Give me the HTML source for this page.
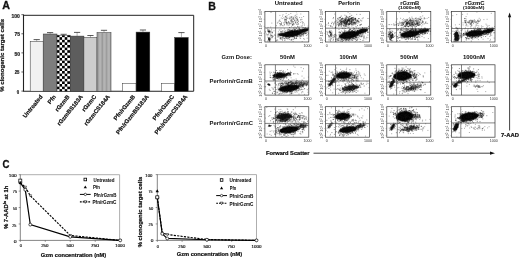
<!DOCTYPE html><html><head><meta charset="utf-8"><style>html,body{margin:0;padding:0;background:#fff;}svg{display:block;filter:grayscale(1) blur(0.35px);}text{font-family:"Liberation Sans", sans-serif;}</style></head><body>
<svg width="520" height="259" viewBox="0 0 520 259">
<defs>
<pattern id="chk" x="56.9" y="34.6" width="5.2" height="5.2" patternUnits="userSpaceOnUse"><rect width="5.2" height="5.2" fill="#fff"/><rect x="0" y="0" width="2.6" height="2.6" fill="#000"/><rect x="2.6" y="2.6" width="2.6" height="2.6" fill="#000"/></pattern>
<pattern id="str" x="96.9" y="0" width="4.3" height="10" patternUnits="userSpaceOnUse"><rect width="4.3" height="10" fill="#b4b4b4"/><rect x="0.3" width="1.6" height="10" fill="#9a9a9a"/></pattern>
<filter id="bl" x="-50%" y="-50%" width="200%" height="200%"><feGaussianBlur stdDeviation="0.6"/></filter>
<filter id="bl2" x="-50%" y="-50%" width="200%" height="200%"><feGaussianBlur stdDeviation="0.35"/></filter>
</defs>
<text id="tA" x="2.21" y="9.00" font-size="10.8" font-weight="bold" fill="#111" stroke="#111" stroke-width="0.3" textLength="7.73" lengthAdjust="spacingAndGlyphs">A</text>
<g stroke="#222" fill="none">
<path d="M23.5 15.3H193.7V91.2" stroke-width="1.0" stroke="#222"/>
<path d="M23.5 14.6V91.3H193.7" stroke-width="1.1"/>
<path d="M21.4 91.10H23.5" stroke-width="0.7"/>
<path d="M21.4 71.99H23.5" stroke-width="0.7"/>
<path d="M21.4 52.88H23.5" stroke-width="0.7"/>
<path d="M21.4 33.77H23.5" stroke-width="0.7"/>
<path d="M21.4 14.66H23.5" stroke-width="0.7"/>
</g>
<text id="ta100" x="11.44" y="17.50" font-size="5.5" font-weight="bold" fill="#222" stroke="#222" stroke-width="0.22" textLength="8.43" lengthAdjust="spacingAndGlyphs">100</text>
<text id="ta75" x="14.59" y="36.40" font-size="5.5" font-weight="bold" fill="#222" stroke="#222" stroke-width="0.22" textLength="5.51" lengthAdjust="spacingAndGlyphs">75</text>
<text id="ta50" x="14.55" y="55.80" font-size="5.5" font-weight="bold" fill="#222" stroke="#222" stroke-width="0.22" textLength="5.52" lengthAdjust="spacingAndGlyphs">50</text>
<text id="ta25" x="14.72" y="74.00" font-size="5.5" font-weight="bold" fill="#222" stroke="#222" stroke-width="0.22" textLength="4.70" lengthAdjust="spacingAndGlyphs">25</text>
<text id="ta0" x="16.65" y="93.80" font-size="5.5" font-weight="bold" fill="#222" stroke="#222" stroke-width="0.22" textLength="2.40" lengthAdjust="spacingAndGlyphs">0</text>
<text id="tayl" transform="translate(4.40 91.84) rotate(-90)" font-size="5.6" font-weight="bold" fill="#111" stroke="#111" stroke-width="0.22" textLength="72.92" lengthAdjust="spacingAndGlyphs">% clonogenic target cells</text>
<rect x="30.2" y="41.3" width="13.00" height="49.90" fill="#f1f1f1" stroke="#333" stroke-width="0.5"/>
<path d="M36.70 41.3V39.6" stroke="#555" stroke-width="0.45" fill="none"/><path d="M33.60 39.6H39.80" stroke="#222" stroke-width="0.75" fill="none"/>
<rect x="43.2" y="34.0" width="13.80" height="57.20" fill="#7d7d7d" stroke="#333" stroke-width="0.5"/>
<path d="M50.10 34.0V32.6" stroke="#555" stroke-width="0.45" fill="none"/><path d="M47.00 32.6H53.20" stroke="#222" stroke-width="0.75" fill="none"/>
<rect x="57.0" y="35.2" width="13.30" height="56.00" fill="url(#chk)" stroke="#333" stroke-width="0.5"/>
<path d="M63.65 35.2V34.3" stroke="#555" stroke-width="0.45" fill="none"/><path d="M60.55 34.3H66.75" stroke="#222" stroke-width="0.75" fill="none"/>
<rect x="70.3" y="36.1" width="13.60" height="55.10" fill="#5d5d5d" stroke="#333" stroke-width="0.5"/>
<path d="M77.10 36.1V32.4" stroke="#555" stroke-width="0.45" fill="none"/><path d="M74.00 32.4H80.20" stroke="#222" stroke-width="0.75" fill="none"/>
<rect x="83.9" y="37.5" width="13.10" height="53.70" fill="#cdcdcd" stroke="#333" stroke-width="0.5"/>
<path d="M90.45 37.5V35.5" stroke="#555" stroke-width="0.45" fill="none"/><path d="M87.35 35.5H93.55" stroke="#222" stroke-width="0.75" fill="none"/>
<rect x="97.0" y="32.6" width="14.00" height="58.60" fill="url(#str)" stroke="#333" stroke-width="0.5"/>
<path d="M104.00 32.6V30.3" stroke="#555" stroke-width="0.45" fill="none"/><path d="M100.90 30.3H107.10" stroke="#222" stroke-width="0.75" fill="none"/>
<rect x="122.4" y="83.6" width="13.70" height="7.60" fill="#fff" stroke="#333" stroke-width="0.5"/>
<rect x="136.1" y="32.1" width="13.70" height="59.10" fill="#000" stroke="#333" stroke-width="0.5"/>
<path d="M142.95 32.1V30.0" stroke="#555" stroke-width="0.45" fill="none"/><path d="M139.85 30.0H146.05" stroke="#222" stroke-width="0.75" fill="none"/>
<rect x="161.6" y="83.7" width="13.10" height="7.50" fill="#fff" stroke="#333" stroke-width="0.5"/>
<rect x="174.7" y="37.5" width="13.50" height="53.70" fill="#000" stroke="#333" stroke-width="0.5"/>
<path d="M181.45 37.5V32.6" stroke="#555" stroke-width="0.45" fill="none"/><path d="M178.35 32.6H184.55" stroke="#222" stroke-width="0.75" fill="none"/>
<text id="xlUntreated" transform="translate(42.90 97.0) rotate(-51)" font-size="5.9" font-weight="bold" text-anchor="end" fill="#111" stroke="#111" stroke-width="0.2">Untreated</text>
<text id="xlPfn" transform="translate(56.30 97.0) rotate(-51)" font-size="5.9" font-weight="bold" text-anchor="end" fill="#111" stroke="#111" stroke-width="0.2">Pfn</text>
<text id="xlrGzmB" transform="translate(69.85 97.0) rotate(-51)" font-size="5.9" font-weight="bold" text-anchor="end" fill="#111" stroke="#111" stroke-width="0.2">rGzmB</text>
<text id="xlrGzmBS183A" transform="translate(83.30 97.0) rotate(-51)" font-size="5.9" font-weight="bold" text-anchor="end" fill="#111" stroke="#111" stroke-width="0.2">rGzmBS183A</text>
<text id="xlrGzmC" transform="translate(96.65 97.0) rotate(-51)" font-size="5.9" font-weight="bold" text-anchor="end" fill="#111" stroke="#111" stroke-width="0.2">rGzmC</text>
<text id="xlrGzmCS184A" transform="translate(110.20 97.0) rotate(-51)" font-size="5.9" font-weight="bold" text-anchor="end" fill="#111" stroke="#111" stroke-width="0.2">rGzmCS184A</text>
<text id="xlPfn/rGzmB" transform="translate(135.45 97.0) rotate(-51)" font-size="5.9" font-weight="bold" text-anchor="end" fill="#111" stroke="#111" stroke-width="0.2">Pfn/rGzmB</text>
<text id="xlPfn/rGzmBS183A" transform="translate(149.15 97.0) rotate(-51)" font-size="5.9" font-weight="bold" text-anchor="end" fill="#111" stroke="#111" stroke-width="0.2">Pfn/rGzmBS183A</text>
<text id="xlPfn/rGzmC" transform="translate(174.35 97.0) rotate(-51)" font-size="5.9" font-weight="bold" text-anchor="end" fill="#111" stroke="#111" stroke-width="0.2">Pfn/rGzmC</text>
<text id="xlPfn/rGzmCS184A" transform="translate(187.65 97.0) rotate(-51)" font-size="5.9" font-weight="bold" text-anchor="end" fill="#111" stroke="#111" stroke-width="0.2">Pfn/rGzmCS184A</text>
<text id="tB" x="208.21" y="9.50" font-size="10.8" font-weight="bold" fill="#111" stroke="#111" stroke-width="0.3" textLength="7.66" lengthAdjust="spacingAndGlyphs">B</text>
<text id="tb1" x="274.79" y="5.00" font-size="5.6" font-weight="bold" fill="#111" stroke="#111" stroke-width="0.04" textLength="27.94" lengthAdjust="spacingAndGlyphs">Untreated</text>
<text id="tb2" x="338.21" y="5.00" font-size="5.6" font-weight="bold" fill="#111" stroke="#111" stroke-width="0.04" textLength="21.84" lengthAdjust="spacingAndGlyphs">Perforin</text>
<text id="tb3" x="400.19" y="4.90" font-size="5.2" font-weight="bold" fill="#111" stroke="#111" stroke-width="0.04" textLength="19.15" lengthAdjust="spacingAndGlyphs">rGzmB</text>
<text id="tb3n" x="398.35" y="8.50" font-size="4.4" font-weight="bold" fill="#111" stroke="#111" stroke-width="0.04" textLength="22.33" lengthAdjust="spacingAndGlyphs">(1000nM)</text>
<text id="tb4" x="465.12" y="5.30" font-size="5.2" font-weight="bold" fill="#111" stroke="#111" stroke-width="0.04" textLength="19.40" lengthAdjust="spacingAndGlyphs">rGzmC</text>
<text id="tb4n" x="463.00" y="8.50" font-size="4.4" font-weight="bold" fill="#111" stroke="#111" stroke-width="0.04" textLength="21.37" lengthAdjust="spacingAndGlyphs">(1000nM)</text>
<text id="tgd" x="221.50" y="59.00" font-size="5.6" font-weight="bold" fill="#111" textLength="30.40" lengthAdjust="spacingAndGlyphs">Gzm Dose:</text>
<text id="td1" x="280.07" y="59.10" font-size="5.6" font-weight="bold" fill="#111" stroke="#111" stroke-width="0.03" textLength="14.92" lengthAdjust="spacingAndGlyphs">50nM</text>
<text id="td2" x="339.43" y="59.00" font-size="5.6" font-weight="bold" fill="#111" stroke="#111" stroke-width="0.03" textLength="17.58" lengthAdjust="spacingAndGlyphs">100nM</text>
<text id="td3" x="400.34" y="59.00" font-size="5.6" font-weight="bold" fill="#111" stroke="#111" stroke-width="0.03" textLength="17.80" lengthAdjust="spacingAndGlyphs">500nM</text>
<text id="td4" x="462.93" y="59.00" font-size="5.6" font-weight="bold" fill="#111" stroke="#111" stroke-width="0.03" textLength="22.09" lengthAdjust="spacingAndGlyphs">1000nM</text>
<text id="tpb" x="209.55" y="83.40" font-size="5.6" font-weight="bold" fill="#111" textLength="43.27" lengthAdjust="spacingAndGlyphs">Perforin/rGzmB</text>
<text id="tpc" x="209.49" y="125.40" font-size="5.6" font-weight="bold" fill="#111" textLength="43.44" lengthAdjust="spacingAndGlyphs">Perforin/rGzmC</text>
<text id="tfs" x="266.02" y="154.50" font-size="5.6" font-weight="bold" fill="#111" stroke="#111" stroke-width="0.22" textLength="43.43" lengthAdjust="spacingAndGlyphs">Forward Scatter</text>
<path d="M313.5 153.2H491" stroke="#111" stroke-width="0.8"/><path d="M495 153.2L490 151.6V154.8Z" fill="#111"/>
<path d="M509.6 130.5V16.5" stroke="#111" stroke-width="0.8"/><path d="M509.6 12.6L508 17.2H511.2Z" fill="#111"/>
<text id="t7a" x="501.03" y="136.60" font-size="5.6" font-weight="bold" fill="#111" stroke="#111" stroke-width="0.22" textLength="17.91" lengthAdjust="spacingAndGlyphs">7-AAD</text>
<clipPath id="c00"><rect x="264.9" y="11.6" width="43.90" height="30.40"/></clipPath>
<g clip-path="url(#c00)">
<ellipse cx="292" cy="33.6" rx="10.20" ry="3.04" transform="rotate(-10 292 33.6)" fill="#000" fill-opacity="1" filter="url(#bl)"/>
<ellipse cx="303.5" cy="30.5" rx="5.10" ry="1.84" transform="rotate(-14 303.5 30.5)" fill="#000" fill-opacity="1" filter="url(#bl)"/>
<ellipse cx="281.5" cy="34.6" rx="3.40" ry="1.12" transform="rotate(-6 281.5 34.6)" fill="#000" fill-opacity="0.8" filter="url(#bl)"/>
<ellipse cx="269.3" cy="39.5" rx="0.85" ry="1.12" transform="rotate(0 269.3 39.5)" fill="#000" fill-opacity="0.6" filter="url(#bl)"/>
<ellipse cx="269.3" cy="31.5" rx="0.85" ry="0.96" transform="rotate(0 269.3 31.5)" fill="#000" fill-opacity="0.4" filter="url(#bl)"/>
<path d="M281.2 32.8h0M281.5 34.4h0M305.4 33.6h0M282.7 34.2h0M278.4 34.3h0M293.9 33.7h0M281.4 34.7h0M297.2 34.9h0M280.4 35.1h0M288.9 31.9h0M291.0 34.4h0M268.6 38.6h0M285.1 32.3h0M299.1 27.6h0M305.0 33.3h0M306.2 30.4h0M279.6 34.5h0M294.2 33.5h0M290.8 35.4h0M288.5 34.8h0M269.3 31.9h0M299.2 31.5h0M301.8 35.6h0M269.2 39.4h0M295.8 35.0h0M298.9 31.3h0M291.0 33.1h0M281.8 35.4h0M287.3 29.9h0M305.0 30.0h0M299.5 31.2h0M268.3 40.2h0M301.7 29.8h0M308.1 27.6h0M305.0 30.7h0M269.5 37.9h0M299.9 29.4h0M280.9 31.5h0M284.0 33.7h0M301.4 31.0h0M288.2 34.3h0M288.8 32.5h0M291.7 34.4h0M287.1 35.0h0M300.2 29.8h0M304.6 28.9h0M303.9 30.2h0M301.4 31.0h0M285.9 32.5h0M292.3 35.4h0M295.7 35.3h0M291.7 39.5h0M308.8 29.8h0M287.0 31.3h0M282.8 35.7h0M299.5 31.8h0M295.9 34.6h0M305.9 30.3h0M299.9 29.5h0M290.1 29.7h0M280.9 37.4h0M284.4 34.9h0M297.6 26.4h0M292.3 35.7h0M293.2 34.7h0M289.2 33.2h0M293.9 31.6h0M295.0 33.9h0M292.1 34.0h0M305.0 32.5h0M299.3 33.8h0M290.2 35.9h0M277.7 35.2h0M294.5 33.6h0M299.2 32.4h0M301.1 33.3h0M288.0 35.6h0M283.5 34.8h0M286.3 33.5h0M296.2 34.5h0M299.0 33.3h0M294.8 32.6h0M304.7 29.4h0M282.0 31.9h0M270.3 31.6h0M305.3 30.8h0M298.4 32.5h0M300.7 29.9h0M289.6 35.5h0M292.4 30.3h0M291.0 31.9h0M291.8 34.8h0M293.6 36.1h0M303.3 30.8h0M308.4 28.1h0M279.6 34.3h0M289.0 36.6h0M305.5 29.8h0M301.7 34.6h0M308.3 29.8h0M295.4 34.3h0M282.9 34.1h0M303.3 31.9h0M280.3 35.5h0M305.7 29.8h0M269.5 31.4h0M299.0 31.3h0M284.6 38.6h0M295.1 32.7h0M287.9 32.6h0M275.0 35.5h0M298.6 33.8h0M294.6 32.7h0M269.1 39.0h0M296.0 35.0h0M286.5 34.9h0M298.3 31.8h0M294.6 34.1h0M305.9 32.9h0M281.5 35.0h0M294.7 30.6h0M278.4 35.7h0M302.2 31.8h0M283.7 33.9h0M282.8 35.8h0M306.3 33.6h0M299.0 31.7h0M268.8 37.9h0M282.2 34.6h0M290.3 33.2h0M282.9 38.2h0M285.1 34.5h0M284.9 35.7h0M285.2 35.4h0M282.9 33.1h0M297.7 29.9h0M292.4 35.4h0M304.4 28.0h0M279.2 34.0h0M297.5 30.7h0M287.5 35.6h0M291.5 30.3h0M270.1 38.7h0M269.1 39.9h0M300.5 32.1h0M269.5 39.8h0M301.7 30.0h0M296.3 32.2h0M291.5 33.0h0" stroke="#111" stroke-opacity="0.6" stroke-width="0.8" stroke-linecap="square" fill="none"/>
<path d="M286.4 34.4h0M300.2 32.1h0M287.5 35.0h0M292.1 37.1h0M296.8 32.8h0M284.2 34.0h0M288.5 29.6h0M291.2 34.2h0M285.0 34.3h0M301.1 32.0h0M269.8 41.0h0M302.2 34.2h0M269.0 31.6h0M286.7 35.1h0M286.2 38.3h0M294.1 34.2h0M279.1 37.0h0M300.5 33.3h0M281.9 34.5h0M290.0 30.7h0M286.6 36.2h0M290.7 33.1h0M295.1 32.1h0M306.0 29.6h0M284.4 34.9h0M291.2 32.2h0M286.1 32.8h0M302.8 32.2h0M298.0 35.6h0M282.5 33.2h0M283.1 35.7h0M294.5 36.1h0M294.9 31.6h0M295.8 38.5h0M293.7 31.9h0M303.4 32.8h0M289.0 34.4h0M290.5 33.1h0M291.8 34.4h0M281.5 34.9h0M290.6 33.7h0M303.0 31.8h0M303.1 30.5h0M294.3 34.7h0M292.6 30.8h0M290.1 34.8h0M303.4 30.5h0M303.7 30.8h0M269.1 31.5h0M302.9 31.2h0M296.0 31.8h0M291.4 34.1h0M280.4 38.9h0M295.5 32.9h0M290.3 35.7h0M305.6 27.5h0M294.5 33.7h0M300.0 29.7h0M290.8 31.3h0M292.3 34.1h0M286.4 33.5h0M296.9 34.0h0M279.4 35.2h0M282.1 37.3h0M304.9 29.9h0M285.5 37.0h0M277.6 36.9h0M268.3 31.1h0M281.3 33.0h0M301.8 34.5h0M288.2 36.3h0M297.9 36.0h0M280.4 33.2h0M297.5 33.9h0M300.6 31.5h0M304.5 30.6h0M281.9 34.4h0M294.7 35.7h0M291.4 35.4h0M304.0 31.4h0M303.1 29.1h0M279.3 30.0h0M287.8 36.7h0M280.0 33.2h0M285.1 31.4h0M296.0 34.0h0M298.4 30.4h0M286.2 34.1h0M293.2 36.0h0M296.6 38.2h0M269.4 40.9h0M308.0 28.8h0M292.8 33.8h0M292.0 35.8h0M292.1 35.0h0M304.2 30.7h0M296.5 28.6h0M306.4 30.3h0M290.7 30.9h0M283.3 37.0h0M280.4 35.8h0M289.2 31.8h0M304.5 32.2h0M295.3 32.7h0M298.5 34.3h0M303.6 30.6h0M287.1 38.1h0M293.9 33.2h0M268.6 31.7h0M304.1 30.9h0M302.0 33.3h0M295.0 35.5h0M296.6 33.5h0M307.1 31.8h0M296.0 33.4h0M292.0 31.7h0M291.3 36.1h0M293.6 34.8h0M298.8 32.7h0M298.9 30.0h0M289.6 37.6h0M285.8 33.5h0M298.1 33.8h0M289.1 30.9h0M290.3 31.0h0M294.4 29.5h0M292.2 30.6h0M280.9 34.3h0M291.6 31.0h0M289.7 39.3h0M287.9 38.4h0M281.6 35.2h0M293.5 32.1h0M296.2 33.6h0M280.9 35.3h0M293.3 33.5h0M294.9 27.1h0M293.6 32.3h0M293.0 36.5h0M270.6 39.6h0M294.4 30.9h0M286.1 33.8h0M268.9 39.3h0M295.3 34.2h0M268.9 32.0h0M283.6 34.9h0M309.0 28.4h0M293.9 28.4h0" stroke="#111" stroke-opacity="0.6" stroke-width="0.8" stroke-linecap="square" fill="none"/>
<path d="M302.3 25.9h0M280.0 34.3h0M291.7 33.2h0M290.6 33.9h0M290.6 36.3h0M282.1 33.9h0M268.8 30.3h0M280.5 38.0h0M301.4 33.6h0M284.9 35.3h0M294.4 38.1h0M280.4 38.1h0M297.5 32.0h0M300.1 33.9h0M301.6 31.5h0M286.0 34.7h0M302.5 32.7h0M289.8 33.7h0M282.5 35.0h0M303.5 31.3h0M280.8 33.8h0M291.8 34.8h0M288.6 38.2h0M306.0 28.9h0M292.3 35.5h0M299.9 31.9h0M305.6 31.1h0M296.4 33.6h0M297.9 27.1h0M279.5 35.1h0M288.0 36.0h0M286.6 36.3h0M281.3 34.1h0M306.9 30.1h0M302.5 29.9h0M287.8 33.4h0M307.0 32.7h0M295.0 32.9h0M293.6 39.3h0M297.0 33.1h0M296.7 32.5h0M277.9 34.1h0M302.0 31.5h0M305.8 29.4h0M280.7 35.4h0M300.8 31.0h0M300.9 31.6h0M293.7 31.7h0M290.0 32.9h0M295.6 29.5h0M269.6 40.7h0M284.1 31.9h0M307.6 29.0h0M287.4 35.9h0M299.6 35.7h0M289.4 32.3h0M298.0 32.6h0M283.1 33.6h0M301.2 26.2h0M291.4 31.7h0M296.5 35.0h0M303.4 31.6h0M297.1 34.4h0M298.8 32.8h0M291.2 32.4h0M301.6 31.0h0M284.1 34.6h0M287.1 35.1h0M290.2 35.4h0M301.7 31.8h0M299.2 29.4h0M298.1 29.2h0M285.6 33.9h0M282.4 33.9h0M295.1 33.5h0M291.1 33.6h0M293.5 32.3h0M293.7 34.3h0M268.7 31.5h0M282.0 39.5h0M302.0 31.1h0M305.8 28.8h0M281.6 34.3h0M293.1 35.0h0M295.5 33.0h0M291.3 32.0h0M303.2 27.5h0M286.4 32.6h0M301.0 32.9h0M304.4 31.7h0M295.5 31.6h0M307.8 28.6h0M292.0 36.0h0M295.2 29.0h0M304.2 29.4h0M308.8 33.3h0M299.3 34.3h0M295.1 34.5h0M288.0 34.2h0M295.9 35.7h0M299.4 28.7h0M289.3 36.9h0M311.3 25.9h0M285.3 33.3h0M300.8 29.7h0M280.7 35.3h0M296.0 33.5h0M282.3 35.3h0M302.9 34.0h0M297.5 32.9h0M291.5 33.7h0M287.0 36.7h0M292.8 36.5h0M297.1 34.9h0M282.1 31.6h0M300.5 33.6h0M295.4 30.8h0M297.3 36.3h0M289.9 27.7h0M281.6 34.0h0M297.9 30.1h0M287.5 34.1h0M281.4 35.9h0M298.5 33.0h0M298.0 32.1h0M302.6 34.0h0M268.5 39.2h0M303.4 30.2h0M284.3 28.9h0M300.4 30.5h0M303.5 33.4h0M288.2 36.2h0M291.6 30.3h0M294.0 29.8h0M304.6 31.0h0M297.4 31.3h0M290.6 35.0h0M287.6 31.1h0M281.8 35.5h0M302.1 32.1h0M290.8 33.7h0M294.1 35.1h0M288.6 34.0h0M301.8 31.8h0M303.9 31.5h0M299.1 28.6h0M288.7 31.3h0M300.9 36.2h0" stroke="#111" stroke-opacity="0.6" stroke-width="0.8" stroke-linecap="square" fill="none"/>
<path d="M294.4 30.0h0M288.7 21.6h0M286.3 17.7h0M292.2 25.2h0M277.7 40.3h0M283.5 22.9h0M280.1 38.7h0M297.5 19.1h0M279.9 15.4h0M279.6 20.8h0M288.1 33.9h0M286.2 22.1h0M284.7 20.5h0M294.2 37.0h0M299.6 34.6h0M288.9 35.4h0M289.5 37.7h0M302.6 29.7h0M294.5 38.6h0M281.1 24.3h0M286.7 24.8h0M286.2 23.1h0M291.8 34.1h0M293.0 18.5h0M296.7 16.4h0M286.4 19.2h0M270.1 33.3h0M300.8 14.0h0M277.1 39.7h0M293.6 19.4h0M284.7 19.2h0M270.2 41.0h0M298.4 24.2h0M296.0 23.3h0M304.4 25.2h0M300.0 32.5h0M281.3 18.0h0M290.8 13.5h0M302.6 22.1h0M270.6 12.1h0M300.7 36.0h0M293.2 17.1h0M284.3 33.9h0M271.6 29.3h0M291.0 17.4h0M285.5 19.6h0M268.8 38.0h0M267.9 29.7h0M303.2 35.9h0M297.7 19.6h0M267.6 34.7h0M296.1 33.9h0M289.4 24.9h0M292.2 22.9h0M291.7 17.6h0M299.1 26.6h0M284.8 19.5h0M305.7 31.2h0M292.0 33.2h0M272.8 35.9h0M289.2 22.9h0M294.3 37.7h0M267.1 35.1h0M280.8 31.2h0M293.7 21.8h0M270.2 35.9h0M293.8 32.5h0M297.2 35.9h0M297.1 17.3h0M272.0 33.1h0M292.5 33.2h0M300.7 33.8h0M267.8 41.1h0M295.5 22.7h0M267.2 43.9h0M292.8 25.5h0M291.8 16.6h0M281.5 38.4h0M276.5 25.7h0M294.7 32.5h0M280.4 21.5h0M294.8 16.1h0M268.9 38.6h0M288.0 29.2h0M288.6 21.8h0M279.9 34.4h0M289.6 30.1h0M293.8 36.2h0M272.4 32.3h0M278.6 33.8h0M289.3 29.8h0M300.9 36.2h0M310.8 34.3h0M299.9 31.1h0M300.6 35.6h0M306.4 35.5h0M290.8 34.6h0M271.0 35.4h0M285.8 37.2h0M289.6 18.6h0M283.9 17.7h0M286.7 36.2h0M274.8 34.4h0M266.5 34.0h0M289.2 23.1h0M291.2 16.7h0M289.3 34.4h0M311.5 24.6h0M280.2 25.7h0M291.5 26.8h0M304.8 33.8h0M296.9 20.9h0M291.0 23.9h0M296.0 35.0h0M292.1 20.1h0M292.6 29.7h0M269.4 32.7h0M271.3 35.1h0M293.2 18.1h0M271.3 35.8h0M282.5 40.3h0M289.0 18.2h0M281.8 35.5h0M303.1 34.5h0M279.5 23.7h0M293.9 33.2h0M284.6 23.0h0M293.1 41.4h0M268.1 31.1h0M290.9 33.1h0M299.9 32.6h0M289.9 33.0h0M291.2 31.7h0M287.1 15.8h0M285.3 16.4h0M302.2 41.6h0M267.6 30.3h0M284.3 25.0h0M282.8 30.5h0M291.0 21.4h0M281.1 34.1h0M293.5 24.3h0M294.6 20.2h0M300.7 19.4h0M287.0 23.0h0M285.4 21.0h0M284.5 21.9h0M287.8 24.1h0M270.9 37.0h0M294.0 33.0h0M286.5 22.8h0M285.2 30.4h0M282.5 16.1h0M293.7 23.2h0M292.9 24.7h0M301.9 19.5h0M296.7 33.7h0M299.6 17.5h0M292.0 34.2h0M282.2 25.5h0M282.9 35.9h0M268.9 32.1h0M286.7 23.3h0M296.6 24.4h0M305.3 33.4h0M270.8 32.3h0M289.2 23.8h0M278.7 36.7h0M303.7 33.6h0M271.7 35.9h0M300.3 34.0h0M269.2 39.6h0M278.0 22.3h0M286.4 36.3h0M304.0 32.6h0M286.4 19.8h0M289.8 17.1h0M312.0 32.4h0M293.6 17.8h0M292.5 21.5h0M269.1 37.7h0M291.6 22.9h0M303.6 16.5h0M289.3 35.3h0M280.2 23.5h0M281.6 22.4h0M277.4 23.1h0M297.6 24.7h0M302.5 23.8h0M283.1 25.8h0M286.1 19.7h0" stroke="#111" stroke-opacity="0.42" stroke-width="0.85" stroke-linecap="square" fill="none"/>
<path d="M289.5 27.5h0M308.0 26.1h0M284.8 38.6h0M297.6 22.8h0M303.3 22.6h0M294.2 37.5h0M270.5 38.7h0M292.5 24.5h0M279.8 19.9h0M281.5 23.4h0M283.9 35.1h0M273.2 36.4h0M268.0 29.7h0M304.2 23.9h0M272.2 37.8h0M268.9 31.5h0M298.3 23.7h0M297.8 34.6h0M283.9 36.0h0M268.4 38.0h0M289.0 35.5h0M296.3 30.3h0M278.9 21.1h0M307.3 34.7h0M288.2 37.1h0M303.7 34.4h0M291.6 19.4h0M285.2 36.1h0M286.7 36.4h0M269.1 30.4h0M303.3 35.7h0M272.1 35.3h0M284.5 24.6h0M285.3 35.8h0M282.7 18.6h0M268.0 27.4h0M285.8 16.4h0M303.7 38.5h0M300.1 35.0h0M293.4 23.6h0M291.7 40.3h0M287.7 35.8h0M302.3 27.9h0M291.8 19.9h0M286.2 34.0h0M295.3 17.5h0M299.1 35.8h0M296.7 33.8h0M298.4 21.7h0M296.7 35.9h0M294.2 19.0h0M292.3 22.1h0M285.5 33.3h0M296.6 35.7h0M278.4 31.8h0M289.2 33.7h0M276.1 40.9h0M302.0 21.7h0M270.4 34.4h0M298.3 21.1h0M291.4 21.3h0M288.1 22.7h0M293.2 32.7h0M315.3 28.8h0M290.9 40.1h0M271.6 12.1h0M283.1 38.6h0M281.0 29.1h0M286.0 21.1h0M297.7 32.7h0M271.2 37.8h0M295.8 17.2h0M269.1 38.5h0M297.0 20.6h0M283.0 36.2h0M286.0 17.2h0M309.9 32.7h0M298.4 31.6h0M269.8 43.9h0M294.3 33.1h0M272.0 32.0h0M267.0 28.5h0M289.9 37.2h0M292.4 35.8h0M293.0 19.0h0M276.5 40.7h0M269.4 30.1h0M289.4 34.4h0M295.8 18.9h0M285.7 16.9h0M297.3 22.5h0M282.5 35.3h0M286.5 37.0h0M295.9 22.1h0M295.5 22.1h0M299.1 36.3h0M272.5 32.7h0M300.6 38.4h0M286.5 22.5h0M272.5 36.6h0M297.6 19.1h0M291.0 31.8h0M296.2 37.6h0M284.7 40.4h0M281.3 24.6h0M284.6 34.8h0M304.1 33.1h0M265.1 32.4h0M293.7 21.8h0M294.5 20.6h0M296.5 19.0h0M288.2 25.4h0M280.6 24.7h0M285.1 19.1h0M300.6 22.4h0M296.3 18.6h0M289.9 23.0h0M288.0 22.4h0M285.8 22.3h0M296.2 27.6h0M303.7 33.7h0M295.2 20.8h0M268.3 34.9h0M265.5 31.4h0M287.2 23.8h0M291.8 35.2h0M286.0 33.7h0M286.3 38.3h0M295.6 15.3h0M310.2 24.6h0M284.8 43.0h0M274.0 30.8h0M296.5 38.3h0M283.0 14.7h0M284.2 33.7h0M296.9 14.2h0M297.8 20.4h0M294.3 24.2h0M286.6 20.9h0M300.8 20.1h0M288.8 14.6h0M287.0 18.3h0M286.2 13.4h0M290.1 19.2h0M285.3 33.7h0M297.2 34.6h0M269.3 38.6h0M281.0 23.8h0M292.4 36.7h0M267.8 31.6h0M287.3 18.2h0M282.7 37.4h0M282.2 34.1h0M284.2 32.2h0M301.7 17.7h0M296.9 36.3h0M290.9 18.3h0M287.9 39.2h0M296.7 33.4h0M290.8 20.6h0M292.9 36.3h0M286.5 34.7h0M275.2 38.2h0M294.3 33.4h0M302.3 31.2h0M292.2 39.1h0M264.4 34.6h0M271.0 31.8h0M267.7 37.1h0M296.2 36.0h0M294.8 30.9h0M290.3 23.4h0M291.1 20.5h0M272.3 37.3h0M268.5 33.9h0M315.9 37.5h0M296.4 11.9h0M304.3 39.3h0M294.6 32.9h0M296.3 34.3h0M270.7 27.1h0M286.3 37.2h0M271.0 30.6h0M271.8 23.1h0M299.9 37.9h0M292.5 24.3h0M293.2 27.6h0M285.1 39.9h0M307.2 38.2h0M291.9 21.0h0" stroke="#111" stroke-opacity="0.42" stroke-width="0.85" stroke-linecap="square" fill="none"/>
</g>
<rect x="264.9" y="11.6" width="43.90" height="30.40" fill="none" stroke="#333" stroke-width="0.7"/>
<path d="M275.6 11.6V42.0M264.9 27.9H308.8" stroke="#333" stroke-width="0.6"/>
<text transform="translate(262.1 40.5) rotate(-90)" font-size="4.1" fill="#555" text-anchor="middle">10<tspan font-size="2.9" dy="-1.2">0</tspan></text>
<path d="M263.7 40.5H264.9" stroke="#666" stroke-width="0.4"/>
<text transform="translate(262.1 33.4) rotate(-90)" font-size="4.1" fill="#555" text-anchor="middle">10<tspan font-size="2.9" dy="-1.2">1</tspan></text>
<path d="M263.7 33.4H264.9" stroke="#666" stroke-width="0.4"/>
<text transform="translate(262.1 26.4) rotate(-90)" font-size="4.1" fill="#555" text-anchor="middle">10<tspan font-size="2.9" dy="-1.2">2</tspan></text>
<path d="M263.7 26.4H264.9" stroke="#666" stroke-width="0.4"/>
<text transform="translate(262.1 19.3) rotate(-90)" font-size="4.1" fill="#555" text-anchor="middle">10<tspan font-size="2.9" dy="-1.2">3</tspan></text>
<path d="M263.7 19.3H264.9" stroke="#666" stroke-width="0.4"/>
<text transform="translate(262.1 12.2) rotate(-90)" font-size="4.1" fill="#555" text-anchor="middle">10<tspan font-size="2.9" dy="-1.2">4</tspan></text>
<path d="M263.7 12.2H264.9" stroke="#666" stroke-width="0.4"/>
<text x="266.1" y="46.5" font-size="3.6" fill="#333" text-anchor="middle">0</text>
<text x="307.5" y="46.5" font-size="3.6" fill="#333" text-anchor="middle">1000</text>
<clipPath id="c01"><rect x="325.5" y="11.6" width="43.90" height="30.40"/></clipPath>
<g clip-path="url(#c01)">
<ellipse cx="349" cy="35" rx="10.20" ry="3.68" transform="rotate(-10 349 35)" fill="#000" fill-opacity="1" filter="url(#bl)"/>
<ellipse cx="362" cy="31.2" rx="5.95" ry="2.08" transform="rotate(-15 362 31.2)" fill="#000" fill-opacity="1" filter="url(#bl)"/>
<ellipse cx="347" cy="22" rx="10.20" ry="3.36" transform="rotate(-6 347 22)" fill="#000" fill-opacity="0.2" filter="url(#bl)"/>
<path d="M331.7 34.8h0M351.7 19.9h0M351.5 32.1h0M350.7 37.5h0M342.5 18.1h0M351.5 20.8h0M344.2 28.2h0M347.5 32.6h0M346.7 23.7h0M354.0 29.8h0M350.3 32.7h0M346.9 24.5h0M367.3 30.5h0M349.1 21.7h0M357.3 32.3h0M345.4 23.1h0M348.9 35.7h0M348.1 36.8h0M348.3 33.8h0M349.7 20.6h0M358.4 32.1h0M359.6 25.1h0M356.0 33.9h0M349.5 35.2h0M354.0 36.3h0M341.7 21.3h0M341.6 23.2h0M344.3 37.0h0M343.4 35.0h0M355.6 33.4h0M348.5 40.4h0M335.8 26.9h0M363.7 30.9h0M362.6 31.2h0M345.0 38.1h0M351.4 21.4h0M340.3 37.0h0M355.5 32.4h0M364.3 30.0h0M346.5 37.5h0M364.9 31.2h0M341.7 23.9h0M351.3 33.8h0M346.4 22.8h0M342.5 36.4h0M357.5 20.3h0M346.9 36.6h0M349.3 18.5h0M347.5 35.7h0M343.6 22.6h0M357.5 25.6h0M348.7 39.4h0M361.7 20.9h0M366.2 30.5h0M346.5 33.6h0M367.4 29.7h0M362.8 32.9h0M348.3 35.5h0M352.0 33.9h0M361.4 29.5h0M344.8 33.9h0M355.2 18.3h0M350.5 23.5h0M363.2 17.9h0M349.8 23.6h0M350.3 34.0h0M354.9 38.8h0M352.1 35.4h0M348.5 36.9h0M348.2 20.5h0M349.5 24.4h0M354.1 33.4h0M350.0 38.2h0M346.4 32.6h0M363.0 33.1h0M364.3 31.2h0M336.0 37.9h0M351.1 22.6h0M345.8 20.3h0M353.4 35.8h0M348.3 38.5h0M353.7 17.3h0M359.1 30.3h0M348.3 19.1h0M358.4 22.0h0M348.5 20.0h0M348.3 32.6h0M354.7 19.1h0M348.0 37.7h0M359.0 36.0h0M347.6 21.3h0M348.6 24.1h0M352.2 33.7h0M361.0 28.3h0M345.2 18.0h0M349.0 23.9h0M341.3 21.4h0M354.3 31.0h0M351.8 18.1h0M344.0 20.0h0M364.2 29.6h0M362.0 33.9h0M345.9 22.9h0M340.7 36.6h0M346.5 24.0h0M350.0 40.2h0M365.0 30.3h0M346.7 39.6h0M350.0 34.4h0M352.1 19.2h0M347.3 35.9h0M339.8 24.4h0M352.4 35.3h0M346.4 33.3h0M348.0 20.2h0M343.1 21.1h0M350.6 29.6h0M344.8 23.5h0M343.2 34.6h0M341.0 22.4h0M348.0 20.7h0M347.7 37.7h0M363.1 30.3h0M360.1 31.8h0M344.2 25.7h0M341.0 23.3h0M347.5 20.9h0M355.4 18.8h0M346.3 24.4h0M343.4 36.5h0M346.2 35.0h0M345.6 19.8h0M363.0 31.1h0M360.7 24.7h0M348.6 20.4h0M344.2 35.8h0M368.2 32.2h0M353.6 31.9h0M357.2 34.9h0M350.0 29.1h0M344.8 23.4h0M349.0 24.4h0M357.7 32.0h0M345.9 40.0h0M347.7 40.1h0M345.3 25.2h0M352.1 36.8h0M347.2 21.4h0M348.3 24.1h0M353.7 22.2h0M350.6 35.5h0M350.0 37.4h0M346.7 36.2h0M367.8 32.5h0M347.4 21.9h0M347.5 21.3h0M339.9 20.4h0M356.1 37.0h0M355.2 22.5h0M353.3 27.9h0M355.2 35.3h0M348.3 20.7h0M339.0 37.9h0M345.4 24.4h0M340.5 22.6h0M344.6 21.3h0M345.4 37.9h0M345.4 26.4h0M354.0 35.1h0M355.8 33.0h0M351.2 32.3h0M349.4 36.7h0M346.8 26.4h0M351.3 22.3h0M355.6 35.9h0M349.1 30.2h0M360.8 29.6h0M341.9 24.7h0M332.2 22.3h0M363.6 30.0h0M352.6 30.9h0M351.6 34.3h0M352.4 37.7h0M343.4 34.7h0M346.5 18.4h0M365.4 30.0h0M357.2 30.1h0M339.7 35.6h0M354.5 22.3h0M357.5 39.8h0M348.9 17.4h0M349.5 16.6h0M346.3 23.7h0M356.7 31.9h0M353.1 37.6h0M344.2 24.2h0M350.4 16.3h0M348.7 20.7h0M344.1 20.1h0M349.3 37.0h0M351.2 39.3h0M351.0 32.6h0M353.6 31.5h0M343.9 32.7h0M342.9 28.6h0M358.1 32.0h0M348.6 35.3h0M365.2 31.2h0M334.9 37.0h0M347.9 17.6h0M345.1 36.5h0M341.7 18.8h0M345.7 18.3h0M344.2 21.6h0M355.5 34.6h0M341.2 25.6h0M349.9 22.6h0M344.8 34.3h0M345.4 33.3h0M352.5 36.6h0M364.1 38.0h0M345.9 23.1h0M351.5 18.6h0M351.3 24.2h0M358.7 21.0h0M342.2 28.2h0M360.5 25.0h0M361.4 30.1h0M353.0 33.8h0M349.2 36.8h0M356.1 39.8h0M347.9 20.0h0M347.0 34.6h0M346.1 26.0h0M355.1 37.2h0M344.1 22.2h0M352.8 38.9h0M367.4 29.9h0M355.7 18.4h0M349.7 31.0h0" stroke="#111" stroke-opacity="0.6" stroke-width="0.8" stroke-linecap="square" fill="none"/>
<path d="M357.1 31.2h0M340.8 36.1h0M349.7 19.4h0M345.5 20.3h0M345.7 34.2h0M342.5 21.6h0M356.3 22.7h0M351.4 33.4h0M357.5 35.7h0M350.5 18.3h0M333.5 17.6h0M353.4 24.8h0M341.2 24.4h0M359.9 30.7h0M356.0 26.7h0M359.5 31.6h0M353.2 18.3h0M328.4 23.6h0M340.7 20.3h0M367.6 31.8h0M342.6 18.8h0M352.4 24.2h0M352.7 34.8h0M343.9 34.7h0M349.8 33.0h0M346.9 39.0h0M341.7 38.6h0M338.6 24.2h0M363.5 30.2h0M358.9 33.2h0M343.1 21.4h0M349.9 32.8h0M351.4 18.9h0M365.1 32.5h0M350.9 21.6h0M355.1 36.2h0M348.7 20.6h0M354.9 23.1h0M342.0 39.1h0M362.5 31.0h0M358.4 34.5h0M334.9 35.4h0M346.9 37.8h0M357.4 21.4h0M359.6 32.0h0M350.5 37.8h0M354.7 35.4h0M357.2 34.6h0M341.6 21.6h0M344.5 32.1h0M342.4 32.2h0M352.0 34.7h0M353.4 35.0h0M342.5 37.8h0M349.6 24.1h0M350.0 35.3h0M351.3 21.7h0M346.8 21.3h0M343.9 37.9h0M363.6 30.3h0M338.9 25.9h0M337.9 39.6h0M364.6 27.9h0M349.3 37.9h0M358.1 32.0h0M352.0 35.0h0M349.1 27.0h0M353.2 20.4h0M362.5 27.9h0M363.5 31.9h0M344.3 32.6h0M346.2 37.4h0M337.8 22.5h0M359.6 29.9h0M342.0 19.5h0M346.3 33.1h0M352.4 21.9h0M359.2 35.6h0M346.3 33.0h0M351.7 15.4h0M343.5 33.3h0M350.6 19.4h0M348.7 19.1h0M337.9 24.6h0M353.3 32.0h0M344.1 22.1h0M350.7 37.1h0M349.0 33.3h0M344.8 39.8h0M359.6 32.9h0M359.2 18.6h0M351.1 36.9h0M339.8 34.7h0M352.2 30.6h0M348.2 36.9h0M357.6 30.8h0M344.2 21.0h0M347.4 34.7h0M346.9 23.5h0M341.5 39.2h0M364.4 30.5h0M333.4 39.6h0M345.2 23.3h0M348.1 34.0h0M349.7 36.3h0M345.6 28.5h0M349.9 23.8h0M354.6 34.2h0M355.8 34.2h0M343.3 35.2h0M347.2 37.0h0M332.3 26.9h0M335.4 27.7h0M345.9 22.4h0M346.4 39.2h0M364.6 30.5h0M339.3 23.4h0M347.7 19.8h0M353.7 23.8h0M361.2 29.5h0M340.2 33.0h0M351.6 24.3h0M343.9 18.5h0M349.5 38.2h0M349.9 38.7h0M344.3 30.0h0M349.7 35.8h0M352.1 33.7h0M341.8 18.8h0M338.3 18.1h0M352.6 20.8h0M345.0 20.3h0M349.3 19.2h0M346.1 17.3h0M345.5 22.0h0M343.0 34.9h0M349.3 39.4h0M349.3 36.3h0M353.4 23.4h0M343.6 40.1h0M349.7 19.7h0M350.9 20.8h0M343.5 20.9h0M354.7 36.3h0M352.2 18.4h0M334.8 34.5h0M369.0 28.7h0M356.1 30.1h0M344.7 31.5h0M365.4 30.7h0M351.4 33.6h0M353.9 35.1h0M338.5 25.8h0M347.7 21.0h0M355.8 32.8h0M351.6 17.5h0M351.4 18.2h0M346.1 35.1h0M340.2 36.3h0M352.0 36.5h0M352.2 19.5h0M344.8 33.8h0M347.6 33.0h0M344.7 22.0h0M349.9 29.5h0M347.1 21.8h0M343.2 32.9h0M354.4 38.8h0M349.2 36.0h0M362.4 32.1h0M339.3 31.8h0M356.9 31.7h0M360.7 33.0h0M350.3 35.1h0M341.7 37.5h0M353.5 22.6h0M346.6 35.8h0M345.7 20.5h0M364.6 30.8h0M339.2 21.0h0M346.0 19.1h0M350.8 21.2h0M353.0 38.6h0M350.9 32.9h0M360.2 33.8h0M333.7 23.4h0M344.9 19.6h0M355.9 37.1h0M360.0 31.3h0M361.7 30.6h0M356.5 40.6h0M353.3 20.4h0M349.5 32.0h0M341.2 26.5h0M338.9 34.9h0M344.3 22.6h0M345.8 20.5h0M360.9 33.0h0M356.0 33.5h0M355.6 23.4h0M362.4 32.2h0M368.0 18.5h0M342.0 34.3h0M358.0 34.3h0M343.2 32.4h0M352.7 32.5h0M348.8 25.3h0M356.0 24.0h0M347.0 22.5h0M351.8 32.9h0M360.2 14.4h0M344.2 21.0h0M348.3 31.1h0M344.9 38.6h0M357.5 30.5h0M335.1 21.6h0M350.4 34.0h0M357.6 30.4h0M349.9 19.0h0M333.6 24.8h0M358.6 34.4h0M350.9 34.6h0M340.3 36.6h0M350.2 33.5h0M352.9 34.7h0M366.8 30.0h0M349.7 29.2h0M344.6 37.6h0M367.1 27.8h0M339.0 29.4h0M349.1 30.8h0M356.2 37.5h0M336.9 20.4h0M347.3 22.4h0M356.6 37.3h0M369.0 29.0h0M358.4 33.9h0M337.6 18.6h0M345.7 24.6h0M351.4 22.1h0" stroke="#111" stroke-opacity="0.6" stroke-width="0.8" stroke-linecap="square" fill="none"/>
<path d="M371.0 33.3h0M363.6 31.4h0M340.9 24.2h0M363.3 29.2h0M356.8 34.5h0M341.2 36.3h0M368.5 26.4h0M351.9 32.5h0M345.6 37.9h0M355.0 31.6h0M350.4 37.1h0M347.8 35.7h0M349.3 20.8h0M362.8 27.5h0M347.1 38.9h0M347.3 34.2h0M350.3 35.7h0M348.1 27.4h0M345.3 34.6h0M355.6 35.8h0M348.5 34.3h0M346.6 25.3h0M349.8 33.6h0M343.5 25.5h0M343.2 23.0h0M360.9 29.9h0M341.4 21.9h0M339.3 32.8h0M345.9 22.1h0M356.4 20.1h0M351.8 35.9h0M353.7 36.9h0M346.2 21.4h0M357.5 38.0h0M346.8 22.9h0M366.0 27.7h0M359.7 31.0h0M357.9 23.0h0M346.2 37.0h0M338.2 19.5h0M344.7 36.8h0M349.5 21.8h0M359.6 34.0h0M346.5 21.2h0M341.7 18.8h0M344.9 23.0h0M346.2 34.9h0M341.9 34.8h0M350.3 33.6h0M344.0 26.4h0M351.3 18.5h0M360.1 32.1h0M343.7 34.5h0M339.7 17.6h0M346.7 34.8h0M345.9 30.9h0M343.0 21.7h0M338.2 38.7h0M344.3 23.7h0M358.0 20.1h0M365.6 33.2h0M348.8 33.9h0M352.7 24.9h0M349.2 16.8h0M360.6 20.2h0M364.9 30.4h0M344.6 32.9h0M335.9 34.9h0M353.2 33.6h0M347.9 24.8h0M351.0 37.0h0M350.6 18.4h0M344.1 35.1h0M342.0 20.6h0M347.6 38.7h0M348.4 32.5h0M348.0 36.0h0M342.8 18.4h0M346.2 39.7h0M346.1 15.9h0M355.0 23.3h0M354.1 38.2h0M357.8 35.0h0M360.4 33.2h0M349.2 20.2h0M351.8 20.4h0M347.7 32.8h0M352.0 22.2h0M338.0 43.4h0M358.7 31.5h0M340.5 17.7h0M339.7 23.8h0M345.3 25.7h0M355.0 18.7h0M333.1 35.7h0M346.4 23.1h0M348.2 23.6h0M340.8 38.0h0M348.5 19.0h0M339.9 21.0h0M354.8 22.6h0M355.5 19.2h0M334.3 22.8h0M360.9 34.4h0M348.7 37.3h0M351.2 42.6h0M357.0 32.7h0M341.1 19.5h0M359.0 31.6h0M344.2 35.3h0M342.5 39.4h0M344.4 39.0h0M352.2 38.1h0M348.6 37.2h0M352.5 19.9h0M367.0 29.5h0M340.6 21.7h0M346.8 22.2h0M341.8 37.5h0M351.9 22.9h0M360.3 33.7h0M339.7 25.0h0M360.8 32.4h0M356.8 34.4h0M347.1 35.6h0M361.5 24.3h0M335.8 39.5h0M356.3 21.8h0M349.3 37.1h0M354.7 33.8h0M330.9 26.2h0M349.1 41.0h0M355.5 20.4h0M345.2 19.7h0M359.7 22.1h0M350.5 36.0h0M351.5 31.3h0M340.7 20.9h0M357.7 33.0h0M356.9 32.0h0M342.7 22.4h0M361.0 30.6h0M352.6 17.5h0M350.9 33.5h0M348.0 20.7h0M346.5 16.7h0M346.9 36.9h0M362.8 28.6h0M359.1 31.0h0M349.2 38.1h0M341.3 16.1h0M344.7 35.1h0M336.5 25.0h0M355.6 32.7h0M343.8 36.5h0M355.5 19.0h0M345.7 21.3h0M340.5 32.8h0M353.9 19.4h0M353.1 38.2h0M347.2 37.9h0M362.2 36.3h0M331.5 23.6h0M358.6 21.5h0M365.1 29.4h0M345.4 35.6h0M353.0 22.1h0M362.9 32.7h0M349.8 23.0h0M349.4 32.2h0M338.8 25.7h0M338.5 40.3h0M341.1 35.7h0M335.4 27.5h0M349.9 33.1h0M345.3 18.9h0M347.3 36.7h0M344.8 33.5h0M364.7 31.4h0M351.8 25.9h0M362.2 31.9h0M354.5 23.8h0M356.2 38.3h0M347.4 17.1h0M357.3 21.1h0M357.6 35.6h0M349.6 20.9h0M355.1 24.7h0M353.3 19.1h0M349.4 24.4h0M363.0 29.8h0M355.0 19.0h0M353.5 19.8h0M358.3 28.6h0M362.1 31.1h0M336.9 40.1h0M349.0 20.0h0M337.0 21.8h0M340.4 17.2h0M344.3 22.7h0M347.2 22.9h0M353.3 38.4h0M357.4 31.1h0M346.5 32.5h0M343.7 35.0h0M358.8 30.2h0M342.5 41.5h0M351.8 23.6h0M336.2 23.2h0M352.6 34.8h0M352.9 36.9h0M353.9 35.4h0M340.6 32.3h0M352.7 34.6h0M352.8 17.7h0M341.7 23.2h0M347.9 19.1h0M349.1 30.4h0M348.3 20.8h0M366.6 28.7h0M352.9 39.9h0M336.6 35.9h0M346.3 34.8h0M339.8 40.2h0M349.6 20.8h0M358.6 18.5h0M341.1 22.6h0M355.4 39.2h0M349.4 32.7h0M348.6 34.0h0M355.0 30.1h0M344.1 32.8h0M356.8 37.0h0M348.4 37.1h0M357.4 20.8h0M343.8 35.9h0M354.2 28.7h0M360.8 33.0h0M340.0 19.1h0M346.5 19.7h0" stroke="#111" stroke-opacity="0.6" stroke-width="0.8" stroke-linecap="square" fill="none"/>
<path d="M347.2 39.1h0M326.0 31.5h0M346.1 36.3h0M346.8 35.0h0M362.3 32.0h0M346.2 38.0h0M352.1 30.0h0M357.5 33.5h0M371.8 31.9h0M357.7 42.4h0M330.9 33.0h0M361.1 30.9h0M350.7 43.1h0M329.7 32.4h0M346.1 40.1h0M360.5 39.5h0M330.8 35.2h0M331.2 35.2h0M347.5 37.0h0M341.4 39.6h0M331.3 33.9h0M335.7 39.8h0M333.0 37.9h0M361.1 35.5h0M339.4 36.4h0M330.6 35.6h0M353.6 33.5h0M339.5 17.8h0M335.3 34.2h0M331.0 33.8h0M345.9 33.2h0M351.7 32.8h0M358.9 32.9h0M345.1 38.3h0M329.7 30.3h0M329.5 31.5h0M347.3 33.0h0M345.0 43.8h0M350.2 38.1h0M328.9 36.0h0M345.0 39.8h0M330.8 41.5h0M344.7 37.4h0M359.8 35.4h0M356.7 14.4h0M341.0 35.3h0M351.5 34.2h0M331.4 35.2h0M347.0 36.0h0M364.4 36.1h0M361.0 36.0h0M352.1 40.4h0M346.2 40.8h0M362.2 18.7h0M363.7 35.0h0M341.1 35.4h0M350.0 36.9h0M357.3 40.0h0M362.6 35.1h0M359.0 38.9h0M363.2 29.3h0M367.9 35.1h0M355.4 41.8h0M339.0 38.2h0M341.7 40.2h0M331.5 36.9h0M345.7 39.8h0M329.7 33.3h0M330.7 32.2h0M358.9 33.3h0M348.8 32.5h0M361.5 36.1h0M328.6 35.3h0M330.5 34.6h0M353.5 32.8h0M330.2 32.5h0M330.7 26.2h0M330.5 34.3h0M352.3 31.0h0M336.2 38.5h0M354.4 43.5h0M330.7 35.9h0M330.9 34.3h0M352.1 42.6h0M359.7 32.8h0M360.1 36.8h0M328.7 35.4h0M327.2 34.3h0M355.1 37.3h0M342.3 40.4h0M348.0 40.0h0M330.6 32.5h0M339.0 32.6h0M346.6 17.1h0M350.3 34.1h0M331.7 33.5h0M348.5 18.9h0M352.1 30.8h0M347.7 36.6h0M327.6 33.9h0M358.2 33.9h0M357.5 31.0h0M334.2 36.3h0M357.2 32.2h0M356.6 35.9h0M346.1 34.1h0M358.1 35.6h0M330.7 33.8h0M363.7 40.1h0M362.4 34.8h0M343.1 43.5h0M347.1 36.0h0M349.9 39.2h0M329.2 37.8h0M328.8 39.9h0M351.2 35.4h0M330.4 37.8h0M351.3 32.8h0M334.8 36.6h0" stroke="#111" stroke-opacity="0.42" stroke-width="0.85" stroke-linecap="square" fill="none"/>
<path d="M360.1 41.7h0M332.8 34.9h0M330.7 36.3h0M352.1 40.5h0M332.1 32.1h0M330.6 25.6h0M346.2 38.5h0M340.4 40.2h0M330.9 34.9h0M339.8 42.7h0M340.2 39.0h0M345.5 34.8h0M328.9 36.8h0M326.8 24.9h0M333.1 18.6h0M343.1 40.5h0M363.8 38.1h0M344.8 15.2h0M328.9 32.2h0M343.0 34.9h0M338.3 40.2h0M330.1 32.2h0M350.0 35.2h0M345.3 34.0h0M330.9 38.7h0M357.0 31.7h0M347.1 34.1h0M330.3 40.3h0M344.8 30.5h0M360.9 36.5h0M320.7 34.7h0M330.4 32.7h0M328.8 25.4h0M358.5 37.4h0M351.3 39.3h0M341.0 41.9h0M348.1 12.3h0M343.5 38.0h0M333.4 37.9h0M349.3 33.8h0M361.5 36.8h0M339.1 37.0h0M336.0 41.5h0M330.3 40.2h0M346.0 36.2h0M331.1 30.6h0M334.8 14.1h0M358.9 35.2h0M330.2 39.7h0M349.3 39.3h0M349.0 36.1h0M330.9 35.4h0M359.3 36.7h0M343.0 32.0h0M327.3 32.6h0M341.5 31.1h0M349.6 34.0h0M341.1 41.4h0M330.8 32.1h0M355.4 30.2h0M330.1 32.1h0M328.5 22.6h0M327.7 31.8h0M331.7 34.2h0M355.1 37.0h0M345.8 41.0h0M331.0 32.1h0M353.2 37.3h0M329.6 31.3h0M356.2 35.2h0M333.1 40.6h0M356.5 28.1h0M331.3 36.5h0M329.6 31.6h0M350.1 38.4h0M345.7 34.4h0M359.0 34.0h0M330.5 32.2h0M363.7 36.8h0M349.9 13.8h0M342.4 36.8h0M331.5 38.8h0M329.5 36.2h0M353.6 29.5h0M346.2 44.1h0M350.9 37.3h0M366.0 38.9h0M351.9 36.7h0M332.9 37.1h0M342.0 42.4h0M337.8 40.5h0M362.7 40.4h0M337.9 38.5h0M359.2 28.2h0M366.5 37.3h0M329.2 36.3h0M345.4 36.4h0M352.1 34.7h0M342.1 35.8h0M337.1 39.7h0M345.8 36.6h0M355.5 37.6h0M344.8 37.2h0M351.4 37.4h0M357.3 34.5h0M360.4 43.3h0M354.6 22.6h0M367.8 37.7h0M346.0 34.0h0M331.7 33.1h0M345.7 33.8h0M343.3 40.1h0M347.1 36.1h0M330.7 34.2h0M348.9 35.2h0M354.7 28.4h0M346.9 36.7h0M364.0 37.1h0" stroke="#111" stroke-opacity="0.42" stroke-width="0.85" stroke-linecap="square" fill="none"/>
</g>
<rect x="325.5" y="11.6" width="43.90" height="30.40" fill="none" stroke="#333" stroke-width="0.7"/>
<path d="M335.6 11.6V42.0M325.5 28.2H369.4" stroke="#333" stroke-width="0.6"/>
<text transform="translate(322.7 40.5) rotate(-90)" font-size="4.1" fill="#555" text-anchor="middle">10<tspan font-size="2.9" dy="-1.2">0</tspan></text>
<path d="M324.3 40.5H325.5" stroke="#666" stroke-width="0.4"/>
<text transform="translate(322.7 33.4) rotate(-90)" font-size="4.1" fill="#555" text-anchor="middle">10<tspan font-size="2.9" dy="-1.2">1</tspan></text>
<path d="M324.3 33.4H325.5" stroke="#666" stroke-width="0.4"/>
<text transform="translate(322.7 26.4) rotate(-90)" font-size="4.1" fill="#555" text-anchor="middle">10<tspan font-size="2.9" dy="-1.2">2</tspan></text>
<path d="M324.3 26.4H325.5" stroke="#666" stroke-width="0.4"/>
<text transform="translate(322.7 19.3) rotate(-90)" font-size="4.1" fill="#555" text-anchor="middle">10<tspan font-size="2.9" dy="-1.2">3</tspan></text>
<path d="M324.3 19.3H325.5" stroke="#666" stroke-width="0.4"/>
<text transform="translate(322.7 12.2) rotate(-90)" font-size="4.1" fill="#555" text-anchor="middle">10<tspan font-size="2.9" dy="-1.2">4</tspan></text>
<path d="M324.3 12.2H325.5" stroke="#666" stroke-width="0.4"/>
<text x="326.7" y="46.5" font-size="3.6" fill="#333" text-anchor="middle">0</text>
<text x="368.1" y="46.5" font-size="3.6" fill="#333" text-anchor="middle">1000</text>
<clipPath id="c02"><rect x="386.8" y="11.6" width="44.00" height="30.40"/></clipPath>
<g clip-path="url(#c02)">
<ellipse cx="410" cy="34" rx="9.35" ry="3.12" transform="rotate(-8 410 34)" fill="#000" fill-opacity="1" filter="url(#bl)"/>
<ellipse cx="423" cy="31" rx="5.95" ry="1.84" transform="rotate(-12 423 31)" fill="#000" fill-opacity="1" filter="url(#bl)"/>
<ellipse cx="391" cy="36" rx="2.38" ry="3.60" transform="rotate(0 391 36)" fill="#000" fill-opacity="0.12" filter="url(#bl)"/>
<path d="M413.9 34.8h0M411.7 35.5h0M392.5 34.3h0M401.2 35.2h0M415.8 33.3h0M403.3 33.5h0M408.1 31.8h0M417.9 31.5h0M391.7 37.5h0M429.0 31.1h0M423.4 30.2h0M410.1 35.1h0M411.9 33.9h0M412.2 34.1h0M422.5 32.3h0M392.2 37.3h0M391.3 40.7h0M390.5 32.7h0M391.5 38.1h0M403.9 36.1h0M401.5 37.6h0M403.5 31.3h0M391.5 36.2h0M389.3 33.7h0M410.0 30.1h0M409.3 34.7h0M424.8 30.3h0M405.3 34.0h0M394.4 33.1h0M413.8 30.7h0M391.1 32.5h0M405.0 34.1h0M427.8 29.3h0M425.1 30.5h0M423.6 30.7h0M413.6 34.7h0M390.2 35.2h0M424.4 31.4h0M400.9 37.6h0M391.0 32.6h0M391.6 35.0h0M407.9 34.7h0M409.5 34.9h0M392.4 35.1h0M409.7 32.5h0M391.5 38.1h0M427.4 29.7h0M393.2 37.5h0M422.6 34.6h0M415.1 28.9h0M389.4 31.8h0M427.5 33.5h0M406.7 32.8h0M410.7 33.3h0M414.3 34.4h0M409.3 34.9h0M410.6 30.5h0M389.5 38.1h0M411.3 35.6h0M391.8 37.8h0M423.7 29.3h0M404.4 37.0h0M392.7 34.5h0M425.3 30.2h0M419.5 32.4h0M404.3 38.0h0M404.0 34.6h0M406.7 34.1h0M406.1 35.6h0M404.6 31.4h0M409.2 32.4h0M394.7 36.3h0M400.9 36.2h0M413.5 35.7h0M410.0 36.8h0M392.7 36.5h0M416.3 31.7h0M395.8 32.8h0M414.6 32.2h0M392.3 34.9h0M414.3 33.8h0M409.3 34.4h0M407.1 36.7h0M416.8 33.4h0M430.3 30.8h0M413.6 33.7h0M405.7 33.9h0M415.5 32.2h0M419.5 30.3h0M405.7 39.1h0M408.5 32.1h0M390.6 36.3h0M411.0 29.0h0M420.9 32.8h0M392.0 37.4h0M407.4 32.8h0M393.3 37.5h0M406.4 32.3h0M391.5 36.1h0M425.8 33.7h0M408.0 33.0h0M407.4 35.8h0M405.2 37.7h0M414.8 34.6h0M422.7 31.5h0M419.0 34.8h0M427.2 28.8h0M409.1 34.2h0M412.1 32.1h0M392.4 36.5h0M405.5 32.8h0M399.0 35.1h0M410.8 36.4h0M411.9 29.7h0M388.9 32.2h0M421.4 31.4h0M425.4 29.6h0M389.2 34.5h0M413.5 30.8h0M415.0 36.1h0M402.5 36.4h0M392.3 37.4h0M389.7 34.2h0M411.1 31.1h0M407.6 33.9h0M417.7 32.0h0M413.2 32.6h0M418.5 32.0h0M407.2 31.7h0M414.7 37.0h0M399.8 40.5h0M412.8 32.5h0M407.8 36.5h0M422.7 33.5h0M415.5 34.6h0M407.1 36.3h0M425.2 32.4h0M391.1 38.6h0M391.0 34.8h0M416.1 29.4h0M413.5 34.4h0M410.1 30.7h0M424.3 30.5h0M426.3 31.1h0M414.6 36.6h0M415.5 39.3h0M409.6 33.9h0M403.4 33.6h0M405.4 33.6h0M408.9 35.0h0M405.7 36.5h0M409.5 32.9h0M419.6 31.4h0M398.4 37.9h0M420.5 31.1h0M414.2 32.8h0M405.1 36.1h0" stroke="#111" stroke-opacity="0.6" stroke-width="0.8" stroke-linecap="square" fill="none"/>
<path d="M392.1 35.3h0M416.7 33.9h0M425.1 33.5h0M392.5 33.9h0M391.8 38.0h0M390.2 35.9h0M416.6 31.7h0M408.6 33.8h0M424.2 28.6h0M419.3 34.6h0M411.3 31.8h0M404.3 36.4h0M415.8 31.2h0M404.0 37.2h0M411.4 36.1h0M411.1 34.3h0M392.4 34.9h0M428.4 31.4h0M414.1 33.6h0M390.1 29.0h0M421.3 30.5h0M408.8 34.3h0M425.3 31.3h0M390.7 39.7h0M407.7 31.3h0M407.1 34.2h0M409.7 34.7h0M414.6 37.3h0M393.6 35.0h0M423.7 30.8h0M422.6 29.8h0M389.0 32.1h0M407.8 36.2h0M412.5 37.0h0M417.1 37.5h0M408.6 30.3h0M411.6 35.2h0M411.7 33.6h0M425.2 31.0h0M390.5 39.4h0M407.9 29.6h0M389.5 36.9h0M389.1 37.3h0M404.3 35.9h0M390.7 37.6h0M417.6 33.0h0M404.7 36.1h0M405.1 32.3h0M416.2 33.5h0M416.3 34.3h0M410.8 31.4h0M413.2 33.2h0M408.1 35.2h0M401.7 33.2h0M400.3 32.5h0M414.2 34.4h0M408.1 35.8h0M425.5 31.5h0M407.7 38.6h0M413.3 34.1h0M390.4 37.8h0M390.6 36.8h0M413.7 35.1h0M408.6 33.2h0M425.5 28.6h0M413.4 31.1h0M410.7 36.6h0M391.4 32.8h0M424.2 30.8h0M411.8 30.9h0M415.6 35.0h0M406.0 35.1h0M418.3 30.3h0M419.4 30.4h0M405.1 32.6h0M410.7 32.7h0M389.5 29.9h0M409.5 32.6h0M416.0 33.5h0M420.5 30.7h0M417.5 39.9h0M400.4 32.9h0M415.9 32.5h0M416.5 32.9h0M407.2 35.0h0M414.2 33.3h0M390.7 35.3h0M420.9 33.8h0M418.5 31.4h0M390.3 36.5h0M409.3 33.0h0M409.3 32.3h0M410.4 35.0h0M404.2 37.1h0M406.0 31.2h0M407.7 37.2h0M407.9 33.3h0M424.9 30.1h0M411.8 33.7h0M408.3 33.2h0M402.0 38.6h0M401.5 36.0h0M407.0 33.6h0M409.4 35.2h0M413.1 32.1h0M416.8 33.4h0M390.0 39.4h0M390.8 35.9h0M427.6 29.6h0M389.1 34.2h0M418.9 32.4h0M416.0 32.9h0M399.5 32.8h0M413.8 33.1h0M390.9 37.4h0M412.0 33.7h0M392.4 34.5h0M414.8 33.3h0M392.1 35.0h0M391.8 35.2h0M408.8 35.7h0M404.2 37.2h0M423.0 32.3h0M392.4 34.6h0M413.1 32.6h0M417.0 30.8h0M409.4 35.4h0M400.3 32.2h0M411.9 38.9h0M403.1 35.0h0M410.7 34.3h0M418.0 31.9h0M422.7 30.6h0M392.7 35.3h0M415.6 30.7h0M413.7 29.7h0M407.6 32.7h0M407.3 35.3h0M389.9 33.3h0M406.8 37.2h0M391.0 35.9h0M408.3 37.3h0M409.9 30.6h0M414.1 30.8h0M422.1 32.5h0M420.6 33.5h0M410.9 30.0h0M401.2 35.9h0M392.7 35.2h0M401.1 34.5h0M422.8 31.7h0M415.7 30.3h0M417.0 33.8h0M391.2 39.9h0M389.2 35.4h0M409.9 33.1h0M406.1 36.1h0" stroke="#111" stroke-opacity="0.6" stroke-width="0.8" stroke-linecap="square" fill="none"/>
<path d="M392.4 33.2h0M422.0 36.4h0M415.6 35.3h0M409.1 33.3h0M391.3 35.7h0M392.9 36.5h0M397.2 36.8h0M390.1 33.7h0M421.6 33.5h0M406.3 32.5h0M422.5 32.0h0M414.8 29.6h0M408.1 34.5h0M408.6 37.0h0M409.6 36.0h0M407.2 34.2h0M397.4 40.7h0M392.0 35.8h0M391.7 37.0h0M407.7 36.7h0M408.4 39.2h0M393.8 36.2h0M390.3 32.3h0M409.4 32.9h0M421.9 30.7h0M413.9 35.2h0M414.7 34.5h0M421.0 29.4h0M390.5 35.0h0M413.0 36.5h0M406.7 35.2h0M403.1 35.3h0M390.7 33.7h0M406.8 35.4h0M404.6 33.2h0M413.1 34.5h0M424.8 28.1h0M397.9 38.6h0M405.4 34.7h0M428.0 29.8h0M388.8 35.2h0M391.4 36.8h0M399.5 37.4h0M407.0 32.9h0M404.9 35.4h0M406.3 39.0h0M427.3 32.1h0M397.1 36.5h0M411.0 35.7h0M418.2 32.2h0M403.7 37.9h0M401.3 35.9h0M410.4 35.1h0M430.4 31.3h0M415.2 32.7h0M415.2 31.0h0M424.9 29.7h0M408.5 33.3h0M425.3 29.8h0M413.5 34.0h0M421.0 30.7h0M412.6 36.4h0M398.0 37.1h0M407.5 36.4h0M410.7 33.0h0M412.2 36.4h0M422.3 32.2h0M403.0 34.2h0M424.8 31.8h0M417.0 37.3h0M406.1 30.0h0M421.1 31.4h0M409.5 31.0h0M411.2 31.8h0M409.0 36.3h0M417.1 36.9h0M411.6 34.4h0M391.2 35.6h0M412.9 32.8h0M410.9 35.0h0M410.1 38.1h0M430.1 29.1h0M415.6 37.1h0M392.7 40.8h0M412.4 28.2h0M421.3 28.7h0M425.0 28.2h0M421.4 31.8h0M417.6 33.5h0M406.5 34.2h0M401.1 35.1h0M412.7 31.8h0M412.4 33.5h0M409.8 37.3h0M388.3 34.7h0M407.8 32.0h0M410.1 34.6h0M406.8 37.7h0M425.9 32.2h0M410.5 35.6h0M389.9 38.7h0M406.5 30.1h0M411.3 33.4h0M420.5 31.8h0M424.5 31.8h0M417.8 32.7h0M413.2 34.1h0M411.3 30.0h0M412.5 38.2h0M426.6 31.2h0M415.4 38.9h0M408.1 37.8h0M418.1 34.2h0M413.8 30.4h0M411.7 34.7h0M415.7 34.8h0M410.8 33.5h0M428.3 31.8h0M408.5 32.9h0M392.7 31.7h0M421.1 29.8h0M409.5 35.1h0M423.7 31.3h0M420.1 30.0h0M425.8 32.0h0M408.8 32.7h0M391.1 37.9h0M392.2 31.1h0M411.0 34.6h0M391.1 38.3h0M390.6 31.5h0M413.0 32.1h0M388.2 36.4h0M423.0 29.5h0M404.1 34.1h0M390.2 40.0h0M418.8 36.9h0M389.7 34.4h0M427.5 30.7h0M416.9 37.4h0M388.3 36.7h0M411.4 34.9h0M409.0 32.6h0M420.4 30.4h0M410.5 30.3h0M405.9 37.0h0M410.6 37.4h0M418.0 35.7h0M389.8 39.2h0M388.6 34.3h0M410.7 33.2h0M419.4 31.5h0M431.2 31.4h0M414.8 32.5h0M411.6 35.5h0M407.1 30.0h0" stroke="#111" stroke-opacity="0.6" stroke-width="0.8" stroke-linecap="square" fill="none"/>
<path d="M412.1 20.5h0M415.6 20.7h0M412.7 29.2h0M402.4 24.0h0M409.8 20.4h0M417.3 32.9h0M413.6 22.3h0M410.8 32.2h0M411.2 24.8h0M409.8 24.2h0M408.1 37.1h0M409.1 22.7h0M419.4 22.9h0M426.2 23.4h0M418.3 23.4h0M410.5 22.2h0M414.7 35.5h0M424.4 18.0h0M415.7 24.7h0M405.7 21.2h0M415.9 29.1h0M409.5 25.4h0M398.4 24.7h0M416.1 18.4h0M410.6 37.7h0M401.8 29.8h0M406.7 23.9h0M418.2 36.5h0M415.6 30.4h0M411.3 20.5h0M408.5 38.8h0M418.4 18.4h0M412.9 35.4h0M415.5 30.8h0M407.7 23.8h0M410.0 22.4h0M405.9 32.6h0M413.7 21.0h0M420.4 19.6h0M403.3 23.7h0M416.5 31.6h0M410.4 25.2h0M403.1 24.3h0M411.4 24.8h0M420.1 33.1h0M409.5 20.5h0M411.0 25.8h0M406.5 23.4h0M413.6 28.9h0M406.9 22.4h0M404.0 23.7h0M421.3 30.8h0M418.7 25.0h0M406.9 19.4h0M414.1 25.5h0M414.2 20.6h0M406.1 29.9h0M409.8 23.4h0M419.0 34.6h0M406.2 22.0h0M415.2 29.7h0M409.8 36.2h0M397.3 18.9h0M411.4 20.8h0M418.9 36.2h0M410.2 21.0h0M410.1 34.9h0M403.7 35.7h0M408.4 26.8h0M404.9 21.4h0M418.6 33.2h0M398.2 23.4h0M417.9 25.3h0M409.3 24.8h0M404.3 26.5h0M422.1 22.2h0M417.5 23.5h0M401.5 25.2h0M409.1 22.5h0M404.2 22.4h0M416.3 25.0h0M409.4 23.1h0M427.2 29.7h0M401.0 30.9h0M412.9 24.2h0M401.8 29.7h0M411.2 22.9h0M425.5 23.0h0M408.4 22.4h0M415.8 31.5h0M406.7 28.3h0M411.8 30.5h0M423.8 34.6h0M417.4 24.5h0M403.0 30.2h0M423.2 32.0h0M418.5 21.1h0M418.1 25.2h0M408.3 23.7h0M407.4 22.7h0M407.8 20.8h0M419.8 29.3h0M412.5 23.3h0M421.3 30.5h0M407.4 33.3h0M406.6 24.2h0M400.1 31.1h0M424.1 19.0h0M406.9 24.4h0M412.5 29.7h0M406.9 22.6h0M412.4 39.4h0M404.4 26.2h0M417.2 22.4h0M400.6 29.6h0M412.9 29.5h0M413.3 21.6h0M411.3 39.0h0M398.1 29.8h0M403.7 35.1h0M422.5 29.3h0M407.1 29.3h0M406.5 20.8h0M415.3 34.9h0M409.2 21.8h0M407.7 22.3h0M411.3 35.8h0M419.1 22.0h0M415.8 21.2h0M419.8 24.1h0M420.8 31.8h0M414.7 39.0h0M417.2 23.2h0M396.6 24.9h0M419.4 22.6h0M420.5 31.5h0M395.9 35.2h0M408.9 23.6h0M414.7 22.3h0M407.1 20.2h0M405.4 26.4h0M413.2 31.6h0M420.8 30.3h0M411.6 24.3h0M417.7 25.4h0M416.2 21.7h0M409.3 23.7h0M413.0 30.6h0M419.2 21.6h0M403.2 22.7h0M398.3 25.5h0M420.7 30.0h0M390.9 30.9h0M402.2 25.4h0M420.9 17.0h0M406.3 33.7h0M426.1 29.6h0M400.1 37.4h0M436.1 34.4h0M413.0 37.7h0M419.3 24.3h0M419.7 19.6h0M405.4 26.9h0M406.6 39.1h0M410.6 33.1h0M432.3 26.7h0M424.4 33.4h0M410.6 37.2h0M391.7 24.6h0M417.4 31.2h0M408.8 20.9h0M407.6 33.9h0M412.4 24.5h0M400.0 22.6h0M424.5 30.5h0M408.3 26.5h0M430.8 20.4h0M416.9 24.2h0M422.7 31.0h0M420.7 34.9h0M418.9 25.2h0M396.6 24.4h0M420.0 32.6h0M415.5 23.6h0M412.9 22.2h0M409.4 19.7h0M407.0 34.5h0M415.7 34.1h0M408.9 11.7h0M417.4 22.5h0M407.1 41.5h0M408.2 21.7h0M407.1 23.2h0M408.4 29.7h0M415.9 29.9h0M417.7 38.0h0M402.8 22.5h0M415.9 26.0h0M416.0 26.3h0M407.6 23.1h0M416.9 23.6h0M400.7 29.2h0M403.5 18.8h0M405.2 39.6h0M415.2 18.4h0M411.8 25.8h0M404.3 31.2h0M419.4 19.3h0M417.3 23.8h0M404.1 31.3h0M417.4 34.9h0M419.9 19.2h0M402.4 37.4h0M406.6 25.6h0M425.0 18.6h0M412.5 27.2h0M395.8 25.1h0M395.0 24.4h0M422.7 21.9h0M420.2 16.9h0M413.0 18.6h0M406.4 23.5h0M402.5 33.8h0M411.1 23.6h0M407.8 25.4h0M419.2 32.8h0M404.9 20.4h0M420.7 22.1h0M423.9 32.1h0M405.8 26.3h0M405.0 34.8h0M389.1 33.2h0M418.2 19.7h0M424.1 37.7h0M413.1 25.6h0M394.3 25.4h0M412.7 23.1h0M409.6 24.0h0M402.4 36.2h0M412.1 18.3h0M402.7 23.1h0M411.0 33.3h0M400.9 33.4h0M406.7 21.2h0M406.3 23.3h0M409.5 30.5h0M416.9 23.9h0M409.2 33.3h0M413.0 25.2h0M424.5 33.8h0M413.2 24.3h0M403.0 36.0h0M415.2 27.3h0M422.6 33.7h0M405.3 25.5h0M407.2 24.3h0M400.4 30.1h0M402.7 35.2h0M407.6 20.0h0M410.2 24.0h0M393.8 24.9h0M419.3 29.8h0M415.7 20.5h0M414.1 23.3h0M402.4 19.7h0M418.2 23.1h0M410.4 19.2h0M408.9 34.1h0M389.7 24.6h0M408.9 21.5h0M401.3 27.8h0M411.9 22.3h0M405.5 31.3h0M419.8 37.3h0M401.3 33.4h0M419.1 21.0h0M415.3 18.8h0M421.8 18.4h0M414.7 26.7h0M402.5 25.3h0M407.9 22.4h0M412.5 28.6h0M424.2 18.0h0M408.3 36.4h0M422.4 22.4h0M407.9 23.2h0M397.5 30.1h0M430.9 25.8h0M402.8 23.4h0M398.7 25.5h0" stroke="#111" stroke-opacity="0.42" stroke-width="0.85" stroke-linecap="square" fill="none"/>
<path d="M400.5 34.4h0M402.4 22.0h0M419.7 29.8h0M418.4 22.5h0M410.7 22.9h0M415.5 29.7h0M401.8 25.2h0M418.6 40.0h0M429.7 29.9h0M419.1 34.5h0M398.5 29.6h0M419.9 24.3h0M417.8 29.7h0M407.6 29.9h0M410.6 28.2h0M402.5 37.7h0M407.2 19.9h0M414.0 24.4h0M406.2 23.5h0M411.9 23.9h0M402.9 32.5h0M416.8 24.4h0M423.3 21.4h0M422.8 24.7h0M420.3 24.8h0M416.4 30.3h0M418.3 24.2h0M410.7 31.7h0M428.5 29.7h0M410.9 19.8h0M417.1 20.1h0M421.2 18.7h0M416.1 17.9h0M406.9 23.2h0M404.2 22.8h0M412.5 20.6h0M404.3 22.2h0M412.7 22.8h0M408.3 31.5h0M404.8 21.9h0M417.6 31.5h0M407.7 23.7h0M418.4 20.1h0M431.9 28.4h0M423.8 33.3h0M412.2 28.6h0M403.4 33.8h0M407.9 21.7h0M400.8 25.4h0M401.2 34.2h0M407.6 23.7h0M419.2 25.4h0M404.1 29.2h0M408.6 23.7h0M412.6 21.0h0M425.7 22.3h0M416.7 23.3h0M420.8 31.9h0M403.5 24.9h0M413.1 24.9h0M411.9 26.3h0M414.2 21.1h0M411.9 17.1h0M417.8 31.1h0M410.7 20.9h0M409.1 18.6h0M401.5 29.1h0M409.1 12.4h0M415.3 24.7h0M417.8 29.8h0M418.4 30.1h0M407.1 24.4h0M406.5 25.8h0M415.6 24.1h0M424.0 31.3h0M408.3 33.2h0M408.9 29.6h0M410.9 23.3h0M408.1 26.3h0M420.7 19.8h0M408.6 21.9h0M421.5 23.4h0M423.8 29.4h0M416.7 23.5h0M419.2 18.3h0M404.4 25.9h0M422.7 15.9h0M419.7 36.0h0M411.8 22.8h0M413.9 26.0h0M405.8 24.2h0M399.5 23.9h0M408.8 23.3h0M415.4 36.0h0M405.4 25.7h0M416.7 22.3h0M405.8 24.4h0M407.1 22.8h0M414.5 23.1h0M411.9 22.2h0M405.3 29.5h0M409.2 34.6h0M395.9 22.1h0M411.7 32.3h0M425.6 33.5h0M413.5 32.4h0M393.7 23.8h0M410.7 19.6h0M402.0 34.5h0M420.1 29.2h0M421.6 12.3h0M415.7 29.0h0M412.3 26.5h0M416.9 20.5h0M418.8 34.7h0M405.9 30.9h0M412.1 29.6h0M405.8 21.4h0M416.5 26.5h0M413.8 31.6h0M422.2 20.4h0M407.8 24.0h0M420.9 30.6h0M401.2 22.6h0M407.1 19.3h0M414.1 21.8h0M412.8 22.4h0M414.3 33.2h0M424.5 32.8h0M410.7 39.6h0M428.7 17.5h0M414.0 19.5h0M412.8 24.9h0M404.6 34.0h0M403.6 20.9h0M420.0 23.0h0M421.9 23.2h0M388.9 24.6h0M412.4 23.8h0M423.5 22.9h0M410.7 20.9h0M401.6 22.4h0M416.7 35.8h0M412.8 21.8h0M403.6 24.4h0M417.4 23.7h0M410.2 30.1h0M418.7 28.7h0M414.1 23.4h0M409.2 23.9h0M406.8 23.6h0M409.5 26.0h0M417.0 22.0h0M413.9 29.3h0M402.5 30.7h0M410.5 30.5h0M412.1 24.6h0M412.0 28.2h0M399.4 12.1h0M414.4 31.3h0M415.8 29.7h0M414.4 25.1h0M425.7 30.6h0M406.3 22.7h0M400.6 18.3h0M406.8 28.5h0M417.4 23.1h0M405.9 28.3h0M427.1 18.4h0M415.5 33.1h0M417.6 18.7h0M416.0 34.9h0M416.1 20.4h0M413.5 20.3h0M418.6 31.2h0M403.5 27.3h0M428.4 29.7h0M410.7 20.7h0M410.2 25.8h0M408.6 36.1h0M401.0 36.2h0M411.3 29.9h0M405.3 37.2h0M410.4 21.6h0M406.5 23.1h0M410.7 25.2h0M408.7 26.7h0M413.1 33.0h0M430.6 31.7h0M415.4 24.5h0M418.5 29.2h0M413.2 25.0h0M412.5 24.1h0M420.2 32.1h0M427.6 23.4h0M414.3 36.9h0M418.9 25.0h0M405.6 21.9h0M410.7 25.0h0M408.5 31.7h0M421.2 30.1h0M421.7 30.7h0M417.1 21.5h0M410.2 25.7h0M411.6 29.2h0M407.5 30.7h0M403.9 29.7h0M409.5 24.2h0M430.0 28.6h0M403.4 23.0h0M430.1 34.0h0M399.6 22.0h0M407.3 22.7h0M406.3 25.6h0M428.5 30.2h0M417.4 24.0h0M397.0 29.8h0M415.7 33.0h0M410.6 19.0h0M428.4 29.8h0M391.1 40.4h0M411.7 22.7h0M417.3 21.2h0M422.8 22.0h0M407.4 24.8h0M407.9 26.4h0M420.7 20.8h0M409.7 23.3h0M420.6 19.3h0M418.1 25.4h0M428.4 38.5h0M401.4 30.4h0M416.3 30.5h0M416.5 29.8h0M417.1 21.1h0M410.8 24.5h0M418.4 23.3h0M405.7 21.7h0M415.5 28.3h0M420.1 30.6h0M409.8 20.8h0M397.9 23.6h0M415.2 24.3h0M424.5 23.8h0M420.9 29.8h0M413.0 24.8h0M410.8 20.2h0M414.3 39.5h0M409.1 38.7h0M412.1 30.8h0M403.6 37.0h0M405.7 20.1h0M425.9 21.9h0M407.3 22.4h0M415.0 35.8h0M422.5 21.3h0M420.5 20.0h0M419.5 29.8h0M411.4 23.7h0M405.5 26.4h0M411.5 21.5h0M424.4 30.8h0M401.8 23.8h0M414.3 23.8h0M413.9 24.0h0M416.3 19.4h0M400.3 23.7h0M403.8 34.4h0M416.0 22.2h0M412.6 19.2h0M409.6 17.7h0M405.7 35.8h0M404.4 37.8h0M421.7 26.0h0M414.0 31.6h0M407.2 32.5h0M406.0 24.5h0M421.6 28.3h0M411.1 26.0h0M404.9 19.6h0M406.4 24.1h0M417.6 30.7h0M423.6 29.9h0M403.3 24.5h0M420.7 29.6h0M408.0 26.4h0M401.4 23.9h0M412.2 22.3h0M402.2 27.4h0" stroke="#111" stroke-opacity="0.42" stroke-width="0.85" stroke-linecap="square" fill="none"/>
</g>
<rect x="386.8" y="11.6" width="44.00" height="30.40" fill="none" stroke="#333" stroke-width="0.7"/>
<path d="M396.5 11.6V42.0M386.8 28.6H430.8" stroke="#333" stroke-width="0.6"/>
<text transform="translate(384.0 40.5) rotate(-90)" font-size="4.1" fill="#555" text-anchor="middle">10<tspan font-size="2.9" dy="-1.2">0</tspan></text>
<path d="M385.6 40.5H386.8" stroke="#666" stroke-width="0.4"/>
<text transform="translate(384.0 33.4) rotate(-90)" font-size="4.1" fill="#555" text-anchor="middle">10<tspan font-size="2.9" dy="-1.2">1</tspan></text>
<path d="M385.6 33.4H386.8" stroke="#666" stroke-width="0.4"/>
<text transform="translate(384.0 26.4) rotate(-90)" font-size="4.1" fill="#555" text-anchor="middle">10<tspan font-size="2.9" dy="-1.2">2</tspan></text>
<path d="M385.6 26.4H386.8" stroke="#666" stroke-width="0.4"/>
<text transform="translate(384.0 19.3) rotate(-90)" font-size="4.1" fill="#555" text-anchor="middle">10<tspan font-size="2.9" dy="-1.2">3</tspan></text>
<path d="M385.6 19.3H386.8" stroke="#666" stroke-width="0.4"/>
<text transform="translate(384.0 12.2) rotate(-90)" font-size="4.1" fill="#555" text-anchor="middle">10<tspan font-size="2.9" dy="-1.2">4</tspan></text>
<path d="M385.6 12.2H386.8" stroke="#666" stroke-width="0.4"/>
<text x="388.0" y="46.5" font-size="3.6" fill="#333" text-anchor="middle">0</text>
<text x="429.5" y="46.5" font-size="3.6" fill="#333" text-anchor="middle">1000</text>
<clipPath id="c03"><rect x="451.6" y="11.6" width="43.40" height="30.40"/></clipPath>
<g clip-path="url(#c03)">
<ellipse cx="475" cy="33.4" rx="9.35" ry="3.12" transform="rotate(-7 475 33.4)" fill="#000" fill-opacity="1" filter="url(#bl)"/>
<ellipse cx="488" cy="31" rx="5.95" ry="1.92" transform="rotate(-12 488 31)" fill="#000" fill-opacity="1" filter="url(#bl)"/>
<ellipse cx="456.6" cy="35.8" rx="1.95" ry="4.00" transform="rotate(0 456.6 35.8)" fill="#000" fill-opacity="0.9" filter="url(#bl)"/>
<ellipse cx="457" cy="39" rx="2.55" ry="1.60" transform="rotate(0 457 39)" fill="#000" fill-opacity="0.6" filter="url(#bl)"/>
<path d="M472.2 33.8h0M469.7 36.3h0M490.0 29.7h0M467.8 38.0h0M471.3 38.6h0M478.8 31.6h0M488.6 33.1h0M470.6 35.1h0M473.8 37.0h0M470.5 36.0h0M477.1 31.6h0M479.8 30.6h0M473.5 32.2h0M466.2 33.4h0M474.9 36.5h0M464.7 33.4h0M470.8 34.9h0M487.1 30.5h0M454.7 36.3h0M492.3 30.1h0M476.5 33.0h0M455.8 35.8h0M485.8 32.8h0M471.1 37.5h0M477.0 38.1h0M461.0 33.4h0M477.7 31.6h0M485.5 34.3h0M458.9 36.9h0M476.7 32.9h0M475.2 27.2h0M492.3 28.4h0M479.9 31.9h0M476.2 32.4h0M487.0 32.0h0M477.4 33.7h0M484.0 32.1h0M470.5 34.6h0M457.6 39.2h0M474.0 34.4h0M455.1 38.9h0M457.9 35.7h0M458.0 32.5h0M457.2 33.3h0M456.7 38.6h0M473.1 32.3h0M457.7 38.2h0M456.9 35.0h0M478.4 31.3h0M458.9 37.5h0M458.5 35.9h0M481.3 30.8h0M481.0 33.4h0M455.7 37.8h0M487.3 30.7h0M458.3 35.3h0M455.8 38.4h0M455.3 37.9h0M483.0 34.2h0M463.9 35.3h0M470.8 32.4h0M455.5 39.3h0M469.4 34.2h0M456.9 34.4h0M456.7 32.4h0M455.0 40.0h0M466.6 34.5h0M483.1 31.5h0M476.7 31.6h0M484.8 34.2h0M473.7 36.1h0M456.8 28.8h0M472.6 38.7h0M465.7 33.5h0M487.7 31.4h0M478.6 31.2h0M457.3 39.3h0M480.4 34.6h0M472.6 33.0h0M486.6 31.1h0M456.1 34.3h0M455.4 39.0h0M457.2 38.2h0M479.0 33.8h0M463.7 33.6h0M483.4 33.2h0M465.7 35.1h0M456.0 37.4h0M478.8 30.6h0M456.0 32.7h0M478.7 34.5h0M471.1 34.1h0M487.4 31.7h0M458.7 35.4h0M452.9 31.2h0M477.1 35.7h0M484.2 33.1h0M481.7 35.5h0M456.4 35.3h0M481.1 33.9h0M468.2 34.7h0M489.6 30.9h0M471.8 30.4h0M488.9 28.3h0M477.1 33.7h0M456.8 40.4h0M475.7 32.5h0M494.3 30.4h0M455.9 31.0h0M456.8 32.9h0M470.6 34.0h0M455.1 34.5h0M480.1 35.0h0M478.8 36.1h0M473.0 32.6h0M468.2 34.3h0M455.7 36.0h0M474.4 31.6h0M458.9 38.3h0M467.1 33.7h0M481.3 35.2h0M488.0 33.3h0M460.1 36.3h0M456.2 34.3h0M467.0 34.2h0M487.4 31.7h0M458.0 34.7h0M457.5 40.4h0M472.1 31.2h0M472.4 36.3h0M485.0 30.6h0M482.1 31.2h0M454.9 33.5h0M456.8 34.9h0M458.5 36.5h0M483.4 31.2h0M456.5 33.1h0M493.0 28.7h0M473.2 34.1h0M456.9 33.3h0M456.5 38.2h0M478.4 29.8h0M486.8 28.3h0M465.9 34.2h0M474.2 30.8h0M457.8 30.3h0M479.6 35.2h0M457.7 36.1h0M456.5 36.0h0M463.6 34.0h0M457.7 38.8h0M458.8 36.0h0M455.6 42.3h0M476.1 36.9h0M457.7 38.1h0M474.0 34.4h0M468.9 32.5h0M456.3 35.1h0M457.2 40.0h0M474.9 30.9h0M477.1 33.6h0M490.5 28.7h0M489.3 32.1h0M477.9 33.1h0M454.7 38.9h0M476.1 34.6h0M461.2 37.3h0M491.3 29.9h0M482.1 32.4h0M475.9 33.4h0M457.4 33.7h0M459.2 37.9h0M480.7 28.9h0M479.6 35.8h0M456.8 32.9h0M471.3 32.8h0M468.8 38.5h0M455.7 39.1h0M455.6 37.2h0M480.0 29.2h0" stroke="#111" stroke-opacity="0.6" stroke-width="0.8" stroke-linecap="square" fill="none"/>
<path d="M473.2 34.0h0M480.0 33.7h0M477.1 34.2h0M472.2 31.3h0M472.2 31.6h0M483.9 30.2h0M480.4 32.5h0M466.2 34.9h0M484.0 32.3h0M471.0 28.3h0M476.1 31.6h0M491.2 31.9h0M455.6 37.6h0M486.3 31.3h0M465.3 31.2h0M470.4 31.6h0M474.4 35.0h0M474.1 33.6h0M487.3 28.4h0M471.3 31.8h0M459.8 33.0h0M468.1 34.5h0M467.7 30.3h0M485.5 33.3h0M470.1 35.2h0M475.6 35.1h0M461.8 36.0h0M466.8 34.0h0M456.1 33.2h0M456.4 37.3h0M478.2 31.6h0M474.1 33.5h0M465.2 32.6h0M480.8 28.8h0M466.8 37.4h0M474.0 33.1h0M492.9 28.7h0M472.5 33.9h0M472.9 31.7h0M456.2 34.9h0M456.6 32.9h0M488.1 32.3h0M481.2 33.9h0M485.9 32.8h0M454.6 35.2h0M454.4 39.4h0M473.1 32.4h0M476.7 31.8h0M478.0 33.2h0M458.1 37.5h0M471.0 31.5h0M487.3 31.9h0M475.4 37.6h0M475.0 35.0h0M476.4 34.4h0M455.4 36.9h0M472.0 31.5h0M474.1 34.0h0M476.8 36.6h0M463.9 35.1h0M455.8 33.3h0M455.6 39.8h0M483.1 30.0h0M458.3 35.8h0M480.0 32.1h0M467.7 36.4h0M489.0 29.4h0M475.6 37.6h0M489.3 31.2h0M492.1 27.4h0M472.0 37.4h0M492.0 31.4h0M492.2 28.2h0M456.2 39.5h0M454.9 36.0h0M484.7 34.6h0M480.6 30.9h0M469.9 36.7h0M455.4 38.9h0M456.1 27.4h0M455.3 39.6h0M488.0 34.2h0M477.2 35.1h0M457.1 38.0h0M457.2 38.7h0M456.3 31.1h0M468.3 32.1h0M477.3 32.0h0M469.7 31.3h0M454.9 35.1h0M469.6 36.5h0M472.2 35.2h0M483.7 30.9h0M455.8 32.9h0M481.7 32.1h0M488.1 31.4h0M454.3 36.9h0M490.4 30.2h0M478.1 36.2h0M485.0 34.1h0M479.0 29.3h0M479.1 30.4h0M475.6 32.8h0M456.4 38.2h0M469.6 36.0h0M466.5 38.7h0M455.3 36.0h0M455.1 41.0h0M486.5 33.9h0M473.5 35.1h0M457.5 40.3h0M486.3 28.3h0M455.9 37.8h0M479.5 34.7h0M459.1 38.2h0M481.9 33.7h0M456.4 40.7h0M473.0 37.1h0M478.5 32.5h0M455.6 36.7h0M479.5 32.4h0M457.6 28.2h0M493.5 28.2h0M475.4 33.5h0M479.2 31.6h0M472.1 32.8h0M484.9 29.8h0M469.9 34.4h0M470.8 33.0h0M458.9 31.6h0M479.8 32.1h0M494.2 32.7h0M483.0 32.7h0M473.3 33.0h0M489.2 31.4h0M486.7 30.6h0M454.0 33.9h0M477.8 31.7h0M489.7 27.8h0M457.9 41.4h0M471.9 31.1h0M491.6 28.5h0M468.8 33.5h0M454.8 33.9h0M472.7 34.1h0M496.7 31.0h0M478.6 32.5h0M477.9 31.9h0M478.6 36.4h0M458.3 39.8h0M475.1 35.0h0M466.1 33.1h0M474.4 37.9h0M490.8 30.8h0M474.2 30.5h0M473.8 32.2h0M468.6 33.8h0M456.7 31.1h0M484.1 31.2h0M457.2 36.0h0M487.1 28.5h0M474.2 36.3h0M466.5 32.7h0M457.9 40.6h0M465.8 37.5h0M456.6 38.5h0M471.6 33.6h0M476.4 31.8h0M471.6 34.6h0M458.3 39.9h0M454.6 38.0h0M471.4 32.0h0M480.9 29.5h0M457.2 33.7h0M485.5 31.4h0M456.7 35.6h0M470.0 37.0h0M477.1 35.0h0M469.8 33.4h0M473.8 33.4h0" stroke="#111" stroke-opacity="0.6" stroke-width="0.8" stroke-linecap="square" fill="none"/>
<path d="M470.3 32.9h0M484.7 30.4h0M476.2 32.8h0M479.4 33.3h0M481.3 31.7h0M478.5 34.4h0M483.4 36.1h0M490.4 30.5h0M461.2 30.4h0M463.9 34.6h0M476.2 35.0h0M463.6 33.4h0M457.9 29.8h0M470.6 32.4h0M467.6 34.1h0M460.4 35.8h0M479.6 32.3h0M471.1 34.8h0M485.1 30.1h0M488.4 32.7h0M469.3 35.4h0M477.4 29.9h0M489.0 31.0h0M471.3 41.1h0M470.4 33.7h0M481.9 34.9h0M456.9 39.3h0M455.9 34.9h0M474.3 33.4h0M476.1 31.3h0M473.0 32.5h0M456.0 40.1h0M485.2 31.7h0M483.4 30.6h0M480.4 36.1h0M485.7 30.3h0M457.9 33.3h0M486.2 31.5h0M477.6 29.1h0M486.5 33.3h0M457.2 37.4h0M473.4 36.0h0M456.5 39.0h0M456.2 34.5h0M484.9 32.4h0M457.8 35.4h0M462.0 36.8h0M456.6 32.7h0M466.1 34.2h0M479.4 34.2h0M476.2 33.3h0M472.4 37.2h0M486.1 30.9h0M488.8 32.5h0M483.6 34.5h0M474.9 34.5h0M466.6 33.4h0M490.7 28.3h0M478.0 36.1h0M457.6 35.7h0M487.7 31.6h0M457.0 31.4h0M479.2 29.2h0M479.1 35.5h0M455.6 37.0h0M474.9 35.9h0M456.6 36.6h0M457.9 40.0h0M454.6 33.7h0M463.5 33.6h0M474.6 33.2h0M456.6 41.7h0M464.8 34.5h0M484.6 28.9h0M474.4 29.2h0M455.2 35.9h0M468.8 32.0h0M456.0 32.3h0M487.8 30.1h0M456.2 28.0h0M482.0 28.8h0M457.4 40.1h0M482.8 32.5h0M472.2 36.1h0M489.3 31.4h0M471.3 33.3h0M454.7 31.8h0M484.5 33.1h0M498.9 28.1h0M458.5 38.9h0M456.2 40.2h0M455.5 35.3h0M479.4 28.4h0M479.3 32.6h0M487.7 32.2h0M455.4 35.8h0M455.6 39.5h0M459.1 36.0h0M473.6 34.3h0M472.2 33.1h0M472.5 37.4h0M481.6 37.2h0M455.0 34.2h0M478.9 36.3h0M463.8 35.7h0M490.7 30.5h0M457.3 37.3h0M489.8 31.9h0M466.9 38.5h0M474.7 34.6h0M472.6 35.5h0M476.4 30.2h0M455.4 38.5h0M458.2 35.0h0M471.5 33.7h0M456.8 40.1h0M487.4 29.7h0M453.8 34.5h0M477.3 34.3h0M455.6 34.4h0M485.1 31.4h0M481.9 35.4h0M485.6 36.5h0M472.0 31.7h0M475.2 31.5h0M466.4 33.1h0M472.4 36.4h0M457.8 28.5h0M468.3 38.9h0M454.9 34.0h0M457.7 33.6h0M469.6 34.7h0M455.6 35.1h0M476.6 32.0h0M458.4 38.8h0M456.8 36.5h0M489.4 32.4h0M477.8 32.6h0M467.7 36.3h0M487.0 30.8h0M456.0 40.7h0M455.5 35.5h0M488.8 31.5h0M490.6 31.4h0M467.3 32.0h0M456.2 42.7h0M481.3 34.2h0M455.2 39.6h0M476.9 29.9h0M477.4 30.0h0M471.6 31.0h0M491.1 32.1h0M483.2 31.8h0M479.3 32.4h0M471.2 34.5h0M478.0 34.3h0M485.6 31.1h0M475.7 34.1h0M485.0 30.7h0M484.9 28.5h0M459.2 34.8h0M483.8 32.4h0M453.9 41.6h0M457.7 35.9h0M471.7 30.8h0M476.9 33.5h0M474.6 32.1h0M458.3 36.1h0M469.6 35.0h0M455.9 38.4h0M471.3 38.1h0M460.8 34.8h0M455.2 40.5h0M468.2 35.7h0M455.4 41.2h0M471.4 33.0h0M490.3 33.4h0M467.8 36.2h0M457.1 34.7h0M469.3 35.1h0" stroke="#111" stroke-opacity="0.6" stroke-width="0.8" stroke-linecap="square" fill="none"/>
<path d="M468.1 28.9h0M452.8 15.7h0M468.8 22.7h0M478.4 21.7h0M471.8 22.3h0M494.2 38.1h0M470.1 21.2h0M476.9 12.1h0M469.9 22.7h0M486.9 25.2h0M462.2 35.2h0M476.7 33.3h0M465.2 22.9h0M488.0 34.1h0M452.1 27.7h0M481.6 27.2h0M471.5 20.6h0M490.5 35.1h0M479.3 33.1h0M472.2 31.9h0M491.3 13.3h0M468.7 23.0h0M480.4 19.4h0M477.9 33.5h0M476.2 22.8h0M471.6 25.9h0M479.3 21.2h0M473.2 33.6h0M487.1 35.1h0M475.7 35.1h0M472.9 32.9h0M474.8 34.2h0M469.4 21.6h0M460.1 35.7h0M471.5 24.3h0M467.3 14.0h0M474.2 33.4h0M474.6 21.0h0M471.9 20.6h0M462.7 34.8h0M470.5 24.6h0M478.0 37.1h0M474.8 29.6h0M466.7 34.2h0M459.4 24.4h0M477.5 32.6h0M478.6 21.1h0M472.5 22.0h0M484.1 34.6h0M492.0 29.0h0M471.1 34.9h0M494.6 26.6h0M490.0 30.6h0M477.9 29.2h0M476.8 30.4h0M465.6 37.6h0M470.7 23.3h0M453.7 40.1h0M459.4 33.0h0M474.0 22.6h0M469.6 34.1h0M472.0 25.0h0M467.9 26.0h0M491.7 35.2h0M455.4 24.9h0M456.7 14.6h0M473.3 34.4h0M479.4 30.1h0M464.9 18.4h0M456.1 38.6h0M477.3 23.3h0M483.1 39.2h0M469.3 33.1h0M466.3 40.1h0M471.6 23.5h0M471.0 31.1h0M479.1 31.8h0M470.0 20.7h0M475.4 28.9h0M479.2 21.2h0M478.7 25.9h0M507.2 28.8h0M475.8 34.1h0M486.4 33.5h0M458.5 37.6h0M497.6 35.5h0M463.0 22.8h0M466.2 25.8h0M470.1 24.6h0M473.5 23.6h0M473.8 21.1h0M475.2 21.2h0M483.7 33.4h0M464.8 20.9h0M473.0 21.8h0M478.1 22.0h0M490.5 39.3h0M480.7 35.7h0M463.1 24.9h0M488.0 38.6h0M488.8 31.1h0M488.8 30.5h0M474.7 35.8h0M488.7 34.1h0M462.6 14.4h0M475.1 21.0h0M480.2 29.5h0M467.8 30.1h0M487.1 34.5h0M467.0 22.5h0M466.2 19.0h0M471.0 35.9h0M468.3 35.0h0M475.5 31.9h0M474.1 29.6h0M487.3 31.3h0M468.1 36.7h0M471.1 37.4h0M465.0 18.5h0M464.6 18.7h0M478.1 37.3h0M469.0 34.1h0M474.5 35.2h0M469.2 35.9h0M493.4 30.2h0M476.2 22.8h0M477.9 31.7h0M469.1 22.3h0" stroke="#111" stroke-opacity="0.42" stroke-width="0.85" stroke-linecap="square" fill="none"/>
<path d="M477.5 33.1h0M478.7 28.1h0M469.2 20.7h0M470.6 26.8h0M467.3 31.2h0M470.9 20.0h0M478.2 32.9h0M489.6 32.9h0M488.2 29.1h0M473.4 31.0h0M484.9 33.9h0M487.7 26.3h0M472.6 32.7h0M486.8 34.0h0M489.3 28.9h0M468.2 21.9h0M469.9 23.4h0M471.0 23.9h0M466.7 24.5h0M494.0 32.8h0M477.1 25.3h0M465.1 22.4h0M475.1 34.3h0M477.6 27.5h0M481.4 25.9h0M466.1 39.0h0M486.7 32.7h0M482.5 33.3h0M467.2 31.8h0M478.4 39.6h0M462.8 42.5h0M477.8 20.3h0M464.9 28.9h0M478.1 20.1h0M477.5 20.8h0M480.5 31.8h0M470.5 33.3h0M465.4 34.4h0M464.2 41.7h0M471.4 25.7h0M453.8 45.8h0M476.7 34.5h0M490.5 34.8h0M461.8 33.9h0M470.2 20.4h0M466.5 20.9h0M483.7 30.5h0M490.0 40.5h0M474.4 19.7h0M475.3 31.8h0M479.2 18.3h0M487.1 33.0h0M476.2 24.7h0M465.6 22.1h0M468.8 22.2h0M480.4 20.7h0M466.3 23.6h0M472.7 20.7h0M482.2 34.8h0M476.3 31.6h0M478.9 28.7h0M486.0 24.1h0M469.5 31.6h0M454.5 41.1h0M465.1 20.6h0M496.9 32.1h0M476.2 31.9h0M487.0 27.4h0M480.3 35.2h0M476.3 34.1h0M469.4 36.9h0M476.4 21.7h0M475.6 35.1h0M474.1 22.0h0M482.9 26.6h0M472.9 20.3h0M489.1 25.5h0M472.2 21.6h0M480.5 29.5h0M466.1 16.6h0M465.7 22.6h0M481.3 32.3h0M488.8 32.5h0M486.5 32.3h0M487.1 19.3h0M465.5 27.9h0M489.9 36.5h0M455.3 32.7h0M471.5 35.1h0M477.9 23.5h0M477.1 21.6h0M471.5 22.1h0M469.4 38.9h0M479.2 32.5h0M485.4 30.2h0M467.5 22.2h0M465.4 21.6h0M475.6 22.5h0M472.3 21.4h0M465.7 20.5h0M462.5 29.8h0M480.4 34.3h0M466.0 25.1h0M481.2 37.7h0M472.3 22.4h0M491.3 30.7h0M491.0 33.2h0M476.0 25.8h0M471.3 21.8h0M478.8 29.6h0M459.2 28.0h0M460.9 37.7h0M465.3 22.5h0M480.4 35.1h0M473.5 42.7h0M472.8 39.2h0M480.9 34.7h0M471.6 22.7h0M464.8 20.9h0M473.5 28.1h0M472.2 33.4h0M472.8 20.9h0M470.6 23.2h0M483.1 34.5h0M483.9 19.6h0M473.0 35.6h0M490.2 31.9h0" stroke="#111" stroke-opacity="0.42" stroke-width="0.85" stroke-linecap="square" fill="none"/>
</g>
<rect x="451.6" y="11.6" width="43.40" height="30.40" fill="none" stroke="#333" stroke-width="0.7"/>
<path d="M461.4 11.6V42.0M451.6 28.5H495.0" stroke="#333" stroke-width="0.6"/>
<text transform="translate(448.8 40.5) rotate(-90)" font-size="4.1" fill="#555" text-anchor="middle">10<tspan font-size="2.9" dy="-1.2">0</tspan></text>
<path d="M450.4 40.5H451.6" stroke="#666" stroke-width="0.4"/>
<text transform="translate(448.8 33.4) rotate(-90)" font-size="4.1" fill="#555" text-anchor="middle">10<tspan font-size="2.9" dy="-1.2">1</tspan></text>
<path d="M450.4 33.4H451.6" stroke="#666" stroke-width="0.4"/>
<text transform="translate(448.8 26.4) rotate(-90)" font-size="4.1" fill="#555" text-anchor="middle">10<tspan font-size="2.9" dy="-1.2">2</tspan></text>
<path d="M450.4 26.4H451.6" stroke="#666" stroke-width="0.4"/>
<text transform="translate(448.8 19.3) rotate(-90)" font-size="4.1" fill="#555" text-anchor="middle">10<tspan font-size="2.9" dy="-1.2">3</tspan></text>
<path d="M450.4 19.3H451.6" stroke="#666" stroke-width="0.4"/>
<text transform="translate(448.8 12.2) rotate(-90)" font-size="4.1" fill="#555" text-anchor="middle">10<tspan font-size="2.9" dy="-1.2">4</tspan></text>
<path d="M450.4 12.2H451.6" stroke="#666" stroke-width="0.4"/>
<text x="452.8" y="46.5" font-size="3.6" fill="#333" text-anchor="middle">0</text>
<text x="493.7" y="46.5" font-size="3.6" fill="#333" text-anchor="middle">1000</text>
<clipPath id="c10"><rect x="264.9" y="64.8" width="43.90" height="30.30"/></clipPath>
<g clip-path="url(#c10)">
<ellipse cx="279.5" cy="75.4" rx="6.38" ry="2.40" transform="rotate(-6 279.5 75.4)" fill="#000" fill-opacity="1" filter="url(#bl)"/>
<ellipse cx="287.5" cy="74.2" rx="3.40" ry="1.28" transform="rotate(-10 287.5 74.2)" fill="#000" fill-opacity="0.7" filter="url(#bl)"/>
<ellipse cx="289" cy="88.2" rx="10.20" ry="3.20" transform="rotate(-8 289 88.2)" fill="#000" fill-opacity="1" filter="url(#bl)"/>
<ellipse cx="302" cy="84.8" rx="5.52" ry="1.60" transform="rotate(-14 302 84.8)" fill="#000" fill-opacity="0.45" filter="url(#bl)"/>
<ellipse cx="268.7" cy="84.6" rx="1.19" ry="0.80" transform="rotate(0 268.7 84.6)" fill="#000" fill-opacity="0.9" filter="url(#bl)"/>
<path d="M290.1 81.3h0M286.3 74.6h0M288.1 86.4h0M277.0 72.8h0M290.7 83.9h0M270.3 75.7h0M284.7 89.1h0M274.3 78.4h0M284.6 91.7h0M290.7 90.8h0M283.3 88.5h0M293.3 87.3h0M295.3 89.3h0M293.9 88.8h0M281.6 77.1h0M286.7 74.4h0M279.6 74.1h0M298.8 89.1h0M278.5 89.5h0M287.7 90.3h0M299.9 87.6h0M278.5 75.4h0M286.9 86.8h0M290.4 91.3h0M290.3 91.3h0M282.0 77.1h0M280.7 75.0h0M274.0 75.1h0M281.2 72.6h0M273.0 88.9h0M283.7 75.3h0M278.1 88.6h0M280.6 72.5h0M277.0 74.6h0M281.2 93.8h0M278.7 74.8h0M289.3 87.0h0M279.4 74.4h0M291.0 88.9h0M286.2 87.7h0M285.8 75.5h0M289.1 88.3h0M280.1 88.2h0M288.1 89.5h0M282.5 77.4h0M268.9 85.1h0M276.8 78.6h0M277.7 74.6h0M301.9 83.4h0M300.1 85.0h0M297.0 88.8h0M311.6 83.7h0M307.1 84.4h0M296.1 90.9h0M273.6 72.2h0M274.7 74.7h0M291.2 89.5h0M280.4 90.8h0M284.1 89.5h0M280.8 84.1h0M309.3 83.5h0M274.7 75.1h0M282.3 76.2h0M279.5 72.4h0M280.3 73.3h0M275.7 76.4h0M269.6 85.1h0M288.4 89.7h0M291.9 86.7h0M278.2 73.3h0M285.0 88.0h0M301.1 89.3h0M287.0 91.1h0M298.2 86.9h0M284.3 76.0h0M281.9 90.6h0M282.7 89.0h0M298.8 85.9h0M285.1 82.6h0M277.2 76.1h0M291.5 90.4h0M287.7 86.2h0M289.9 89.5h0M292.7 89.0h0M293.9 87.0h0M286.1 75.6h0M298.0 90.6h0M303.7 84.2h0M276.7 75.8h0M281.0 74.4h0M284.4 75.1h0M300.3 86.2h0M284.9 89.5h0M288.1 72.6h0M301.9 84.5h0M302.8 82.3h0M288.3 87.3h0M280.6 86.6h0M286.8 75.2h0M296.0 87.1h0M304.5 83.4h0M296.5 88.9h0M270.1 77.4h0M291.2 88.8h0M269.9 84.6h0M299.1 85.2h0M278.6 75.6h0M273.3 75.4h0M291.3 84.0h0M309.8 83.8h0M281.6 85.7h0M279.0 89.7h0M289.6 89.4h0M275.6 72.5h0M292.6 88.4h0M292.0 88.5h0M279.3 72.7h0M293.5 87.3h0M298.5 88.1h0M275.4 76.9h0M289.2 90.4h0M288.1 89.8h0M274.3 77.0h0M278.1 89.7h0M301.3 87.4h0M294.2 89.4h0M300.1 85.0h0M293.0 88.6h0M289.3 75.7h0M282.8 87.7h0M283.6 74.0h0M308.7 82.0h0M299.5 83.5h0M297.0 88.9h0M287.7 86.5h0M291.4 86.6h0M293.5 88.6h0M299.2 86.5h0M280.0 78.4h0M289.7 90.7h0M282.1 75.7h0M286.7 75.0h0M283.8 74.9h0M286.7 84.5h0M306.1 85.4h0M280.8 93.0h0M284.6 76.2h0M277.7 72.5h0M294.9 85.2h0M276.1 76.1h0M277.2 76.5h0M292.8 85.9h0M292.5 83.7h0M282.8 86.3h0M282.7 80.2h0M284.5 91.8h0M283.5 87.6h0M294.5 85.8h0M293.6 88.7h0M290.3 89.1h0M290.6 87.0h0M295.8 88.9h0M300.8 84.5h0M295.4 90.6h0M280.1 75.2h0M284.9 91.8h0M287.4 74.8h0M282.0 72.8h0M274.8 75.9h0M292.0 91.7h0M284.5 87.3h0M278.4 73.4h0M306.8 85.3h0M281.5 77.0h0M285.0 86.2h0M285.8 90.0h0M287.4 87.3h0M279.5 74.0h0M282.4 74.6h0M283.6 89.3h0M281.6 89.3h0M276.2 89.6h0M289.2 88.1h0M274.5 91.4h0M295.6 87.1h0M283.7 90.4h0M295.0 85.5h0M273.9 75.7h0M282.9 88.8h0M287.3 90.5h0M282.8 88.6h0M286.1 89.8h0M278.0 73.7h0M281.1 74.4h0M298.7 86.2h0M290.3 74.4h0M284.7 88.6h0M282.0 88.1h0M300.0 90.1h0M285.2 90.7h0M290.8 75.5h0" stroke="#111" stroke-opacity="0.6" stroke-width="0.8" stroke-linecap="square" fill="none"/>
<path d="M278.2 73.6h0M307.2 82.3h0M275.1 76.0h0M279.3 93.5h0M307.0 84.3h0M280.5 88.6h0M287.0 90.8h0M291.1 91.5h0M272.4 93.1h0M289.4 88.5h0M269.8 85.3h0M280.1 76.9h0M281.8 74.7h0M287.9 73.8h0M291.7 88.8h0M301.2 83.9h0M282.8 89.2h0M298.5 86.4h0M277.8 75.1h0M281.0 73.2h0M284.2 88.8h0M279.8 75.7h0M273.3 75.6h0M280.5 75.1h0M288.4 75.7h0M278.1 75.7h0M275.1 76.6h0M288.4 85.4h0M286.0 88.4h0M286.9 89.5h0M287.6 73.5h0M280.9 90.1h0M290.0 92.9h0M286.9 89.6h0M298.4 86.9h0M276.9 74.2h0M277.6 92.2h0M274.5 74.9h0M294.8 86.7h0M280.0 77.8h0M294.9 84.3h0M289.2 85.9h0M290.0 89.2h0M277.9 76.1h0M279.0 94.4h0M299.0 85.0h0M281.8 78.7h0M278.6 76.6h0M281.4 88.7h0M293.5 88.8h0M284.8 74.4h0M282.1 74.7h0M283.6 76.7h0M284.3 76.7h0M290.4 88.5h0M297.3 88.5h0M278.0 75.0h0M283.3 76.9h0M291.8 88.5h0M283.2 75.3h0M282.3 76.1h0M269.3 84.4h0M278.2 77.7h0M282.0 73.5h0M303.6 83.6h0M292.8 87.2h0M282.2 87.5h0M299.6 84.2h0M292.7 90.0h0M279.5 75.0h0M295.0 87.4h0M301.5 82.0h0M304.2 83.0h0M298.9 85.6h0M284.9 93.2h0M288.9 91.1h0M286.9 75.6h0M280.3 77.5h0M294.3 87.7h0M278.3 75.8h0M276.2 76.7h0M274.7 76.0h0M277.2 78.8h0M279.9 89.2h0M303.0 86.4h0M286.7 78.1h0M283.1 88.2h0M270.2 73.9h0M293.6 90.0h0M286.4 74.7h0M289.3 91.9h0M287.2 91.2h0M293.6 90.3h0M299.9 84.5h0M280.1 87.8h0M268.0 84.2h0M293.7 82.3h0M279.5 76.0h0M270.5 77.6h0M291.4 93.8h0M279.9 89.5h0M275.4 75.8h0M286.1 88.1h0M290.6 72.5h0M283.0 74.2h0M270.1 90.4h0M306.4 85.8h0M274.9 74.1h0M268.6 84.7h0M282.3 75.9h0M294.2 89.0h0M301.4 89.2h0M277.2 78.1h0M284.0 91.6h0M280.3 77.1h0M286.6 73.6h0M288.3 89.8h0M296.5 85.5h0M291.6 93.4h0M279.1 88.9h0M278.0 87.1h0M293.0 86.3h0M278.8 74.2h0M280.8 85.8h0M287.3 86.7h0M289.4 73.6h0M303.0 84.8h0M295.3 87.9h0M290.0 90.6h0M286.4 74.7h0M286.7 88.1h0M280.1 85.8h0M278.9 77.6h0M281.3 76.0h0M273.2 75.5h0M283.0 87.3h0M292.7 85.3h0M289.6 87.8h0M278.8 77.7h0M277.8 76.5h0M276.4 76.8h0M274.3 87.3h0M280.2 89.3h0M287.3 89.9h0M293.6 73.9h0M284.8 75.7h0M303.7 84.1h0M289.3 88.6h0M277.0 74.8h0M280.1 79.2h0M296.1 86.4h0M288.4 73.6h0M276.1 73.8h0M290.9 88.4h0M290.0 89.5h0M274.8 77.2h0M286.6 87.5h0M296.5 89.8h0M275.3 75.4h0M301.0 85.9h0M301.3 82.4h0M292.4 91.1h0M295.2 86.5h0M274.4 93.7h0M292.8 86.7h0M285.7 89.3h0M277.5 76.6h0M282.8 74.4h0M281.1 76.7h0M288.2 90.4h0M287.4 74.4h0M295.1 88.0h0M268.9 83.9h0M274.8 79.3h0M289.3 87.3h0M287.0 91.3h0M283.4 86.8h0M282.5 86.8h0M281.8 73.5h0M287.2 88.8h0M278.0 76.7h0M289.2 85.7h0M287.7 87.8h0M275.8 91.8h0M287.4 91.2h0M302.2 85.7h0M288.9 73.6h0M288.1 86.7h0M287.6 89.7h0M290.6 87.7h0M283.4 90.0h0M299.2 88.4h0M290.3 72.9h0M302.9 84.3h0M304.1 84.3h0M278.0 77.4h0M282.5 91.7h0M285.5 92.1h0M278.7 74.7h0M302.0 83.7h0M279.2 74.6h0" stroke="#111" stroke-opacity="0.6" stroke-width="0.8" stroke-linecap="square" fill="none"/>
<path d="M302.7 85.9h0M296.9 83.0h0M291.8 91.9h0M303.4 85.1h0M273.4 79.8h0M283.0 74.2h0M281.3 75.1h0M286.0 76.9h0M297.4 86.6h0M286.7 83.4h0M277.9 73.1h0M294.6 85.6h0M277.4 76.9h0M278.9 73.8h0M275.5 75.0h0M279.3 76.0h0M281.3 73.8h0M285.1 86.6h0M289.9 85.4h0M300.2 87.0h0M276.3 78.0h0M281.6 76.3h0M276.7 75.4h0M284.5 75.6h0M290.8 87.0h0M287.8 88.0h0M290.8 90.6h0M284.3 73.5h0M279.3 75.8h0M307.2 82.3h0M290.2 73.9h0M282.1 74.3h0M282.5 91.1h0M293.3 87.2h0M283.9 87.1h0M278.3 74.9h0M287.8 91.7h0M290.2 91.5h0M309.1 82.7h0M272.1 77.7h0M268.7 84.1h0M279.8 76.0h0M285.9 76.5h0M306.0 83.0h0M277.5 76.2h0M303.4 87.1h0M281.9 90.0h0M277.9 76.1h0M302.4 84.9h0M288.2 72.8h0M301.7 85.8h0M307.8 84.8h0M298.8 83.0h0M292.9 85.9h0M277.5 78.6h0M289.2 73.1h0M276.0 78.4h0M294.2 85.3h0M296.3 84.9h0M276.2 77.0h0M287.3 90.0h0M277.4 76.7h0M289.9 88.0h0M280.7 77.1h0M287.8 89.7h0M297.8 85.1h0M284.4 77.3h0M285.2 74.8h0M284.1 75.2h0M298.1 86.7h0M291.2 90.2h0M291.7 88.3h0M283.6 92.3h0M281.1 91.5h0M297.0 88.2h0M281.6 87.8h0M286.2 90.4h0M287.5 74.5h0M288.4 88.7h0M295.2 87.5h0M294.2 85.1h0M293.6 86.9h0M295.0 85.4h0M300.7 84.8h0M286.6 89.1h0M274.8 72.8h0M282.0 74.5h0M273.0 75.8h0M277.4 75.7h0M282.3 76.9h0M276.6 70.5h0M290.6 84.8h0M272.9 78.9h0M278.6 73.7h0M290.8 87.0h0M283.0 77.9h0M299.0 86.3h0M304.7 83.2h0M305.7 83.8h0M284.5 89.2h0M287.5 90.3h0M291.1 88.2h0M296.6 85.1h0M288.9 87.9h0M302.2 85.9h0M288.7 86.1h0M284.4 88.0h0M294.5 84.8h0M289.5 90.7h0M289.2 85.2h0M288.9 73.0h0M278.7 84.9h0M285.2 76.9h0M283.1 90.0h0M276.7 77.5h0M279.8 75.2h0M275.0 82.9h0M277.8 76.4h0M307.1 84.0h0M288.6 89.8h0M296.3 85.6h0M294.3 88.3h0M273.6 77.6h0M285.4 91.7h0M307.2 83.3h0M286.9 73.5h0M280.5 86.1h0M286.8 75.3h0M288.3 85.6h0M291.3 89.4h0M298.8 88.9h0M292.5 89.2h0M282.8 93.3h0M276.1 74.2h0M295.6 88.8h0M285.6 75.7h0M279.9 70.7h0M302.9 82.5h0M276.1 76.6h0M285.9 74.8h0M290.9 89.0h0M284.2 91.4h0M281.3 77.0h0M277.5 73.0h0M291.0 86.9h0M282.2 76.9h0M290.1 87.9h0M286.1 85.4h0M304.6 88.5h0M291.6 85.5h0M280.0 88.7h0M291.6 84.7h0M278.8 76.2h0M268.1 84.0h0M276.6 74.8h0M290.2 74.6h0M282.8 90.0h0M281.5 85.4h0M295.5 82.7h0M288.5 85.3h0M276.9 92.9h0M286.7 92.8h0M279.7 75.8h0M288.3 88.4h0M273.7 77.2h0M287.4 73.4h0M296.3 85.6h0M279.1 73.2h0M280.4 87.4h0M292.5 86.8h0M269.8 85.3h0M294.0 89.4h0M291.4 72.6h0M284.6 86.2h0M273.6 77.7h0M279.2 78.6h0M299.0 85.5h0M279.1 77.3h0M285.9 90.4h0M285.6 74.4h0M294.3 89.2h0M277.7 77.6h0M302.8 86.2h0M269.4 84.7h0M288.6 79.6h0M278.9 73.1h0M274.8 74.7h0M284.8 89.2h0M275.4 73.8h0M287.9 84.7h0M278.4 76.5h0M285.5 74.4h0M274.2 79.9h0M274.4 79.0h0M283.4 85.0h0M296.0 86.4h0M289.5 74.3h0M281.5 87.0h0M279.7 74.0h0M285.9 74.7h0" stroke="#111" stroke-opacity="0.6" stroke-width="0.8" stroke-linecap="square" fill="none"/>
<path d="M296.9 84.6h0M292.1 80.0h0M287.2 77.0h0M294.4 90.9h0M290.8 74.0h0M284.2 78.1h0M309.6 90.6h0M309.7 84.8h0M303.4 85.3h0M291.7 83.6h0M278.0 74.9h0M287.4 84.6h0M304.0 78.1h0M286.7 83.4h0M307.9 82.3h0M282.9 83.0h0M290.8 88.2h0M280.9 77.7h0M284.4 76.3h0M295.9 82.1h0M276.9 85.2h0M299.7 89.2h0M291.6 83.3h0M299.6 82.9h0M296.7 88.4h0M294.3 83.6h0M281.9 83.3h0M281.2 73.8h0M295.9 82.4h0M300.3 82.2h0M287.8 84.5h0M266.7 82.3h0M291.5 92.8h0M292.1 87.8h0M295.8 83.4h0M302.0 76.1h0M306.6 84.8h0M275.0 83.3h0M285.0 77.0h0M287.6 73.4h0M283.9 78.2h0M290.9 81.2h0M281.1 77.5h0M298.3 82.9h0M301.4 82.3h0M309.8 80.5h0M284.9 88.0h0M289.2 82.5h0M287.0 92.6h0M286.4 77.3h0M284.0 87.7h0M309.0 81.6h0M291.6 82.1h0M290.3 93.9h0M301.1 82.2h0M275.4 72.3h0M299.4 86.7h0M288.7 88.4h0M297.3 73.6h0M306.3 81.5h0M290.1 74.7h0M285.4 83.9h0M282.8 76.1h0M295.2 83.3h0M280.9 73.4h0M279.3 91.0h0M300.9 83.0h0M300.2 82.6h0M277.2 76.6h0M298.6 81.5h0M291.2 84.3h0M294.4 85.4h0M285.4 76.4h0M287.9 91.2h0M275.6 74.5h0M287.3 83.8h0M293.3 83.9h0M292.1 83.9h0M283.3 98.5h0M289.8 87.6h0M295.3 81.8h0M265.0 87.3h0M273.3 80.0h0M292.3 85.4h0M287.6 91.1h0M300.1 82.8h0M298.6 83.8h0M288.0 82.9h0M283.3 72.3h0M295.1 92.4h0M287.0 88.4h0M290.5 81.9h0M303.5 68.7h0M269.3 89.3h0M287.3 90.0h0M285.0 83.3h0M277.9 76.2h0M282.5 75.7h0M286.6 83.0h0M289.1 84.7h0M283.5 70.8h0M295.6 83.6h0M288.1 84.3h0M298.6 84.3h0M293.7 66.0h0M309.1 85.5h0M294.0 79.7h0M299.4 81.2h0M281.6 86.6h0M298.0 82.5h0M282.1 76.3h0M297.6 83.1h0M281.7 74.3h0M282.4 85.3h0M282.0 97.7h0M278.5 79.0h0M292.1 81.9h0M290.6 84.0h0M296.2 83.9h0M299.0 94.1h0M273.1 74.2h0M296.3 80.3h0M302.2 91.4h0M288.5 82.5h0M286.9 74.0h0M282.0 82.6h0M273.6 91.3h0M288.4 82.7h0M296.0 83.6h0M287.1 83.5h0M273.4 89.2h0M279.4 83.3h0M281.9 83.6h0M288.2 82.1h0M295.9 83.5h0M267.8 84.4h0M288.5 82.4h0M296.6 90.9h0M293.2 84.5h0M302.6 89.4h0M290.5 85.3h0M281.1 83.5h0M272.5 93.3h0M301.6 92.8h0M305.3 82.7h0M304.0 89.3h0M290.0 86.3h0M292.0 83.4h0M279.2 73.5h0M305.1 85.0h0M296.1 88.1h0M286.7 81.9h0M280.7 75.5h0M274.4 76.0h0M297.0 84.1h0M296.7 81.6h0M289.1 84.1h0M299.2 81.9h0M290.5 71.3h0M283.7 95.2h0M272.0 87.7h0M277.7 72.9h0M286.7 89.5h0M302.9 92.0h0M308.4 77.1h0M292.0 83.5h0M280.5 84.3h0M297.4 83.4h0M302.4 85.6h0M280.7 87.1h0M308.7 88.5h0M275.7 72.4h0M283.7 76.6h0M296.6 82.5h0M292.8 93.2h0M300.2 83.8h0M278.5 84.9h0M304.1 81.7h0M291.1 77.8h0M314.7 91.8h0M290.3 92.1h0M289.1 82.5h0" stroke="#111" stroke-opacity="0.42" stroke-width="0.85" stroke-linecap="square" fill="none"/>
<path d="M279.9 83.8h0M288.6 84.1h0M286.2 82.4h0M282.4 85.0h0M286.1 74.6h0M314.5 78.8h0M297.2 80.6h0M290.3 88.9h0M284.2 77.7h0M286.1 86.2h0M286.8 92.3h0M307.7 83.5h0M284.2 86.6h0M278.9 79.3h0M290.5 86.4h0M296.7 82.7h0M289.4 83.7h0M287.6 84.4h0M284.9 83.3h0M280.3 82.9h0M284.6 75.6h0M294.2 88.1h0M293.5 83.5h0M290.0 84.5h0M272.8 77.4h0M293.6 83.0h0M291.7 83.6h0M288.1 83.7h0M295.0 67.3h0M296.9 84.3h0M294.6 83.7h0M306.9 82.2h0M288.5 84.0h0M291.2 81.8h0M297.0 83.4h0M290.2 75.2h0M265.6 86.5h0M288.0 83.3h0M277.5 78.4h0M289.6 82.7h0M285.3 71.9h0M284.8 72.6h0M282.6 84.1h0M286.3 74.3h0M287.0 92.2h0M297.1 92.1h0M292.0 84.1h0M294.5 87.0h0M287.2 82.9h0M305.7 81.7h0M294.5 82.4h0M274.4 80.2h0M311.6 81.9h0M281.5 78.0h0M289.1 89.9h0M281.3 88.3h0M287.1 73.2h0M285.0 89.4h0M289.5 95.1h0M288.1 87.0h0M282.4 83.8h0M292.3 82.4h0M300.9 81.3h0M281.4 83.3h0M302.5 86.9h0M295.4 83.7h0M293.0 82.9h0M296.0 81.6h0M283.3 84.4h0M297.3 85.5h0M281.7 70.4h0M284.0 84.0h0M310.0 82.3h0M289.5 90.8h0M282.7 71.5h0M284.5 75.6h0M284.4 82.3h0M288.2 83.5h0M284.0 73.4h0M291.6 82.1h0M303.7 81.7h0M292.2 87.6h0M278.4 83.5h0M298.3 90.6h0M290.2 75.8h0M280.4 70.9h0M285.2 84.6h0M289.9 82.6h0M269.8 72.1h0M293.6 83.2h0M276.3 84.6h0M275.6 87.5h0M307.3 89.7h0M297.8 87.3h0M285.6 81.6h0M283.5 83.6h0M282.5 89.5h0M286.6 75.6h0M293.1 83.4h0M298.2 87.4h0M312.7 86.9h0M280.4 75.5h0M283.6 72.2h0M280.9 87.4h0M294.1 83.3h0M304.4 94.4h0M280.6 79.4h0M292.2 90.7h0M282.8 92.5h0M298.1 74.3h0M279.4 75.4h0M317.1 87.7h0M286.8 87.5h0M290.7 84.4h0M280.5 75.4h0M304.7 82.5h0M278.2 78.6h0M292.1 84.5h0M301.3 83.8h0M278.9 90.7h0M285.4 75.3h0M287.5 86.4h0M296.1 79.0h0M286.3 83.8h0M280.7 75.1h0M292.5 82.8h0M309.4 84.3h0M302.3 71.2h0M282.4 87.1h0M282.7 83.3h0M288.7 82.9h0M301.1 67.6h0M298.4 82.9h0M271.3 72.4h0M300.7 83.1h0M283.5 79.3h0M294.1 86.4h0M285.4 83.7h0M275.8 76.5h0M310.1 79.6h0M290.4 82.0h0M295.6 85.8h0M303.4 82.3h0M297.1 82.3h0M295.1 73.7h0M297.2 82.7h0M283.6 77.5h0M294.0 82.8h0M301.9 80.1h0M281.5 86.0h0M289.3 85.8h0M301.8 82.9h0M295.8 82.3h0M296.0 83.4h0M291.8 87.3h0M293.2 86.8h0M291.7 81.9h0M292.1 82.5h0M293.9 73.8h0M291.2 91.1h0M281.0 79.5h0M294.9 83.7h0M287.8 87.0h0M292.2 83.3h0M308.0 92.3h0M300.2 82.7h0M300.4 86.2h0M299.5 83.1h0M290.0 82.4h0M290.5 82.5h0M273.6 76.1h0M297.1 81.1h0M278.2 74.8h0M302.7 80.3h0M292.8 83.1h0M287.5 69.6h0M293.9 95.5h0M295.1 87.9h0M281.9 83.2h0M294.3 87.2h0M283.4 78.0h0" stroke="#111" stroke-opacity="0.42" stroke-width="0.85" stroke-linecap="square" fill="none"/>
</g>
<rect x="264.9" y="64.8" width="43.90" height="30.30" fill="none" stroke="#333" stroke-width="0.7"/>
<path d="M275.4 64.8V95.1M264.9 81.0H308.8" stroke="#333" stroke-width="0.6"/>
<text transform="translate(262.1 93.6) rotate(-90)" font-size="4.1" fill="#555" text-anchor="middle">10<tspan font-size="2.9" dy="-1.2">0</tspan></text>
<path d="M263.7 93.6H264.9" stroke="#666" stroke-width="0.4"/>
<text transform="translate(262.1 86.6) rotate(-90)" font-size="4.1" fill="#555" text-anchor="middle">10<tspan font-size="2.9" dy="-1.2">1</tspan></text>
<path d="M263.7 86.6H264.9" stroke="#666" stroke-width="0.4"/>
<text transform="translate(262.1 79.5) rotate(-90)" font-size="4.1" fill="#555" text-anchor="middle">10<tspan font-size="2.9" dy="-1.2">2</tspan></text>
<path d="M263.7 79.5H264.9" stroke="#666" stroke-width="0.4"/>
<text transform="translate(262.1 72.5) rotate(-90)" font-size="4.1" fill="#555" text-anchor="middle">10<tspan font-size="2.9" dy="-1.2">3</tspan></text>
<path d="M263.7 72.5H264.9" stroke="#666" stroke-width="0.4"/>
<text transform="translate(262.1 65.4) rotate(-90)" font-size="4.1" fill="#555" text-anchor="middle">10<tspan font-size="2.9" dy="-1.2">4</tspan></text>
<path d="M263.7 65.4H264.9" stroke="#666" stroke-width="0.4"/>
<text x="266.1" y="99.6" font-size="3.6" fill="#333" text-anchor="middle">0</text>
<text x="307.5" y="99.6" font-size="3.6" fill="#333" text-anchor="middle">1000</text>
<clipPath id="c11"><rect x="325.5" y="64.8" width="43.90" height="30.30"/></clipPath>
<g clip-path="url(#c11)">
<ellipse cx="343.5" cy="75.3" rx="7.65" ry="3.04" transform="rotate(-5 343.5 75.3)" fill="#000" fill-opacity="1" filter="url(#bl)"/>
<ellipse cx="332" cy="82" rx="5.44" ry="1.36" transform="rotate(-51 332 82)" fill="#000" fill-opacity="0.9" filter="url(#bl)"/>
<ellipse cx="350.5" cy="88" rx="8.92" ry="2.40" transform="rotate(-8 350.5 88)" fill="#000" fill-opacity="0.7" filter="url(#bl)"/>
<path d="M337.6 72.1h0M331.1 82.3h0M343.4 74.5h0M334.2 79.8h0M348.9 77.1h0M341.4 73.8h0M348.6 74.7h0M352.1 90.4h0M349.6 90.2h0M349.0 75.9h0M330.5 82.2h0M349.6 87.5h0M348.2 75.5h0M344.4 75.8h0M356.5 86.7h0M343.4 74.0h0M346.3 69.8h0M351.6 74.2h0M343.9 72.0h0M342.8 88.2h0M346.4 72.1h0M333.3 80.9h0M342.0 75.5h0M341.6 79.1h0M350.6 78.6h0M343.9 72.3h0M337.5 74.3h0M345.8 91.7h0M340.2 88.2h0M338.7 73.9h0M344.5 76.5h0M349.6 74.9h0M351.5 85.0h0M333.8 75.3h0M355.1 86.5h0M345.8 90.1h0M344.1 91.1h0M331.6 82.0h0M344.5 76.8h0M351.0 88.0h0M348.9 86.9h0M351.8 87.2h0M356.0 86.4h0M349.0 73.2h0M341.8 85.9h0M345.8 75.1h0M344.5 90.3h0M348.0 78.4h0M333.5 79.8h0M334.2 76.5h0M344.0 74.9h0M330.0 83.4h0M350.2 90.9h0M349.0 88.7h0M350.6 75.2h0M330.7 83.3h0M339.6 74.3h0M332.6 80.8h0M342.4 87.5h0M350.3 91.4h0M333.7 78.5h0M353.9 86.9h0M348.8 86.1h0M340.0 76.9h0M345.5 73.8h0M343.4 88.8h0M350.3 88.1h0M347.6 90.0h0M350.0 84.8h0M340.3 90.6h0M347.7 77.0h0M347.9 73.6h0M369.2 87.7h0M348.5 88.9h0M348.6 86.6h0M332.7 79.8h0M348.1 76.5h0M345.9 86.8h0M349.0 87.3h0M346.0 77.1h0M346.0 72.3h0M329.8 85.1h0M345.0 74.2h0M345.7 76.2h0M351.6 73.3h0M342.3 89.9h0M336.2 78.1h0M341.6 77.2h0M339.3 72.0h0M346.7 76.7h0M331.4 80.6h0M330.3 84.8h0M349.8 85.0h0M337.1 79.7h0M344.0 73.6h0M347.3 75.5h0M348.6 87.7h0M349.4 74.8h0M341.5 76.4h0M347.5 77.2h0M330.6 80.4h0M332.9 81.7h0M340.6 76.8h0M332.6 79.8h0M353.0 85.1h0M343.6 77.2h0M342.9 78.6h0M346.3 89.5h0M352.0 87.3h0M347.0 74.3h0M333.4 79.8h0M333.3 82.2h0M358.9 86.9h0M353.4 77.9h0M349.9 74.1h0M337.3 78.6h0M345.5 77.4h0M350.3 86.5h0M351.4 86.6h0M355.0 85.1h0M341.7 75.9h0M349.5 90.0h0M355.1 87.3h0M334.4 80.6h0M345.5 77.8h0M348.1 88.9h0M338.2 77.2h0M328.9 88.5h0M346.8 75.1h0M343.8 77.2h0M356.1 87.0h0M345.2 79.2h0M341.4 78.8h0M350.5 88.0h0M331.9 81.0h0M333.3 74.8h0M345.1 72.5h0M343.0 76.2h0M352.5 87.8h0M340.5 73.2h0M352.9 86.7h0M347.6 75.2h0M334.2 82.3h0M344.0 76.9h0M331.2 72.3h0M331.2 83.1h0M337.7 76.1h0M353.1 85.9h0M332.5 82.5h0M333.0 82.2h0M331.6 82.2h0M336.7 71.1h0M357.1 85.1h0M342.0 76.9h0M339.1 85.2h0M336.6 77.5h0M341.2 73.4h0M341.6 73.1h0M353.3 89.7h0M345.0 76.0h0M351.0 75.1h0M349.9 69.7h0M332.1 79.1h0M347.0 91.3h0M354.9 85.7h0M349.8 86.5h0M343.0 79.0h0M349.1 78.0h0M352.2 87.1h0M331.5 84.2h0M332.6 72.1h0M342.2 74.5h0M335.3 79.2h0M353.0 86.4h0M346.7 72.8h0M358.7 87.4h0M351.3 84.2h0" stroke="#111" stroke-opacity="0.6" stroke-width="0.8" stroke-linecap="square" fill="none"/>
<path d="M345.2 75.0h0M349.5 89.2h0M333.8 79.2h0M359.2 85.2h0M347.9 77.5h0M348.6 76.2h0M349.7 89.0h0M346.5 87.9h0M354.5 87.2h0M340.8 72.8h0M330.9 82.9h0M357.9 91.0h0M351.1 88.0h0M348.1 72.9h0M334.2 76.5h0M351.2 90.1h0M347.7 76.7h0M344.5 90.5h0M331.5 77.7h0M348.5 79.9h0M329.3 81.4h0M337.0 80.6h0M363.5 83.8h0M354.6 88.3h0M356.1 90.5h0M347.8 89.7h0M329.7 84.1h0M353.6 89.6h0M357.0 87.2h0M335.0 76.0h0M356.3 89.0h0M346.9 76.7h0M341.2 72.0h0M351.9 88.1h0M348.2 88.7h0M353.4 86.6h0M345.8 75.2h0M335.7 77.9h0M340.9 72.1h0M356.9 86.8h0M336.6 74.9h0M342.4 75.2h0M346.3 72.9h0M350.9 73.3h0M352.1 88.4h0M341.2 92.4h0M351.0 75.0h0M343.5 75.6h0M349.6 90.4h0M351.1 89.5h0M341.6 76.4h0M347.7 86.7h0M343.1 70.7h0M342.4 72.3h0M348.7 75.7h0M328.6 84.2h0M343.2 76.6h0M335.2 73.6h0M348.3 74.4h0M345.6 76.6h0M333.9 74.8h0M331.6 82.3h0M334.1 80.8h0M336.9 76.4h0M337.8 74.2h0M346.2 75.4h0M343.6 72.0h0M336.5 74.0h0M338.9 89.5h0M346.2 77.4h0M342.0 75.5h0M337.4 77.5h0M339.9 74.7h0M333.0 81.6h0M352.4 88.1h0M331.0 83.8h0M347.8 76.1h0M340.4 74.3h0M346.2 75.5h0M345.5 85.9h0M352.2 90.7h0M332.2 83.4h0M346.9 78.9h0M351.8 86.8h0M354.4 88.5h0M347.4 87.9h0M333.6 78.0h0M351.2 89.1h0M345.1 87.9h0M340.2 76.7h0M333.0 81.4h0M361.0 83.7h0M331.0 82.0h0M338.7 76.1h0M344.4 80.1h0M350.4 72.7h0M352.5 85.0h0M352.2 87.2h0M359.6 85.4h0M353.7 74.9h0M352.3 87.8h0M354.5 89.2h0M347.2 74.9h0M349.4 92.6h0M330.5 85.5h0M351.2 80.4h0M329.4 84.7h0M330.2 84.5h0M354.9 88.6h0M347.7 89.7h0M343.2 74.3h0M349.5 74.3h0M339.0 77.8h0M348.3 91.4h0M341.3 75.0h0M354.1 87.8h0M335.2 79.3h0M346.9 87.7h0M336.2 77.9h0M348.3 88.5h0M350.8 87.2h0M339.9 72.8h0M348.6 74.5h0M351.4 89.3h0M344.5 71.3h0M333.7 80.4h0M339.5 72.7h0M347.5 73.3h0M334.4 75.8h0M335.8 73.4h0M345.9 77.8h0M350.1 87.6h0M348.0 90.4h0M353.6 87.9h0M345.6 73.2h0M349.4 87.2h0M344.3 78.6h0M333.9 81.8h0M351.1 72.4h0M353.5 84.7h0M349.4 89.1h0M337.5 78.7h0M346.8 88.7h0M352.3 90.7h0M356.5 87.4h0M338.4 73.3h0M353.7 85.1h0M352.2 92.1h0M346.4 79.1h0M360.4 87.0h0M346.1 89.6h0M342.4 91.5h0M349.9 75.7h0M342.9 74.6h0M346.3 75.6h0M348.8 86.4h0M348.9 76.8h0M357.3 87.4h0M342.3 76.0h0M334.7 82.4h0M331.9 80.8h0M344.7 86.7h0M343.5 76.5h0M334.2 78.4h0M350.1 89.0h0M347.2 90.1h0M343.7 92.2h0M336.6 77.0h0M351.8 89.7h0M339.1 77.2h0M353.7 89.4h0M340.7 75.5h0M334.5 81.1h0M332.2 83.9h0M330.6 86.9h0M339.7 89.8h0M347.6 87.9h0" stroke="#111" stroke-opacity="0.6" stroke-width="0.8" stroke-linecap="square" fill="none"/>
<path d="M352.7 90.8h0M342.2 76.7h0M353.7 88.1h0M342.8 73.3h0M338.0 76.6h0M345.3 76.2h0M337.6 75.4h0M345.3 78.1h0M349.8 87.7h0M352.7 88.1h0M332.4 79.2h0M347.0 74.2h0M340.8 73.4h0M341.5 74.9h0M332.2 85.1h0M354.4 91.0h0M345.7 76.7h0M351.9 72.6h0M349.4 86.8h0M356.2 92.5h0M346.7 92.4h0M345.5 87.8h0M353.4 85.0h0M344.2 76.1h0M335.5 80.0h0M343.4 91.6h0M342.3 88.3h0M343.6 74.6h0M333.0 81.2h0M360.0 85.1h0M344.1 71.6h0M346.9 77.4h0M354.4 75.8h0M352.4 74.4h0M343.7 78.3h0M343.4 90.5h0M356.1 86.8h0M343.1 78.2h0M331.1 81.6h0M338.2 78.7h0M343.3 75.0h0M341.2 75.4h0M350.8 89.3h0M353.2 85.0h0M347.1 87.9h0M343.1 88.4h0M344.9 78.6h0M364.2 86.0h0M345.8 73.7h0M336.9 72.7h0M349.7 86.7h0M343.6 76.2h0M328.6 81.2h0M356.3 86.8h0M337.1 76.9h0M344.8 89.5h0M340.2 74.6h0M347.0 88.5h0M335.3 79.0h0M337.9 88.5h0M338.8 75.4h0M350.1 92.0h0M329.1 81.6h0M345.4 73.8h0M331.6 82.1h0M338.6 79.5h0M340.6 77.6h0M336.9 76.6h0M349.7 88.8h0M333.4 80.2h0M344.1 75.8h0M348.2 88.3h0M338.7 79.0h0M355.6 86.7h0M335.2 76.0h0M345.3 92.8h0M353.4 88.9h0M354.9 91.3h0M336.8 89.3h0M330.3 84.3h0M346.0 71.6h0M344.1 75.0h0M353.5 89.1h0M333.7 78.3h0M349.7 72.2h0M351.2 82.4h0M341.7 71.7h0M344.9 76.1h0M343.6 78.3h0M328.3 86.3h0M352.6 75.5h0M349.1 73.3h0M331.8 84.2h0M347.3 75.6h0M347.3 75.6h0M342.3 77.9h0M352.2 87.3h0M332.5 75.1h0M349.6 87.9h0M343.9 74.3h0M342.0 73.2h0M349.4 89.3h0M339.8 73.2h0M346.3 89.9h0M355.6 87.6h0M343.2 89.6h0M345.8 76.5h0M346.3 76.6h0M344.0 75.1h0M332.2 82.1h0M350.8 88.5h0M344.3 75.4h0M340.2 78.3h0M340.6 75.1h0M334.0 77.5h0M332.8 73.9h0M349.1 74.8h0M346.6 87.2h0M343.8 75.8h0M349.3 88.5h0M340.8 75.8h0M342.2 77.7h0M338.3 73.5h0M335.4 81.9h0M341.1 75.9h0M353.4 86.7h0M344.9 75.5h0M341.9 75.1h0M345.4 87.3h0M345.3 93.7h0M338.8 74.5h0M350.9 89.8h0M342.0 71.1h0M337.6 73.2h0M350.5 87.9h0M346.4 78.9h0M354.6 86.1h0M353.3 91.9h0M343.3 74.5h0M341.5 74.3h0M331.2 81.6h0M338.3 77.4h0M343.2 73.2h0M354.3 85.4h0M350.4 85.6h0M346.1 72.0h0M345.6 89.8h0M339.8 90.2h0M355.1 87.4h0M343.5 78.9h0M331.6 81.4h0M331.8 84.5h0M344.7 73.8h0M344.9 90.8h0M352.7 85.7h0M349.3 89.0h0M361.6 84.1h0M347.0 79.6h0M333.7 80.2h0M348.2 77.5h0M344.6 76.6h0M349.9 86.3h0M354.6 86.4h0M340.0 73.4h0M331.8 82.6h0M346.6 90.6h0M346.8 75.6h0M346.3 77.9h0M348.2 86.0h0M352.1 83.4h0M348.2 72.4h0M346.6 73.9h0M342.3 74.4h0M346.8 72.1h0M331.7 81.9h0M353.5 89.9h0" stroke="#111" stroke-opacity="0.6" stroke-width="0.8" stroke-linecap="square" fill="none"/>
<path d="M356.4 77.4h0M352.6 83.6h0M348.8 73.6h0M353.0 75.4h0M351.4 78.5h0M357.0 81.1h0M356.6 86.3h0M357.4 75.9h0M346.9 83.1h0M355.0 74.8h0M347.2 77.2h0M357.9 76.8h0M360.8 87.3h0M331.6 80.2h0M349.3 77.2h0M351.3 85.9h0M356.3 80.0h0M342.4 77.9h0M330.6 90.0h0M353.3 84.7h0M352.2 78.2h0M338.7 93.3h0M351.2 77.6h0M358.2 71.4h0M364.3 74.0h0M353.4 77.6h0M356.7 77.9h0M352.3 75.1h0M357.7 76.5h0M348.7 89.9h0M354.6 78.3h0M342.3 81.2h0M344.2 79.8h0M349.6 77.3h0M348.8 74.5h0M362.4 84.3h0M355.8 74.7h0M348.5 80.1h0M345.3 84.4h0M338.8 82.2h0M352.7 77.1h0M323.6 80.7h0M338.8 76.3h0M357.0 80.9h0M355.2 77.7h0M357.7 79.9h0M349.8 74.9h0M349.5 85.9h0M347.8 80.8h0M356.9 77.6h0M352.9 76.7h0M354.7 76.8h0M344.0 80.2h0M355.9 83.0h0M347.6 82.2h0M354.8 77.2h0M354.3 77.3h0M354.4 76.4h0M328.4 83.2h0M327.6 84.0h0M349.4 78.5h0M353.3 73.4h0M337.6 85.6h0M350.6 86.7h0M336.8 81.6h0M347.9 92.9h0M356.5 76.4h0M357.5 88.0h0M353.3 80.5h0M326.6 75.4h0M357.4 74.7h0M343.3 81.9h0M333.6 80.2h0M349.9 77.9h0M334.9 69.6h0M354.4 76.2h0M346.7 87.3h0M350.0 78.5h0M344.7 77.1h0M356.8 86.7h0M356.0 78.6h0M329.3 71.2h0M334.1 89.1h0M363.4 78.9h0M359.7 73.1h0M353.7 78.9h0M352.5 79.7h0M360.5 75.9h0M351.4 74.4h0M332.7 92.8h0M353.9 75.8h0M345.3 84.5h0M356.0 74.3h0M358.7 72.2h0M341.9 77.3h0M352.0 79.5h0M373.6 77.7h0M332.2 78.7h0M367.0 81.8h0M356.1 70.4h0M350.2 76.7h0M356.8 78.4h0M356.1 76.0h0M343.9 79.4h0M348.7 78.3h0" stroke="#111" stroke-opacity="0.42" stroke-width="0.85" stroke-linecap="square" fill="none"/>
<path d="M356.5 72.3h0M358.8 81.1h0M343.3 80.6h0M328.0 84.4h0M351.8 81.8h0M354.4 72.1h0M344.4 86.5h0M359.0 74.6h0M345.6 74.5h0M368.0 83.6h0M321.0 85.3h0M340.6 69.4h0M341.5 78.1h0M354.5 75.6h0M356.6 74.1h0M352.2 77.2h0M352.5 77.5h0M336.6 68.0h0M356.2 77.8h0M350.6 89.4h0M336.5 74.4h0M349.5 81.9h0M366.4 84.2h0M346.7 80.9h0M357.0 78.5h0M365.1 75.3h0M343.8 73.2h0M356.7 73.0h0M352.2 73.8h0M348.8 84.9h0M342.1 80.1h0M345.1 83.5h0M361.1 82.8h0M354.5 77.7h0M334.6 77.4h0M327.0 87.3h0M326.1 88.8h0M355.8 76.0h0M322.0 79.7h0M350.3 77.3h0M349.7 76.0h0M340.2 80.3h0M353.6 81.3h0M351.9 79.5h0M346.2 85.5h0M344.4 80.8h0M358.7 73.8h0M350.8 75.7h0M349.4 76.1h0M338.0 74.7h0M343.9 88.9h0M354.3 77.3h0M349.2 82.5h0M342.4 92.8h0M331.5 80.9h0M347.9 74.9h0M340.7 80.6h0M345.5 79.1h0M351.0 87.2h0M354.6 88.8h0M364.9 93.2h0M355.5 76.2h0M354.5 77.5h0M328.0 75.3h0M358.1 78.3h0M345.0 80.6h0M355.8 68.9h0M349.1 81.6h0M344.9 76.9h0M346.6 68.2h0M348.8 79.1h0M360.1 75.2h0M355.8 80.0h0M351.7 86.9h0M351.4 76.6h0M332.9 85.7h0M336.1 82.3h0M340.8 90.1h0M358.0 80.0h0M340.0 76.0h0M356.4 80.1h0M352.9 78.9h0M334.2 78.1h0M345.1 77.9h0M351.4 73.7h0M354.3 75.6h0M349.1 86.2h0M353.9 80.4h0M344.1 77.1h0M361.3 77.8h0M358.4 75.8h0M342.0 79.1h0M351.5 78.1h0M348.5 83.8h0M351.8 86.5h0M355.0 75.3h0M339.8 78.6h0M348.4 77.7h0M356.1 77.8h0M354.9 78.3h0M342.8 80.7h0M340.1 80.0h0M353.4 75.3h0M356.7 84.4h0M347.2 74.5h0" stroke="#111" stroke-opacity="0.42" stroke-width="0.85" stroke-linecap="square" fill="none"/>
</g>
<rect x="325.5" y="64.8" width="43.90" height="30.30" fill="none" stroke="#333" stroke-width="0.7"/>
<path d="M335.5 64.8V95.1M325.5 81.0H369.4" stroke="#333" stroke-width="0.6"/>
<text transform="translate(322.7 93.6) rotate(-90)" font-size="4.1" fill="#555" text-anchor="middle">10<tspan font-size="2.9" dy="-1.2">0</tspan></text>
<path d="M324.3 93.6H325.5" stroke="#666" stroke-width="0.4"/>
<text transform="translate(322.7 86.6) rotate(-90)" font-size="4.1" fill="#555" text-anchor="middle">10<tspan font-size="2.9" dy="-1.2">1</tspan></text>
<path d="M324.3 86.6H325.5" stroke="#666" stroke-width="0.4"/>
<text transform="translate(322.7 79.5) rotate(-90)" font-size="4.1" fill="#555" text-anchor="middle">10<tspan font-size="2.9" dy="-1.2">2</tspan></text>
<path d="M324.3 79.5H325.5" stroke="#666" stroke-width="0.4"/>
<text transform="translate(322.7 72.5) rotate(-90)" font-size="4.1" fill="#555" text-anchor="middle">10<tspan font-size="2.9" dy="-1.2">3</tspan></text>
<path d="M324.3 72.5H325.5" stroke="#666" stroke-width="0.4"/>
<text transform="translate(322.7 65.4) rotate(-90)" font-size="4.1" fill="#555" text-anchor="middle">10<tspan font-size="2.9" dy="-1.2">4</tspan></text>
<path d="M324.3 65.4H325.5" stroke="#666" stroke-width="0.4"/>
<text x="326.7" y="99.6" font-size="3.6" fill="#333" text-anchor="middle">0</text>
<text x="368.1" y="99.6" font-size="3.6" fill="#333" text-anchor="middle">1000</text>
<clipPath id="c12"><rect x="386.8" y="64.8" width="44.00" height="30.30"/></clipPath>
<g clip-path="url(#c12)">
<ellipse cx="402.5" cy="76" rx="9.35" ry="4.40" transform="rotate(-3 402.5 76)" fill="#000" fill-opacity="1" filter="url(#bl)"/>
<ellipse cx="392" cy="83.5" rx="4.67" ry="1.60" transform="rotate(-60 392 83.5)" fill="#000" fill-opacity="0.95" filter="url(#bl)"/>
<ellipse cx="412" cy="87.8" rx="9.35" ry="2.08" transform="rotate(-10 412 87.8)" fill="#000" fill-opacity="0.22" filter="url(#bl)"/>
<path d="M412.1 88.6h0M398.0 79.3h0M406.4 87.5h0M399.7 78.6h0M409.8 72.2h0M410.8 87.9h0M396.1 75.0h0M403.9 87.8h0M407.5 73.9h0M420.6 85.7h0M403.3 75.7h0M396.6 78.3h0M392.2 84.0h0M401.3 77.1h0M397.9 77.7h0M415.2 85.7h0M402.9 76.8h0M392.7 78.0h0M415.6 89.4h0M406.9 81.2h0M399.9 81.1h0M403.7 81.7h0M398.6 78.3h0M415.7 87.3h0M411.0 87.7h0M395.0 68.3h0M397.0 81.2h0M408.3 76.7h0M409.2 69.3h0M406.6 71.0h0M396.2 78.5h0M399.6 76.6h0M416.8 87.0h0M389.0 78.0h0M421.0 89.7h0M393.5 78.9h0M419.2 85.2h0M394.4 76.3h0M401.8 70.3h0M389.6 76.5h0M421.8 81.9h0M402.4 70.7h0M390.3 86.2h0M397.5 78.1h0M404.4 82.7h0M402.4 75.9h0M401.9 72.5h0M408.4 89.2h0M392.5 82.1h0M391.4 85.1h0M425.1 84.6h0M406.8 73.6h0M415.4 88.1h0M402.1 77.8h0M416.8 87.3h0M417.5 84.4h0M411.7 89.5h0M416.3 74.6h0M413.8 85.0h0M394.5 76.3h0M403.8 80.3h0M402.3 90.5h0M400.0 78.0h0M391.4 84.0h0M400.2 78.3h0M408.7 75.8h0M393.3 85.2h0M393.0 82.2h0M410.6 72.5h0M399.2 72.0h0M403.6 73.6h0M410.9 70.8h0M396.9 76.0h0M410.6 85.9h0M392.1 73.3h0M397.9 75.9h0M409.8 72.4h0M413.2 86.4h0M409.4 83.1h0M406.5 70.9h0M400.6 81.0h0M411.9 78.2h0M406.5 78.8h0M413.9 89.2h0M398.5 75.3h0M395.8 74.9h0M398.7 80.4h0M416.7 75.7h0M417.9 85.0h0M403.2 83.3h0M413.9 86.7h0M399.5 73.6h0M403.3 76.7h0M399.8 75.8h0M401.1 75.7h0M401.8 78.2h0M399.6 75.0h0M405.8 76.6h0M404.5 76.9h0M403.1 73.5h0M397.3 73.2h0M411.9 75.3h0M392.5 86.7h0M398.9 79.9h0M394.3 75.0h0M410.2 87.9h0M401.8 79.4h0M390.3 87.0h0M408.6 76.0h0M392.6 85.0h0M397.2 73.3h0M390.3 75.7h0M402.2 80.5h0M403.7 80.5h0M398.0 83.7h0M403.7 74.5h0M392.0 78.8h0M393.5 76.9h0M395.3 81.3h0M409.7 88.2h0M407.2 72.7h0M397.3 76.7h0M413.8 89.1h0M391.0 83.6h0M405.6 77.0h0M418.1 88.5h0M407.0 91.7h0M410.2 90.2h0M422.6 82.9h0M395.1 76.1h0M400.4 71.6h0M400.7 80.3h0M402.4 77.4h0M410.4 68.8h0M404.0 76.3h0M404.6 77.4h0M419.0 86.6h0M410.6 89.9h0M403.8 90.6h0M405.9 77.6h0M404.0 79.3h0M402.5 71.9h0M403.5 78.4h0M404.2 79.6h0M406.4 81.1h0M402.1 73.1h0M395.5 75.6h0M411.3 71.6h0M412.6 87.0h0M416.8 86.2h0M410.9 88.7h0M405.4 79.3h0M410.9 85.5h0M406.3 89.7h0M413.3 90.1h0M408.2 76.9h0M413.4 89.4h0M402.3 75.8h0M409.3 74.9h0M422.6 82.5h0M399.8 78.7h0M399.1 70.4h0M405.8 88.1h0M416.8 84.7h0M416.0 88.2h0M392.1 84.4h0M401.4 70.6h0M404.0 79.2h0M415.6 86.4h0M410.9 87.6h0M396.1 76.5h0M415.7 85.5h0M410.0 71.6h0M415.1 89.4h0M409.9 88.9h0M393.2 74.2h0M408.6 75.7h0M401.1 74.1h0M406.9 86.9h0M396.0 77.9h0M414.9 88.0h0M401.2 74.2h0M414.8 85.5h0M399.4 77.4h0M401.0 74.5h0M393.9 84.8h0M414.0 87.6h0M408.9 91.3h0M414.5 88.2h0M408.1 87.1h0" stroke="#111" stroke-opacity="0.6" stroke-width="0.8" stroke-linecap="square" fill="none"/>
<path d="M410.6 75.1h0M409.4 74.5h0M420.5 84.9h0M400.2 78.4h0M394.5 82.5h0M391.5 75.7h0M415.3 84.7h0M398.2 75.3h0M405.6 73.2h0M413.0 88.4h0M407.0 74.0h0M410.3 71.9h0M391.7 82.0h0M416.1 89.9h0M398.8 77.9h0M397.6 81.6h0M403.0 83.6h0M401.1 78.2h0M408.5 74.7h0M420.0 85.8h0M409.5 88.2h0M399.5 79.9h0M391.4 83.5h0M397.8 73.3h0M411.3 77.1h0M397.9 75.0h0M413.3 74.6h0M400.3 75.7h0M409.1 77.1h0M396.0 76.7h0M400.8 78.9h0M412.7 87.8h0M407.2 87.2h0M410.0 85.0h0M411.2 88.0h0M409.1 70.5h0M405.8 88.6h0M403.3 79.1h0M410.1 81.3h0M400.7 74.9h0M391.8 83.9h0M390.3 85.6h0M404.2 75.5h0M408.1 89.2h0M411.8 89.8h0M390.5 82.2h0M414.1 91.0h0M394.7 81.7h0M400.0 79.1h0M410.7 77.0h0M403.6 76.4h0M403.5 75.8h0M419.2 85.5h0M397.9 79.8h0M390.9 83.8h0M410.0 75.3h0M397.6 72.3h0M400.6 72.6h0M407.6 74.7h0M391.9 81.4h0M397.1 73.6h0M408.7 79.2h0M405.1 72.2h0M398.9 69.0h0M403.5 72.1h0M413.0 88.7h0M407.6 70.8h0M412.4 88.8h0M390.5 88.9h0M407.8 89.7h0M404.4 71.0h0M398.1 78.6h0M396.8 72.5h0M407.1 77.7h0M400.3 73.3h0M400.4 79.2h0M401.6 74.7h0M385.3 78.7h0M399.1 77.9h0M421.0 84.2h0M403.8 87.5h0M392.4 73.1h0M405.3 78.8h0M403.4 80.3h0M408.7 77.1h0M405.2 77.4h0M413.2 89.2h0M412.4 86.5h0M392.9 79.8h0M409.7 89.4h0M407.6 75.5h0M402.8 69.3h0M400.8 70.3h0M402.2 68.9h0M416.6 86.7h0M400.5 79.4h0M402.1 73.3h0M399.2 70.2h0M394.1 85.6h0M408.5 87.3h0M397.8 75.2h0M405.5 73.5h0M392.5 83.7h0M402.2 74.0h0M413.4 87.8h0M417.4 86.9h0M403.0 91.9h0M413.9 85.1h0M389.6 86.3h0M417.2 87.0h0M408.1 75.4h0M414.1 83.9h0M420.8 86.1h0M411.5 88.5h0M411.4 88.9h0M400.3 76.6h0M412.1 71.6h0M406.7 90.4h0M405.0 76.3h0M405.3 75.1h0M404.5 70.5h0M408.1 86.8h0M395.2 77.4h0M401.3 74.5h0M408.0 78.5h0M401.0 78.2h0M398.5 76.6h0M407.4 74.8h0M423.5 85.2h0M421.1 87.5h0M390.5 76.4h0M400.0 75.9h0M403.0 72.9h0M405.4 80.4h0M411.6 87.1h0M409.3 80.2h0M396.5 77.4h0M403.0 75.4h0M413.2 88.5h0M405.7 76.4h0M396.0 75.9h0M403.1 80.9h0M407.4 89.5h0M408.8 90.4h0M406.7 89.4h0M396.3 76.1h0M406.3 91.4h0M395.3 72.1h0M397.4 77.4h0M399.1 74.1h0M398.8 71.1h0M389.3 81.1h0M406.5 88.0h0M405.5 76.6h0M420.7 89.8h0M417.9 87.4h0M406.1 75.5h0M398.9 74.2h0M398.2 71.6h0M407.5 77.4h0M407.9 86.6h0M411.6 88.7h0M408.4 88.9h0M401.6 77.6h0M402.7 88.7h0M404.6 71.0h0M411.7 86.9h0M406.8 86.9h0M406.9 72.5h0M412.8 78.9h0M408.6 75.8h0M391.8 82.8h0M395.7 77.5h0M397.3 83.0h0M417.9 83.7h0M399.5 74.5h0M405.6 74.1h0M405.0 69.5h0M385.5 91.5h0M412.8 80.0h0M401.1 77.8h0M411.5 87.5h0M413.5 76.2h0M414.0 75.4h0M404.2 73.6h0M392.0 82.6h0M396.5 73.6h0M391.1 81.7h0M412.8 87.2h0M407.7 90.2h0" stroke="#111" stroke-opacity="0.6" stroke-width="0.8" stroke-linecap="square" fill="none"/>
<path d="M398.2 73.2h0M392.8 81.4h0M403.7 83.4h0M404.6 79.9h0M421.7 85.7h0M409.1 80.4h0M396.9 75.8h0M407.4 74.9h0M403.7 87.9h0M401.3 79.9h0M408.5 73.8h0M406.8 80.3h0M394.4 77.4h0M392.7 78.6h0M405.2 75.9h0M402.3 82.3h0M414.8 86.6h0M400.5 74.8h0M415.2 87.1h0M401.0 76.6h0M404.4 86.8h0M402.3 74.2h0M404.1 75.3h0M413.6 87.4h0M406.0 74.2h0M398.9 74.5h0M400.1 78.7h0M413.9 88.0h0M397.4 76.7h0M415.8 88.6h0M399.8 77.5h0M397.9 73.2h0M398.8 80.8h0M417.2 85.1h0M414.7 87.1h0M401.2 73.5h0M393.4 79.4h0M397.3 74.5h0M412.2 85.5h0M390.6 84.3h0M407.5 75.6h0M407.7 74.6h0M392.1 85.0h0M406.8 74.3h0M410.7 77.3h0M420.0 89.5h0M400.7 75.0h0M412.2 84.3h0M392.2 85.3h0M402.0 78.4h0M400.6 75.9h0M402.8 72.9h0M399.4 77.5h0M403.9 77.8h0M405.2 79.4h0M401.9 77.6h0M408.3 89.7h0M406.8 81.4h0M395.4 78.8h0M410.0 71.5h0M409.4 70.0h0M400.2 79.7h0M407.5 74.7h0M392.3 81.7h0M402.3 93.6h0M413.3 76.7h0M397.0 77.2h0M391.5 81.9h0M415.2 88.8h0M390.0 83.3h0M405.4 71.7h0M395.1 71.9h0M418.9 86.4h0M404.3 89.3h0M413.1 86.0h0M402.6 74.0h0M400.3 77.6h0M404.2 87.2h0M392.1 83.9h0M393.9 79.5h0M393.2 81.7h0M395.0 78.5h0M390.8 82.9h0M403.8 71.1h0M399.7 76.2h0M392.0 84.1h0M412.2 88.1h0M399.3 74.6h0M389.3 86.9h0M397.1 73.2h0M406.4 70.7h0M415.8 87.2h0M413.4 88.6h0M409.0 78.9h0M406.0 90.0h0M402.1 76.2h0M423.0 82.7h0M408.8 89.4h0M398.7 71.9h0M400.0 76.8h0M402.6 78.2h0M406.8 88.6h0M396.2 76.1h0M404.2 81.0h0M405.0 92.3h0M425.1 84.0h0M393.1 82.7h0M402.1 79.7h0M408.0 88.2h0M403.8 75.5h0M388.8 84.7h0M405.4 72.0h0M397.2 78.2h0M395.1 78.5h0M406.7 72.1h0M404.2 91.3h0M410.4 88.6h0M411.6 84.3h0M413.9 84.6h0M389.9 82.9h0M391.0 87.1h0M411.1 90.2h0M414.9 90.8h0M421.0 86.3h0M410.8 88.8h0M409.4 88.7h0M393.7 80.3h0M402.0 71.4h0M411.0 89.6h0M418.4 87.1h0M409.0 89.5h0M404.4 85.2h0M401.8 80.8h0M393.2 81.2h0M409.1 88.3h0M401.5 75.7h0M391.9 85.6h0M402.4 75.8h0M396.3 70.2h0M398.0 71.2h0M406.3 88.2h0M415.7 77.1h0M410.1 88.0h0M406.1 66.9h0M398.6 76.7h0M403.8 75.2h0M403.6 71.4h0M395.6 78.5h0M412.6 72.2h0M398.3 77.4h0M412.4 90.7h0M393.2 79.9h0M400.5 83.9h0M391.1 86.0h0M404.3 79.1h0M391.4 82.2h0M396.3 74.3h0M404.5 76.0h0M411.2 87.2h0M407.7 75.2h0M404.5 73.1h0M407.9 68.6h0M403.0 79.1h0M419.5 87.5h0M403.9 88.5h0M392.2 84.1h0M402.6 73.7h0M395.7 71.0h0M402.0 70.2h0M405.2 89.4h0M411.0 89.6h0M395.6 77.5h0M393.8 80.0h0M391.7 88.5h0M412.7 85.7h0M411.5 86.7h0M393.5 81.7h0M405.7 89.1h0M403.8 80.7h0M403.2 75.8h0M396.9 83.7h0M410.8 77.7h0M392.0 81.8h0M411.7 86.9h0M401.2 70.8h0M405.2 80.0h0M399.6 75.3h0M406.9 70.4h0M390.8 86.2h0M403.9 71.7h0" stroke="#111" stroke-opacity="0.6" stroke-width="0.8" stroke-linecap="square" fill="none"/>
<path d="M429.6 81.7h0M416.7 74.3h0M414.5 91.3h0M412.9 80.5h0M388.1 76.1h0M407.2 79.9h0M413.1 74.2h0M414.4 73.3h0M414.3 77.8h0M405.5 81.2h0M414.2 78.1h0M423.4 76.9h0M402.4 80.1h0M412.5 73.3h0M392.8 79.7h0M410.9 78.5h0M415.7 87.1h0M418.5 75.6h0M425.0 92.5h0M417.1 79.3h0M386.3 87.9h0M396.3 85.7h0M399.5 93.2h0M414.4 78.4h0M408.0 93.6h0M414.1 75.0h0M411.4 77.3h0M413.7 74.4h0M414.9 70.6h0M414.2 74.0h0M415.3 75.9h0M412.2 75.3h0M416.2 79.4h0M401.4 81.1h0M393.5 82.8h0M418.0 72.8h0M406.9 86.6h0M402.9 83.7h0M393.5 77.3h0M399.4 80.4h0M385.6 82.6h0M380.7 79.5h0M410.4 79.1h0M411.2 79.6h0M402.3 77.7h0M412.5 72.7h0M395.8 90.1h0M414.8 74.3h0M412.3 75.3h0M401.4 88.1h0M388.8 81.6h0M397.4 75.9h0M414.3 77.1h0M414.8 78.5h0M414.3 75.9h0M406.9 83.1h0M413.4 76.0h0M420.1 83.5h0M413.9 83.1h0M413.7 76.6h0M408.0 76.8h0M414.6 75.1h0M413.9 72.1h0M409.6 77.9h0M403.7 68.2h0M405.0 71.9h0M424.8 72.9h0M406.0 73.0h0M399.0 77.2h0M403.0 71.7h0M423.2 76.7h0M415.3 75.9h0M416.8 78.7h0M415.0 77.9h0" stroke="#111" stroke-opacity="0.42" stroke-width="0.85" stroke-linecap="square" fill="none"/>
<path d="M416.2 80.5h0M397.5 87.9h0M390.4 75.7h0M414.5 73.3h0M398.5 71.5h0M430.5 71.8h0M373.3 77.5h0M405.7 75.2h0M406.9 81.5h0M398.8 87.6h0M418.8 85.0h0M415.9 77.6h0M409.0 76.4h0M408.3 86.3h0M410.7 76.3h0M408.4 75.5h0M410.6 76.2h0M410.5 83.4h0M416.2 77.9h0M389.0 82.4h0M414.1 78.2h0M394.7 87.2h0M416.8 76.4h0M415.6 76.2h0M408.5 77.9h0M411.5 72.7h0M406.2 86.1h0M416.3 75.1h0M415.4 80.8h0M419.6 73.8h0M398.4 76.8h0M417.7 89.9h0M409.1 90.9h0M414.9 74.7h0M417.2 74.5h0M402.4 86.6h0M415.7 73.2h0M419.0 81.3h0M409.8 85.2h0M421.3 84.7h0M402.8 83.6h0M420.3 74.6h0M416.7 77.2h0M423.2 75.6h0M411.8 74.9h0M413.7 75.6h0M399.9 91.5h0M393.7 94.0h0M410.4 75.3h0M402.1 67.8h0M402.6 75.4h0M415.9 77.2h0M415.3 77.6h0M414.5 73.8h0M404.9 75.1h0M412.7 75.9h0M415.2 77.4h0M396.4 80.1h0M412.9 80.3h0M408.5 75.9h0M414.1 70.6h0M415.0 76.5h0M394.5 74.3h0M409.0 75.9h0M415.2 77.6h0M396.2 80.4h0M411.1 77.6h0M394.6 81.1h0M413.9 83.1h0M404.0 80.0h0M414.1 74.2h0M412.6 74.2h0M411.1 86.1h0" stroke="#111" stroke-opacity="0.42" stroke-width="0.85" stroke-linecap="square" fill="none"/>
</g>
<rect x="386.8" y="64.8" width="44.00" height="30.30" fill="none" stroke="#333" stroke-width="0.7"/>
<path d="M396.6 64.8V95.1M386.8 82.2H430.8" stroke="#333" stroke-width="0.6"/>
<text transform="translate(384.0 93.6) rotate(-90)" font-size="4.1" fill="#555" text-anchor="middle">10<tspan font-size="2.9" dy="-1.2">0</tspan></text>
<path d="M385.6 93.6H386.8" stroke="#666" stroke-width="0.4"/>
<text transform="translate(384.0 86.6) rotate(-90)" font-size="4.1" fill="#555" text-anchor="middle">10<tspan font-size="2.9" dy="-1.2">1</tspan></text>
<path d="M385.6 86.6H386.8" stroke="#666" stroke-width="0.4"/>
<text transform="translate(384.0 79.5) rotate(-90)" font-size="4.1" fill="#555" text-anchor="middle">10<tspan font-size="2.9" dy="-1.2">2</tspan></text>
<path d="M385.6 79.5H386.8" stroke="#666" stroke-width="0.4"/>
<text transform="translate(384.0 72.5) rotate(-90)" font-size="4.1" fill="#555" text-anchor="middle">10<tspan font-size="2.9" dy="-1.2">3</tspan></text>
<path d="M385.6 72.5H386.8" stroke="#666" stroke-width="0.4"/>
<text transform="translate(384.0 65.4) rotate(-90)" font-size="4.1" fill="#555" text-anchor="middle">10<tspan font-size="2.9" dy="-1.2">4</tspan></text>
<path d="M385.6 65.4H386.8" stroke="#666" stroke-width="0.4"/>
<text x="388.0" y="99.6" font-size="3.6" fill="#333" text-anchor="middle">0</text>
<text x="429.5" y="99.6" font-size="3.6" fill="#333" text-anchor="middle">1000</text>
<clipPath id="c13"><rect x="451.6" y="64.8" width="43.40" height="30.30"/></clipPath>
<g clip-path="url(#c13)">
<ellipse cx="466.5" cy="75.2" rx="8.92" ry="3.68" transform="rotate(-3 466.5 75.2)" fill="#000" fill-opacity="1" filter="url(#bl)"/>
<ellipse cx="455.5" cy="85.2" rx="2.38" ry="1.76" transform="rotate(-40 455.5 85.2)" fill="#000" fill-opacity="1" filter="url(#bl)"/>
<ellipse cx="460.5" cy="81.6" rx="4.25" ry="0.88" transform="rotate(-25 460.5 81.6)" fill="#000" fill-opacity="0.8" filter="url(#bl)"/>
<path d="M465.7 77.3h0M457.9 81.8h0M474.6 73.6h0M460.8 78.5h0M458.5 82.7h0M466.0 78.4h0M458.3 81.8h0M456.6 86.2h0M463.3 77.9h0M469.6 76.3h0M466.2 75.6h0M464.7 72.0h0M468.2 70.8h0M453.8 82.8h0M460.4 78.3h0M469.5 75.9h0M468.2 74.5h0M463.3 74.6h0M466.0 74.4h0M470.5 73.5h0M456.3 84.1h0M467.2 77.7h0M467.9 71.7h0M455.4 86.1h0M477.0 71.2h0M465.6 78.0h0M467.8 76.9h0M470.4 71.6h0M458.9 71.4h0M465.5 76.9h0M459.8 71.3h0M466.0 78.2h0M466.4 75.5h0M468.7 73.1h0M466.3 74.7h0M473.1 75.8h0M475.3 72.5h0M467.0 79.0h0M464.0 78.2h0M473.6 68.9h0M452.5 84.4h0M465.5 75.6h0M455.4 86.1h0M468.6 74.8h0M471.5 79.9h0M464.4 78.0h0M466.8 73.8h0M458.0 77.4h0M465.0 75.1h0M464.3 79.6h0M461.1 81.3h0M474.9 75.7h0M471.4 81.6h0M473.2 73.5h0M455.4 83.3h0M471.0 77.4h0M466.0 80.2h0M467.5 77.0h0M464.0 76.0h0M464.6 81.0h0M465.8 77.8h0M461.8 70.7h0M461.6 77.5h0M470.3 71.0h0M470.2 73.0h0M468.7 76.5h0M462.0 76.5h0M467.9 73.5h0M468.5 78.2h0M461.8 76.0h0M470.4 73.7h0M468.3 79.4h0M469.1 77.3h0M466.9 77.9h0M468.4 75.6h0M470.2 80.0h0M472.8 76.4h0M464.8 77.2h0M459.9 72.7h0M459.0 73.8h0M453.6 84.1h0M467.7 81.5h0M463.3 79.2h0M467.4 76.4h0M462.5 81.4h0M460.4 76.5h0M467.9 72.7h0M454.9 84.6h0M471.3 80.2h0M461.3 74.7h0M464.6 73.5h0M462.6 74.4h0M456.6 82.1h0M460.3 74.9h0M463.9 80.6h0M469.3 77.6h0M472.8 73.0h0M468.5 71.1h0M471.2 75.8h0M473.8 74.8h0M464.7 79.6h0M461.5 74.8h0M455.7 77.5h0M460.2 74.4h0M467.2 79.2h0M470.5 78.8h0M465.7 76.4h0M466.4 80.4h0M469.8 70.8h0M452.3 85.0h0M454.8 78.7h0M465.1 70.8h0M454.0 85.8h0M461.0 72.6h0M462.4 75.1h0M473.3 77.6h0M470.7 73.7h0M455.3 87.4h0M467.4 72.8h0M471.2 78.7h0M465.9 78.6h0M468.0 75.5h0M459.7 83.2h0M469.2 68.7h0M470.4 77.7h0M457.1 75.2h0M463.2 81.0h0" stroke="#111" stroke-opacity="0.6" stroke-width="0.8" stroke-linecap="square" fill="none"/>
<path d="M458.9 85.7h0M461.4 81.6h0M478.4 75.0h0M464.1 77.3h0M457.8 77.3h0M463.8 80.0h0M455.9 83.5h0M458.6 82.4h0M474.0 71.5h0M458.8 80.5h0M457.7 82.4h0M471.5 71.8h0M459.7 80.5h0M464.3 75.9h0M463.9 80.1h0M463.8 73.4h0M467.1 74.1h0M457.5 83.0h0M470.5 72.4h0M470.4 71.0h0M468.9 77.5h0M461.1 81.9h0M474.2 73.0h0M458.6 75.8h0M466.8 70.4h0M468.8 72.6h0M465.2 79.3h0M459.4 68.5h0M462.1 77.9h0M462.2 73.3h0M454.3 85.6h0M462.6 80.9h0M456.9 83.1h0M464.6 74.3h0M464.2 77.2h0M455.7 85.5h0M458.6 75.8h0M465.4 75.9h0M468.4 73.8h0M468.9 69.6h0M464.7 76.5h0M454.3 86.8h0M467.0 71.7h0M465.8 77.8h0M464.8 73.4h0M459.5 74.4h0M470.1 76.5h0M472.1 77.2h0M461.1 76.1h0M465.2 79.0h0M461.1 75.5h0M468.0 75.3h0M454.7 82.9h0M470.1 75.2h0M453.4 77.5h0M468.1 78.3h0M470.2 78.2h0M468.2 68.0h0M465.8 78.5h0M468.7 73.1h0M464.6 78.4h0M463.2 76.8h0M472.9 76.3h0M478.4 69.6h0M462.7 80.2h0M455.6 72.1h0M461.8 74.0h0M472.0 71.8h0M476.4 72.6h0M472.5 71.6h0M464.4 79.2h0M467.1 73.3h0M465.3 70.2h0M456.7 78.1h0M456.0 83.8h0M466.6 79.2h0M463.2 74.1h0M464.7 71.7h0M473.0 71.3h0M467.8 76.8h0M466.7 72.9h0M464.7 76.4h0M468.2 73.3h0M466.7 73.7h0M467.3 77.4h0M478.3 73.0h0M461.0 76.3h0M462.8 79.6h0M467.6 81.8h0M463.1 79.7h0M460.9 82.0h0M465.7 74.3h0M462.0 76.2h0M466.9 72.8h0M459.1 79.8h0M464.9 75.6h0M459.5 82.3h0M469.8 74.8h0M470.0 74.7h0M469.3 76.4h0M459.7 79.1h0M473.7 77.1h0M468.3 79.8h0M457.1 82.8h0M464.7 73.9h0M467.2 74.0h0M465.4 78.1h0M466.3 74.5h0M458.9 80.1h0M464.8 80.7h0M454.0 85.5h0M469.5 74.8h0M458.2 76.0h0M463.2 78.9h0M470.3 75.8h0M470.5 73.8h0M461.3 83.1h0M468.2 79.0h0M462.8 78.4h0M467.0 77.4h0M459.3 78.1h0M465.6 81.6h0M458.7 81.9h0M470.5 74.5h0M465.5 74.5h0M468.0 72.0h0M466.4 74.2h0" stroke="#111" stroke-opacity="0.6" stroke-width="0.8" stroke-linecap="square" fill="none"/>
<path d="M468.8 76.0h0M463.6 79.0h0M452.8 83.1h0M474.7 73.3h0M472.0 76.5h0M471.5 72.9h0M459.8 80.9h0M460.7 82.5h0M463.1 76.1h0M469.9 75.9h0M457.0 77.7h0M472.3 79.7h0M465.4 73.4h0M464.2 80.1h0M458.6 78.4h0M473.7 75.3h0M459.5 82.0h0M463.8 72.3h0M458.6 81.7h0M466.1 74.9h0M476.7 75.4h0M470.5 76.0h0M459.7 81.7h0M462.6 77.7h0M466.6 76.1h0M449.1 74.6h0M469.0 79.9h0M471.4 74.4h0M454.8 76.5h0M467.3 72.8h0M467.0 72.0h0M459.7 73.8h0M453.6 85.6h0M454.0 74.6h0M466.8 74.8h0M466.7 71.4h0M460.9 82.7h0M473.6 75.7h0M456.9 85.4h0M470.1 78.9h0M464.9 79.6h0M475.8 82.1h0M462.9 80.7h0M455.9 87.5h0M465.4 76.6h0M454.1 76.7h0M456.6 83.4h0M469.1 77.3h0M458.0 81.9h0M469.1 74.2h0M466.4 74.8h0M470.6 72.8h0M455.6 84.8h0M462.3 72.1h0M458.2 74.8h0M463.7 73.5h0M470.6 80.2h0M466.8 72.9h0M458.9 82.3h0M479.1 75.0h0M468.3 73.1h0M467.9 78.9h0M458.2 83.2h0M470.6 71.7h0M479.0 76.5h0M469.0 76.9h0M452.7 83.8h0M455.0 86.0h0M459.7 74.6h0M470.7 79.9h0M472.0 74.7h0M454.9 77.6h0M466.8 76.3h0M465.4 79.6h0M456.7 78.5h0M465.4 79.7h0M465.0 75.1h0M454.8 85.6h0M464.5 73.6h0M456.5 84.0h0M462.0 81.7h0M461.7 71.6h0M465.6 70.5h0M471.7 72.9h0M464.5 75.8h0M470.7 78.3h0M466.0 79.5h0M470.9 74.5h0M465.4 72.9h0M467.2 78.2h0M468.6 74.5h0M465.1 74.7h0M461.0 77.7h0M462.9 70.5h0M474.9 75.4h0M456.4 89.6h0M465.7 79.4h0M456.7 85.1h0M462.8 76.7h0M469.3 71.9h0M461.2 77.2h0M455.8 84.9h0M463.4 76.2h0M467.6 75.3h0M461.7 81.0h0M459.3 74.3h0M469.7 66.9h0M455.8 73.4h0M468.0 68.1h0M462.3 76.8h0M456.8 86.6h0M465.4 74.6h0M462.3 77.8h0M463.3 77.6h0M463.8 80.8h0M459.6 72.9h0M456.0 84.7h0M463.9 77.0h0M467.7 78.1h0M468.6 78.7h0M460.3 78.2h0M455.4 85.8h0M464.6 79.2h0M455.0 83.7h0M453.4 87.1h0M467.8 73.3h0" stroke="#111" stroke-opacity="0.6" stroke-width="0.8" stroke-linecap="square" fill="none"/>
<path d="M478.5 87.5h0M474.9 85.6h0M479.3 87.4h0M477.6 74.8h0M477.8 80.4h0M487.6 81.2h0M478.5 86.2h0M480.5 87.2h0M476.6 86.4h0M464.5 76.9h0M470.1 66.9h0M474.1 84.9h0M455.2 84.2h0M479.4 74.2h0M469.4 84.4h0M474.5 86.2h0M479.4 86.8h0M482.7 86.7h0M479.3 86.1h0M466.3 70.9h0M459.1 78.3h0M457.8 70.7h0M483.4 85.6h0M463.2 81.3h0M457.0 73.9h0M478.2 85.8h0M475.2 86.9h0M475.5 87.1h0M469.7 72.1h0M479.0 85.9h0M460.3 83.0h0M479.9 86.2h0M473.4 77.5h0M458.4 81.0h0M468.6 73.3h0M477.1 89.2h0M476.9 86.5h0M457.8 85.2h0M463.4 78.0h0M478.7 86.2h0M475.8 80.8h0M478.0 78.1h0" stroke="#111" stroke-opacity="0.42" stroke-width="0.85" stroke-linecap="square" fill="none"/>
<path d="M465.0 74.1h0M466.6 79.7h0M463.5 78.0h0M479.6 87.2h0M463.4 77.5h0M458.4 76.5h0M485.7 91.6h0M452.5 67.9h0M477.0 85.5h0M466.1 74.0h0M464.7 81.4h0M466.8 83.1h0M475.4 86.6h0M461.5 80.4h0M459.8 76.8h0M463.8 81.3h0M477.9 78.1h0M460.0 88.8h0M466.9 86.1h0M477.4 85.0h0M489.2 82.6h0M477.7 86.4h0M462.7 78.0h0M476.4 85.4h0M477.9 87.4h0M451.7 78.4h0M456.4 80.7h0M480.1 80.6h0M482.1 78.1h0M481.7 86.6h0M467.4 75.4h0M452.4 76.1h0M476.2 77.6h0M477.8 91.5h0M481.9 76.8h0M465.4 76.5h0M465.7 78.6h0M478.3 76.6h0M473.4 86.1h0M474.2 77.7h0M479.6 78.3h0M478.2 86.2h0" stroke="#111" stroke-opacity="0.42" stroke-width="0.85" stroke-linecap="square" fill="none"/>
</g>
<rect x="451.6" y="64.8" width="43.40" height="30.30" fill="none" stroke="#333" stroke-width="0.7"/>
<path d="M461.5 64.8V95.1M451.6 82.0H495.0" stroke="#333" stroke-width="0.6"/>
<text transform="translate(448.8 93.6) rotate(-90)" font-size="4.1" fill="#555" text-anchor="middle">10<tspan font-size="2.9" dy="-1.2">0</tspan></text>
<path d="M450.4 93.6H451.6" stroke="#666" stroke-width="0.4"/>
<text transform="translate(448.8 86.6) rotate(-90)" font-size="4.1" fill="#555" text-anchor="middle">10<tspan font-size="2.9" dy="-1.2">1</tspan></text>
<path d="M450.4 86.6H451.6" stroke="#666" stroke-width="0.4"/>
<text transform="translate(448.8 79.5) rotate(-90)" font-size="4.1" fill="#555" text-anchor="middle">10<tspan font-size="2.9" dy="-1.2">2</tspan></text>
<path d="M450.4 79.5H451.6" stroke="#666" stroke-width="0.4"/>
<text transform="translate(448.8 72.5) rotate(-90)" font-size="4.1" fill="#555" text-anchor="middle">10<tspan font-size="2.9" dy="-1.2">3</tspan></text>
<path d="M450.4 72.5H451.6" stroke="#666" stroke-width="0.4"/>
<text transform="translate(448.8 65.4) rotate(-90)" font-size="4.1" fill="#555" text-anchor="middle">10<tspan font-size="2.9" dy="-1.2">4</tspan></text>
<path d="M450.4 65.4H451.6" stroke="#666" stroke-width="0.4"/>
<text x="452.8" y="99.6" font-size="3.6" fill="#333" text-anchor="middle">0</text>
<text x="493.7" y="99.6" font-size="3.6" fill="#333" text-anchor="middle">1000</text>
<clipPath id="c20"><rect x="264.9" y="106.7" width="43.90" height="30.50"/></clipPath>
<g clip-path="url(#c20)">
<ellipse cx="284" cy="116.6" rx="8.07" ry="3.04" transform="rotate(-5 284 116.6)" fill="#000" fill-opacity="0.85" filter="url(#bl)"/>
<ellipse cx="284" cy="120.5" rx="6.80" ry="1.44" transform="rotate(0 284 120.5)" fill="#000" fill-opacity="0.3" filter="url(#bl)"/>
<ellipse cx="289" cy="129.8" rx="9.78" ry="3.20" transform="rotate(-8 289 129.8)" fill="#000" fill-opacity="1" filter="url(#bl)"/>
<ellipse cx="302" cy="126" rx="5.52" ry="1.60" transform="rotate(-14 302 126)" fill="#000" fill-opacity="0.4" filter="url(#bl)"/>
<ellipse cx="269.8" cy="125.6" rx="1.10" ry="0.64" transform="rotate(0 269.8 125.6)" fill="#000" fill-opacity="0.9" filter="url(#bl)"/>
<path d="M299.7 124.6h0M284.1 130.7h0M274.4 118.6h0M296.6 130.2h0M277.1 114.3h0M299.0 129.2h0M285.0 117.5h0M284.2 114.8h0M284.9 117.8h0M287.7 114.3h0M287.3 112.9h0M286.9 129.3h0M292.0 129.9h0M283.9 126.9h0M284.3 117.6h0M288.9 128.8h0M295.2 133.1h0M298.1 124.9h0M287.0 117.2h0M286.4 119.8h0M285.6 117.1h0M293.4 130.4h0M288.1 112.6h0M303.8 125.2h0M291.0 128.5h0M283.9 130.4h0M278.5 115.7h0M292.5 130.6h0M285.6 131.3h0M286.5 115.5h0M304.2 125.5h0M293.7 128.6h0M289.8 127.9h0M295.0 127.6h0M289.6 115.9h0M286.9 117.7h0M294.8 129.0h0M280.6 119.9h0M277.1 115.4h0M283.8 115.2h0M302.8 129.5h0M282.0 119.6h0M289.1 131.0h0M293.6 126.9h0M288.5 116.6h0M286.3 119.4h0M297.7 126.4h0M279.5 133.8h0M291.0 116.5h0M286.4 119.6h0M288.9 117.1h0M281.2 117.2h0M294.4 129.3h0M282.5 118.3h0M280.4 118.4h0M288.3 119.5h0M278.8 130.0h0M286.1 131.0h0M295.1 129.5h0M296.0 129.3h0M301.5 126.9h0M276.9 120.7h0M286.5 119.2h0M283.1 113.1h0M303.9 123.2h0M280.9 129.6h0M278.0 120.1h0M282.7 115.9h0M273.7 118.7h0M294.4 128.1h0M280.2 131.6h0M293.8 130.2h0M284.3 116.4h0M274.1 123.8h0M288.8 130.6h0M288.2 119.0h0M293.3 109.7h0M294.5 124.7h0M278.1 131.3h0M288.0 130.3h0M282.8 127.9h0M285.7 127.7h0M298.8 127.2h0M302.7 132.7h0M289.5 128.8h0M286.0 120.9h0M288.4 133.3h0M280.2 133.3h0M287.7 118.1h0M287.7 127.9h0M285.3 114.0h0M294.4 129.6h0M286.2 130.2h0M280.0 131.1h0M304.3 130.1h0M285.8 117.6h0M293.3 129.2h0M281.6 114.4h0M298.3 129.0h0M279.3 113.5h0M290.5 115.6h0M282.6 119.7h0M286.6 113.2h0M296.7 123.4h0M282.5 118.5h0M292.9 132.1h0M281.1 118.9h0M306.3 125.3h0M294.6 128.7h0M294.6 131.8h0M288.1 135.6h0M284.2 114.4h0M289.8 116.6h0M303.4 127.1h0M290.5 131.8h0M290.7 113.8h0M289.2 118.4h0M280.0 117.3h0M283.7 120.2h0M294.8 129.8h0M279.7 120.9h0M281.0 118.1h0M297.9 129.2h0M283.1 118.0h0M301.8 124.0h0M291.2 118.0h0M294.9 134.1h0M280.7 119.9h0M286.8 116.5h0M281.0 117.5h0M279.0 117.8h0M296.6 129.7h0M283.8 116.8h0M274.7 133.9h0M294.9 120.6h0M283.0 116.1h0M285.0 112.9h0M284.0 117.6h0M286.7 127.0h0M287.1 117.1h0M300.9 127.8h0M282.9 114.2h0M280.6 125.7h0M290.1 131.6h0M285.6 115.5h0M286.3 130.8h0M283.7 120.8h0M286.3 130.7h0M291.0 129.4h0M299.3 129.0h0M301.0 126.9h0M303.0 125.7h0M290.5 128.6h0M285.9 132.5h0M287.6 128.9h0M269.6 125.5h0M295.0 130.1h0M289.2 126.8h0M281.8 120.2h0M300.2 125.9h0M291.0 116.8h0M277.6 117.7h0M284.2 115.6h0M291.3 112.2h0M289.3 114.8h0M303.5 127.5h0M305.4 125.7h0M287.9 119.5h0M282.4 119.4h0M284.1 131.3h0M300.3 126.2h0M286.3 129.7h0M306.0 126.1h0M284.5 132.4h0M287.8 130.3h0M285.2 112.7h0M289.2 129.9h0M283.5 128.4h0M282.0 115.9h0M292.3 117.7h0M298.1 124.9h0M281.5 114.8h0M278.1 117.3h0M283.2 129.7h0M298.4 129.4h0M292.2 129.4h0M283.4 119.5h0M279.2 122.9h0M295.8 129.1h0M282.5 120.2h0M277.2 111.6h0M289.9 130.8h0M287.5 119.8h0M303.8 126.2h0M275.0 134.4h0M277.4 116.1h0M285.6 116.4h0M282.0 136.5h0M273.4 118.3h0M283.7 118.1h0M286.8 131.3h0M285.8 115.5h0M294.7 128.1h0M298.5 115.5h0M284.6 116.9h0M279.1 116.9h0M293.6 130.2h0M289.9 131.9h0M306.6 127.1h0M285.5 121.6h0M281.8 113.8h0M291.9 133.1h0M281.5 116.8h0M289.4 127.0h0M296.4 128.6h0M285.4 117.9h0M291.9 129.5h0M289.9 129.3h0M268.8 125.6h0M279.4 114.8h0M290.3 131.1h0M282.7 121.0h0M300.3 124.3h0M285.9 130.1h0M286.8 132.0h0M282.2 119.7h0M282.7 117.7h0M282.0 120.5h0M279.3 130.9h0M278.9 115.9h0M299.8 126.3h0M277.6 122.4h0M295.4 130.9h0M295.9 127.4h0" stroke="#111" stroke-opacity="0.6" stroke-width="0.8" stroke-linecap="square" fill="none"/>
<path d="M276.5 130.3h0M295.2 130.5h0M287.5 131.9h0M293.9 127.7h0M289.3 128.4h0M302.5 125.9h0M282.4 117.8h0M302.9 124.8h0M280.9 121.6h0M280.6 115.2h0M284.3 115.7h0M282.5 121.5h0M291.6 130.2h0M275.3 121.2h0M286.4 115.9h0M285.2 133.8h0M289.3 132.8h0M296.5 130.5h0M291.1 117.6h0M273.3 117.6h0M293.3 136.2h0M301.0 127.3h0M284.1 128.5h0M300.7 124.9h0M282.4 114.8h0M307.5 125.6h0M305.0 126.2h0M278.9 112.7h0M287.1 118.9h0M284.7 116.6h0M290.7 131.0h0M286.8 136.6h0M299.7 126.6h0M296.3 125.7h0M284.3 127.2h0M296.0 127.4h0M287.3 114.7h0M280.4 121.3h0M281.8 117.1h0M287.4 129.8h0M280.0 111.9h0M276.8 128.5h0M277.3 133.7h0M287.2 122.4h0M291.7 116.7h0M287.3 114.1h0M286.5 132.3h0M282.3 126.9h0M287.6 115.7h0M299.9 125.9h0M284.8 129.0h0M288.7 131.2h0M285.9 129.6h0M295.2 132.8h0M288.1 131.4h0M282.2 119.6h0M285.3 124.0h0M303.0 126.8h0M297.3 126.1h0M282.9 112.9h0M284.9 117.3h0M278.9 133.5h0M301.2 125.5h0M287.4 129.4h0M292.8 129.6h0M285.4 130.6h0M288.9 128.2h0M295.3 129.0h0M283.1 119.3h0M282.5 117.4h0M275.7 117.7h0M286.4 131.0h0M284.9 120.5h0M276.1 132.9h0M286.7 132.6h0M285.2 118.7h0M293.1 127.7h0M289.6 127.6h0M281.9 129.6h0M282.1 117.2h0M286.6 132.2h0M291.0 115.6h0M278.5 131.1h0M275.7 131.6h0M286.1 115.6h0M295.1 131.7h0M281.8 118.0h0M301.8 127.0h0M288.3 116.8h0M279.1 114.4h0M281.4 132.4h0M286.6 127.5h0M300.8 131.8h0M273.4 121.4h0M291.2 129.2h0M287.9 111.4h0M282.7 117.1h0M289.9 130.3h0M291.2 117.3h0M285.7 120.8h0M301.1 124.7h0M282.2 117.0h0M281.4 113.4h0M287.2 120.2h0M287.2 114.0h0M300.2 126.3h0M290.0 130.8h0M305.5 125.9h0M281.4 132.5h0M308.0 125.2h0M271.3 125.5h0M271.9 117.9h0M297.1 127.4h0M284.1 129.9h0M285.5 130.7h0M284.8 118.5h0M276.6 131.9h0M281.0 111.7h0M289.6 117.4h0M282.1 116.6h0M275.1 116.5h0M285.2 130.3h0M289.5 126.1h0M280.0 113.2h0M307.6 121.3h0M291.0 130.4h0M283.7 130.8h0M270.0 126.0h0M290.2 119.4h0M284.1 114.5h0M283.1 120.0h0M276.1 132.5h0M287.5 129.6h0M281.8 132.8h0M304.6 127.7h0M288.8 127.8h0M289.0 130.1h0M283.2 114.9h0M277.0 119.7h0M276.3 119.8h0M278.8 127.7h0M277.6 127.5h0M287.5 119.9h0M283.5 134.2h0M269.3 126.3h0M284.6 118.3h0M285.2 114.0h0M285.3 128.4h0M283.1 129.1h0M283.4 120.1h0M281.1 129.4h0M295.2 129.2h0M280.8 120.5h0M295.1 113.6h0M270.0 126.5h0M292.4 130.4h0M270.0 126.3h0M287.5 117.3h0M284.1 131.6h0M284.6 117.2h0M289.8 121.1h0M282.7 114.1h0M292.1 121.5h0M283.7 114.5h0M278.6 120.9h0M289.9 113.9h0M288.3 130.6h0M287.5 127.4h0M285.8 120.0h0M293.5 131.9h0M297.6 124.5h0M286.0 131.5h0M277.1 129.3h0M290.6 129.1h0M287.8 115.3h0M285.9 129.8h0M280.7 113.7h0M275.7 118.6h0M277.7 121.5h0M291.8 129.2h0M280.7 116.6h0M285.1 121.0h0M293.5 118.3h0M280.1 117.9h0M289.2 124.8h0M301.8 125.5h0M277.6 116.8h0M301.5 125.6h0M286.5 133.3h0M302.0 125.3h0M281.5 114.1h0M296.1 125.1h0M284.6 135.2h0M276.5 117.4h0M297.6 129.7h0M275.2 115.0h0M283.6 128.1h0M286.3 115.1h0M300.5 127.8h0M275.0 117.4h0M283.6 115.6h0M285.8 124.4h0M287.8 129.7h0M281.6 116.4h0M303.6 124.9h0M286.2 120.4h0M282.3 118.9h0M283.3 115.6h0M292.0 125.4h0M285.3 117.0h0M287.6 134.0h0M294.8 114.6h0M272.3 119.4h0M291.5 125.4h0M289.0 129.5h0M289.8 115.9h0M291.1 134.6h0M293.4 128.5h0M302.8 127.3h0M303.1 125.9h0M278.0 117.1h0M278.1 115.6h0M287.1 126.9h0M303.9 121.9h0M284.8 121.6h0M275.6 120.3h0M282.2 122.1h0M285.7 113.8h0M293.8 117.7h0M288.8 129.7h0M296.0 125.1h0M285.8 128.0h0M287.7 128.7h0M280.6 131.2h0" stroke="#111" stroke-opacity="0.6" stroke-width="0.8" stroke-linecap="square" fill="none"/>
<path d="M287.4 116.3h0M281.1 118.8h0M286.2 116.2h0M284.7 133.7h0M280.8 120.2h0M286.4 116.3h0M290.7 128.6h0M279.4 113.5h0M283.8 119.4h0M295.4 131.8h0M290.6 132.8h0M275.6 112.9h0M279.2 113.8h0M291.7 129.7h0M281.9 121.4h0M305.3 124.4h0M287.5 128.9h0M287.7 132.3h0M285.2 118.9h0M298.0 127.9h0M303.4 123.9h0M287.7 126.9h0M283.8 131.0h0M302.6 124.4h0M290.2 126.3h0M286.7 116.1h0M302.2 127.4h0M294.2 133.1h0M294.3 130.1h0M279.5 117.5h0M283.3 113.4h0M278.4 115.0h0M298.5 126.9h0M293.6 134.4h0M281.7 121.8h0M288.9 117.6h0M285.4 121.7h0M283.4 127.2h0M290.0 126.6h0M281.3 120.8h0M276.5 119.8h0M281.1 113.8h0M291.9 119.8h0M278.9 129.5h0M304.0 122.5h0M299.8 128.2h0M304.6 126.4h0M283.1 128.7h0M288.2 114.3h0M279.5 132.4h0M292.1 116.7h0M284.9 119.2h0M288.4 131.0h0M281.4 131.2h0M283.9 121.2h0M301.9 124.9h0M299.6 128.7h0M284.0 115.3h0M302.9 125.8h0M280.3 120.0h0M301.7 124.5h0M283.6 135.2h0M288.7 116.5h0M289.3 130.9h0M269.5 125.0h0M294.2 131.3h0M284.1 112.4h0M290.5 117.1h0M289.4 117.2h0M297.7 127.9h0M305.4 126.0h0M287.6 130.5h0M269.0 125.8h0M288.1 114.0h0M300.5 123.6h0M288.3 128.8h0M277.6 118.1h0M284.6 130.4h0M291.6 116.3h0M295.1 130.2h0M288.3 116.2h0M280.0 115.5h0M293.1 124.1h0M288.1 111.6h0M288.0 130.7h0M282.5 117.8h0M286.4 129.2h0M279.3 117.6h0M279.3 114.8h0M274.1 118.7h0M303.6 127.1h0M289.1 118.8h0M289.7 127.1h0M303.5 128.5h0M301.8 125.3h0M293.2 128.9h0M292.2 126.5h0M285.0 130.1h0M286.6 115.9h0M282.1 130.6h0M290.0 132.6h0M291.0 114.4h0M296.4 127.7h0M292.5 116.7h0M286.6 130.8h0M290.9 132.5h0M283.4 129.3h0M293.3 119.1h0M288.5 127.9h0M286.5 120.4h0M289.2 129.4h0M288.8 113.4h0M270.9 125.9h0M281.0 115.8h0M287.8 113.9h0M288.1 131.7h0M289.2 115.1h0M288.5 129.9h0M280.1 117.6h0M278.3 128.8h0M293.0 131.9h0M291.9 134.6h0M282.9 118.0h0M281.7 116.5h0M288.1 131.4h0M289.7 128.2h0M289.4 114.9h0M305.2 127.4h0M300.7 126.2h0M283.8 121.4h0M289.8 132.4h0M288.1 121.4h0M286.1 116.8h0M285.1 120.0h0M280.0 126.5h0M273.4 122.3h0M290.7 124.4h0M288.5 113.5h0M286.6 114.7h0M279.6 120.7h0M299.9 127.8h0M286.3 129.9h0M303.0 127.8h0M295.6 130.2h0M285.0 123.0h0M282.8 130.4h0M282.6 117.7h0M284.9 120.7h0M303.8 125.3h0M305.0 126.6h0M284.3 129.3h0M284.8 117.4h0M300.5 126.5h0M278.6 116.0h0M287.7 116.0h0M285.5 131.8h0M279.3 134.9h0M283.4 117.5h0M284.5 120.8h0M278.7 116.7h0M288.9 116.4h0M288.9 128.5h0M293.2 127.6h0M293.4 130.0h0M280.5 120.8h0M285.7 114.6h0M297.0 128.4h0M284.2 115.9h0M292.8 128.4h0M282.9 115.8h0M282.2 116.5h0M268.8 125.1h0M284.8 130.6h0M293.5 127.7h0M284.7 131.3h0M285.8 117.2h0M278.1 115.0h0M281.0 134.5h0M285.5 120.3h0M276.9 118.2h0M296.0 130.5h0M296.7 126.1h0M276.1 112.3h0M277.7 118.7h0M289.8 133.6h0M280.6 113.2h0M280.0 122.1h0M285.6 130.3h0M279.9 128.1h0M300.6 125.7h0M286.4 116.0h0M282.0 115.4h0M282.0 116.0h0M280.6 116.3h0M270.2 131.3h0M285.8 136.1h0M285.6 126.2h0M285.5 133.7h0M284.7 112.6h0M287.3 127.9h0M275.5 112.9h0M303.5 129.2h0M282.4 119.0h0M296.1 122.0h0M280.0 127.0h0M278.5 130.3h0M300.1 133.5h0M283.9 115.7h0M282.1 130.3h0M281.0 118.4h0M269.8 115.6h0M293.5 132.4h0M306.7 123.6h0M286.1 114.6h0M289.9 132.1h0M302.2 126.5h0M286.5 114.7h0M296.3 126.4h0M270.6 120.8h0M282.3 116.0h0M279.6 132.3h0M293.4 129.0h0M282.8 118.9h0M287.3 119.5h0M296.5 129.5h0M303.6 125.6h0M292.0 122.3h0M274.9 114.9h0M284.1 119.0h0M268.4 126.5h0M290.8 127.6h0M288.4 117.3h0M295.5 127.5h0M285.3 131.7h0" stroke="#111" stroke-opacity="0.6" stroke-width="0.8" stroke-linecap="square" fill="none"/>
<path d="M298.2 121.2h0M292.5 127.8h0M268.7 116.4h0M290.5 128.0h0M284.6 134.8h0M304.0 121.3h0M287.5 127.2h0M301.9 115.6h0M309.9 118.5h0M302.1 117.9h0M270.8 111.4h0M287.1 125.9h0M290.3 129.0h0M305.5 122.7h0M304.3 116.3h0M280.9 134.9h0M304.7 119.6h0M302.6 129.6h0M308.6 118.1h0M292.2 125.8h0M295.8 114.7h0M275.4 130.6h0M294.1 119.6h0M292.4 131.8h0M286.2 120.5h0M304.3 124.1h0M298.1 126.6h0M286.7 133.2h0M300.7 117.4h0M301.1 115.5h0M289.9 130.4h0M288.8 137.5h0M277.9 127.6h0M297.2 131.4h0M296.5 118.4h0M300.5 125.5h0M289.8 119.9h0M277.0 130.8h0M283.0 119.6h0M282.2 130.4h0M302.1 123.5h0M279.0 109.6h0M304.8 116.8h0M291.9 111.9h0M283.4 129.4h0M274.9 126.3h0M302.1 118.4h0M310.2 125.0h0M293.3 115.3h0M284.3 129.0h0M295.3 122.2h0M288.3 125.8h0M293.9 115.5h0M300.3 125.5h0M298.6 131.1h0M301.0 124.4h0M287.7 109.3h0M299.2 115.8h0M284.4 126.4h0M284.3 127.9h0M298.3 115.9h0M275.3 126.8h0M292.0 114.7h0M297.9 121.9h0M289.6 132.4h0M309.9 126.9h0M276.4 115.5h0M299.3 117.0h0M306.1 116.4h0M300.5 119.2h0M295.0 127.2h0M297.7 117.3h0M288.4 124.8h0M299.3 126.2h0M293.4 120.7h0M274.0 130.9h0M300.2 116.1h0M287.9 121.2h0M265.4 118.1h0M298.6 124.5h0M268.0 138.3h0M296.6 127.7h0M282.1 133.5h0M296.9 114.6h0M300.2 113.9h0M298.1 115.3h0M293.0 116.9h0M289.3 132.7h0M289.7 120.2h0M302.6 115.7h0M284.6 128.9h0M289.7 127.6h0M289.2 119.1h0M303.8 115.6h0M290.2 124.7h0M283.7 128.7h0M295.9 129.2h0M288.8 131.3h0M293.7 128.4h0M271.9 130.8h0M310.2 120.3h0M299.1 117.4h0M294.1 116.7h0M296.6 124.4h0M295.1 127.0h0M291.5 126.1h0M296.1 117.8h0M274.1 125.5h0M299.3 117.4h0M288.3 125.8h0M299.7 117.4h0M297.1 120.3h0M295.4 124.8h0M295.3 116.2h0M282.3 111.2h0M295.1 120.7h0M302.7 131.5h0M293.5 116.4h0M290.4 119.7h0M300.7 124.9h0M295.5 118.8h0M302.1 117.3h0M295.6 118.4h0M305.9 118.4h0M303.3 117.3h0M302.7 117.9h0M294.4 114.6h0M295.2 113.6h0" stroke="#111" stroke-opacity="0.42" stroke-width="0.85" stroke-linecap="square" fill="none"/>
<path d="M289.8 118.5h0M292.9 140.2h0M275.1 127.9h0M293.5 131.1h0M295.0 123.4h0M293.7 117.7h0M274.8 109.1h0M296.4 113.4h0M281.6 131.0h0M271.3 135.4h0M309.8 126.4h0M293.0 120.9h0M297.4 117.1h0M299.5 120.0h0M295.4 126.1h0M293.5 125.1h0M267.2 134.0h0M293.9 113.0h0M301.8 112.5h0M305.9 117.7h0M291.1 129.7h0M291.3 119.9h0M299.2 116.6h0M298.6 127.5h0M297.4 117.1h0M291.3 130.2h0M293.8 123.4h0M304.8 127.8h0M312.0 118.2h0M309.0 126.2h0M295.3 112.3h0M283.6 123.8h0M293.4 113.5h0M296.6 119.5h0M293.9 117.0h0M291.0 117.4h0M298.0 126.9h0M299.1 119.8h0M282.3 128.9h0M298.3 123.9h0M284.0 130.6h0M297.5 116.9h0M301.9 121.3h0M298.7 127.7h0M289.1 131.4h0M294.9 117.9h0M285.3 127.8h0M295.5 117.7h0M294.5 124.2h0M294.6 119.3h0M299.9 117.4h0M309.0 120.0h0M299.3 115.8h0M306.7 117.9h0M299.1 122.4h0M284.8 130.2h0M288.1 118.5h0M293.1 127.6h0M303.0 118.9h0M286.8 115.0h0M297.4 116.9h0M290.9 125.2h0M295.5 121.1h0M294.5 129.4h0M294.2 125.4h0M300.3 118.7h0M311.1 118.7h0M299.6 119.6h0M293.9 119.1h0M299.3 113.4h0M302.5 131.2h0M293.6 127.5h0M285.2 111.4h0M299.3 128.9h0M296.2 127.1h0M302.9 128.7h0M310.5 129.2h0M287.3 128.4h0M292.8 134.2h0M301.9 129.5h0M298.5 115.6h0M277.9 132.2h0M269.8 134.4h0M304.8 118.7h0M294.1 128.3h0M289.3 115.4h0M296.1 127.1h0M275.7 134.2h0M310.5 123.2h0M287.4 129.5h0M292.8 128.3h0M302.2 113.2h0M295.4 107.8h0M296.9 119.5h0M278.1 124.9h0M299.4 118.5h0M288.5 127.2h0M307.0 124.9h0M290.6 121.9h0M298.4 116.5h0M288.7 131.8h0M285.5 132.0h0M287.8 129.4h0M304.5 118.8h0M273.7 132.0h0M306.4 119.5h0M299.9 116.2h0M294.1 118.7h0M300.5 115.7h0M280.8 109.4h0M300.4 137.7h0M294.0 117.1h0M291.5 118.1h0M303.5 116.3h0M309.1 122.8h0M276.5 120.4h0M286.9 125.9h0M287.2 108.9h0M303.4 127.2h0M297.6 117.5h0M266.8 107.5h0M295.6 130.2h0M308.3 120.0h0M296.8 114.5h0M300.9 134.2h0M299.2 119.6h0M290.3 133.5h0" stroke="#111" stroke-opacity="0.42" stroke-width="0.85" stroke-linecap="square" fill="none"/>
</g>
<rect x="264.9" y="106.7" width="43.90" height="30.50" fill="none" stroke="#333" stroke-width="0.7"/>
<path d="M275.6 106.7V137.2M264.9 123.4H308.8" stroke="#333" stroke-width="0.6"/>
<text transform="translate(262.1 135.7) rotate(-90)" font-size="4.1" fill="#555" text-anchor="middle">10<tspan font-size="2.9" dy="-1.2">0</tspan></text>
<path d="M263.7 135.7H264.9" stroke="#666" stroke-width="0.4"/>
<text transform="translate(262.1 128.6) rotate(-90)" font-size="4.1" fill="#555" text-anchor="middle">10<tspan font-size="2.9" dy="-1.2">1</tspan></text>
<path d="M263.7 128.6H264.9" stroke="#666" stroke-width="0.4"/>
<text transform="translate(262.1 121.5) rotate(-90)" font-size="4.1" fill="#555" text-anchor="middle">10<tspan font-size="2.9" dy="-1.2">2</tspan></text>
<path d="M263.7 121.5H264.9" stroke="#666" stroke-width="0.4"/>
<text transform="translate(262.1 114.4) rotate(-90)" font-size="4.1" fill="#555" text-anchor="middle">10<tspan font-size="2.9" dy="-1.2">3</tspan></text>
<path d="M263.7 114.4H264.9" stroke="#666" stroke-width="0.4"/>
<text transform="translate(262.1 107.3) rotate(-90)" font-size="4.1" fill="#555" text-anchor="middle">10<tspan font-size="2.9" dy="-1.2">4</tspan></text>
<path d="M263.7 107.3H264.9" stroke="#666" stroke-width="0.4"/>
<text x="266.1" y="141.7" font-size="3.6" fill="#333" text-anchor="middle">0</text>
<text x="307.5" y="141.7" font-size="3.6" fill="#333" text-anchor="middle">1000</text>
<clipPath id="c21"><rect x="325.5" y="106.7" width="43.90" height="30.50"/></clipPath>
<g clip-path="url(#c21)">
<ellipse cx="342.5" cy="116.3" rx="7.65" ry="3.36" transform="rotate(-5 342.5 116.3)" fill="#000" fill-opacity="1" filter="url(#bl)"/>
<ellipse cx="330" cy="125.5" rx="3.40" ry="1.04" transform="rotate(-55 330 125.5)" fill="#000" fill-opacity="0.4" filter="url(#bl)"/>
<ellipse cx="348" cy="129.6" rx="8.92" ry="3.04" transform="rotate(-8 348 129.6)" fill="#000" fill-opacity="1" filter="url(#bl)"/>
<ellipse cx="360" cy="126" rx="5.10" ry="1.60" transform="rotate(-14 360 126)" fill="#000" fill-opacity="0.6" filter="url(#bl)"/>
<path d="M340.2 116.7h0M342.3 117.1h0M358.9 125.6h0M342.3 116.9h0M357.6 116.1h0M338.5 117.9h0M337.4 116.2h0M361.3 127.0h0M340.9 118.4h0M329.0 126.0h0M344.7 134.7h0M348.4 131.3h0M354.0 128.5h0M354.0 127.2h0M342.1 130.7h0M344.2 114.5h0M329.9 113.8h0M352.8 127.3h0M337.7 112.4h0M343.0 125.8h0M352.7 114.8h0M356.2 131.1h0M352.0 127.7h0M355.6 128.0h0M342.9 114.0h0M358.6 126.0h0M349.7 116.8h0M359.2 127.3h0M355.6 130.6h0M340.4 116.3h0M349.0 131.3h0M349.9 128.5h0M348.4 127.8h0M354.0 130.4h0M346.9 130.0h0M346.1 115.7h0M353.2 113.9h0M347.9 129.7h0M365.4 122.2h0M347.2 130.7h0M349.8 127.4h0M338.0 117.9h0M358.5 126.2h0M356.0 127.2h0M361.8 125.0h0M356.5 125.9h0M340.9 116.5h0M340.0 130.0h0M345.7 128.4h0M348.2 133.6h0M360.1 123.9h0M344.4 126.3h0M347.4 132.1h0M342.4 117.9h0M346.1 129.1h0M341.0 129.0h0M341.5 115.4h0M339.0 117.1h0M348.7 114.5h0M329.5 125.6h0M336.0 117.9h0M344.8 119.6h0M335.0 121.9h0M335.6 116.7h0M337.5 117.5h0M337.1 116.2h0M349.3 124.5h0M338.4 115.5h0M344.9 119.7h0M363.4 125.8h0M351.6 127.0h0M343.9 131.9h0M352.7 128.9h0M349.6 113.2h0M346.1 129.8h0M334.4 134.3h0M352.7 126.7h0M350.3 126.7h0M349.0 116.7h0M334.3 129.6h0M352.0 128.5h0M346.3 118.0h0M343.6 118.6h0M336.7 110.5h0M342.4 128.0h0M340.7 133.8h0M341.4 116.7h0M341.6 114.4h0M342.2 136.0h0M337.3 113.7h0M352.1 130.9h0M335.2 116.2h0M347.7 113.3h0M337.5 116.2h0M330.3 126.6h0M340.7 119.8h0M348.1 118.9h0M346.8 133.3h0M351.9 114.0h0M347.1 128.6h0M328.4 127.1h0M349.3 128.7h0M345.7 114.0h0M336.7 113.2h0M350.3 133.7h0M343.7 126.7h0M340.2 111.9h0M365.8 125.0h0M338.7 118.0h0M357.7 128.2h0M349.7 117.1h0M340.5 128.4h0M341.6 119.4h0M342.7 114.7h0M350.7 133.4h0M357.5 127.6h0M349.8 115.3h0M355.2 130.7h0M328.7 126.3h0M331.2 125.0h0M340.4 120.9h0M344.7 130.7h0M343.7 129.9h0M341.1 131.4h0M350.0 130.4h0M359.6 125.4h0M348.3 115.0h0M348.8 111.6h0M335.5 116.5h0M345.4 132.5h0M339.6 117.4h0M347.1 131.3h0M349.1 132.1h0M356.2 126.7h0M337.4 116.4h0M346.5 117.9h0M347.2 128.6h0M348.6 130.5h0M327.7 125.7h0M354.2 129.9h0M347.1 112.2h0M346.7 130.8h0M363.6 123.5h0M343.6 131.2h0M350.1 130.9h0M342.9 132.1h0M341.4 115.7h0M345.3 115.9h0M352.4 124.2h0M343.0 112.7h0M351.5 116.0h0M337.1 116.3h0M341.5 116.2h0M351.1 116.5h0M360.6 124.8h0M347.4 127.6h0M341.8 122.0h0M332.7 114.2h0M341.0 117.7h0M355.4 125.7h0M343.2 134.1h0M338.5 114.3h0M338.2 132.8h0M342.1 115.2h0M335.7 116.1h0M344.2 116.0h0M344.3 111.3h0M329.9 125.1h0M346.1 117.0h0M350.2 127.9h0M345.8 116.2h0M347.0 119.6h0M355.8 129.5h0M340.5 132.2h0M343.9 135.4h0M345.7 129.2h0M338.7 132.5h0M347.1 128.2h0M351.7 130.4h0M341.1 112.3h0M353.2 129.4h0M343.8 113.9h0M356.2 127.7h0M337.5 112.0h0M347.1 123.6h0M352.8 126.1h0M363.5 123.6h0M359.0 125.5h0M341.7 118.4h0M343.1 131.0h0" stroke="#111" stroke-opacity="0.6" stroke-width="0.8" stroke-linecap="square" fill="none"/>
<path d="M355.1 128.6h0M344.9 115.7h0M343.2 117.2h0M341.7 129.7h0M347.9 116.5h0M355.3 127.4h0M346.2 132.7h0M346.9 132.3h0M343.3 121.8h0M358.7 126.5h0M360.8 127.8h0M334.1 114.9h0M335.4 116.7h0M341.0 112.9h0M341.5 115.0h0M329.6 126.9h0M341.3 114.8h0M345.9 117.3h0M349.9 129.2h0M346.2 120.9h0M337.3 114.1h0M342.8 119.2h0M348.2 116.2h0M364.1 125.5h0M334.4 116.9h0M344.5 116.5h0M349.5 115.4h0M350.6 130.1h0M339.2 130.7h0M347.7 125.4h0M358.9 126.1h0M339.3 121.0h0M344.1 117.1h0M346.8 125.9h0M344.2 124.0h0M338.7 133.3h0M343.2 117.7h0M359.9 126.4h0M342.0 120.5h0M341.9 114.4h0M336.9 118.7h0M346.2 117.0h0M332.4 123.7h0M343.7 132.9h0M345.1 113.2h0M352.6 129.5h0M344.9 118.5h0M344.3 119.7h0M351.0 129.6h0M346.3 131.4h0M351.8 128.1h0M346.8 124.8h0M331.9 122.7h0M337.9 115.2h0M359.8 127.0h0M348.7 113.6h0M345.3 129.2h0M335.3 117.7h0M348.2 128.4h0M348.6 131.8h0M343.1 127.9h0M348.2 128.4h0M345.5 129.3h0M339.7 132.8h0M344.6 127.5h0M356.3 128.6h0M342.6 117.6h0M329.0 125.7h0M342.6 128.5h0M357.1 126.8h0M348.1 116.1h0M344.5 130.0h0M349.4 131.5h0M335.4 115.8h0M348.5 115.2h0M345.3 119.3h0M353.9 127.5h0M344.7 129.1h0M339.5 135.3h0M348.4 131.9h0M330.4 125.5h0M346.5 131.3h0M346.5 120.1h0M348.6 116.6h0M338.3 115.8h0M333.6 117.4h0M358.8 126.4h0M353.5 128.3h0M343.7 127.7h0M345.2 128.1h0M347.7 131.4h0M339.2 131.5h0M348.4 119.2h0M349.6 130.0h0M343.6 118.0h0M348.4 130.2h0M331.1 123.4h0M346.5 127.0h0M353.5 126.7h0M357.3 129.9h0M347.1 130.5h0M346.9 112.1h0M340.9 119.1h0M347.5 131.7h0M337.6 119.2h0M362.2 127.4h0M339.0 110.2h0M341.3 129.3h0M349.0 130.4h0M338.6 111.2h0M341.6 129.9h0M350.1 117.2h0M349.6 118.7h0M348.5 128.4h0M360.5 126.3h0M352.1 127.2h0M347.9 130.9h0M342.2 116.1h0M344.4 114.6h0M339.8 115.6h0M341.9 118.7h0M340.5 120.1h0M343.0 111.8h0M352.8 130.8h0M346.4 128.1h0M351.3 127.1h0M341.9 119.0h0M339.7 115.2h0M343.8 115.4h0M348.5 113.9h0M343.4 116.1h0M350.5 114.8h0M345.1 115.5h0M343.6 136.3h0M341.8 130.4h0M340.5 115.0h0M340.4 116.3h0M348.5 131.1h0M354.3 128.2h0M346.7 116.6h0M337.2 114.8h0M342.9 135.1h0M343.0 112.7h0M330.3 127.0h0M347.5 127.2h0M363.9 125.7h0M344.5 130.7h0M345.9 133.8h0M346.8 126.1h0M335.4 132.1h0M349.3 128.0h0M360.6 126.3h0M343.9 130.5h0M329.1 124.8h0M339.2 111.4h0M340.9 130.5h0M348.4 131.1h0M342.4 128.0h0M346.6 131.7h0M349.5 130.3h0M352.4 131.4h0M342.4 116.2h0M339.7 114.8h0M342.5 117.7h0M331.2 114.5h0M357.6 129.3h0M344.8 130.0h0M356.8 128.3h0M329.7 126.7h0M345.7 131.8h0M341.6 113.3h0M346.1 129.9h0M349.1 130.0h0M344.3 128.1h0M338.5 115.3h0M348.5 134.7h0M345.2 115.3h0M341.5 133.9h0M353.3 124.8h0M345.5 129.3h0M331.5 123.0h0M352.9 115.2h0M341.6 130.2h0M342.0 130.0h0M348.6 127.9h0M330.7 117.4h0M345.5 116.8h0M341.7 117.3h0M339.7 116.8h0M328.3 127.5h0" stroke="#111" stroke-opacity="0.6" stroke-width="0.8" stroke-linecap="square" fill="none"/>
<path d="M339.9 116.9h0M343.2 116.6h0M352.6 132.4h0M341.8 125.7h0M363.0 125.6h0M334.7 117.8h0M340.3 119.3h0M342.2 116.1h0M343.2 127.7h0M346.7 128.8h0M342.9 113.5h0M343.0 131.9h0M331.7 125.4h0M352.4 129.2h0M347.2 115.1h0M351.5 125.4h0M354.6 131.2h0M348.1 112.1h0M352.0 129.1h0M347.9 124.1h0M345.2 127.8h0M349.3 128.7h0M340.8 115.2h0M362.2 127.1h0M345.8 114.5h0M352.7 130.1h0M350.5 122.4h0M349.8 126.4h0M344.2 131.6h0M340.2 118.0h0M353.0 124.6h0M346.8 127.8h0M340.9 126.4h0M365.0 127.5h0M337.8 113.9h0M333.5 114.8h0M329.4 127.9h0M353.8 115.8h0M343.7 130.3h0M345.6 114.0h0M346.8 135.4h0M348.1 130.1h0M349.7 133.2h0M333.7 119.5h0M330.7 123.8h0M358.6 129.5h0M349.5 117.5h0M341.5 129.5h0M357.6 125.8h0M357.7 125.6h0M344.9 117.2h0M348.4 114.7h0M354.3 129.3h0M339.4 113.4h0M360.1 127.6h0M348.8 129.9h0M354.6 122.6h0M359.2 124.3h0M345.7 118.3h0M363.1 125.8h0M348.8 130.5h0M330.0 124.3h0M350.4 130.2h0M340.2 124.8h0M343.3 118.7h0M340.0 134.9h0M364.5 127.1h0M340.8 120.4h0M342.3 130.8h0M337.4 115.4h0M336.8 117.8h0M346.9 117.4h0M338.5 112.8h0M342.3 130.0h0M344.3 112.4h0M343.9 115.9h0M341.6 118.7h0M332.6 123.2h0M329.8 112.4h0M343.6 117.4h0M329.8 126.1h0M351.2 116.9h0M347.8 129.2h0M349.3 128.9h0M333.2 115.8h0M344.9 130.3h0M344.1 119.1h0M338.8 131.6h0M360.5 124.1h0M356.9 126.4h0M342.8 128.8h0M339.5 114.5h0M358.5 128.0h0M349.5 127.2h0M344.8 114.0h0M360.2 124.9h0M346.2 120.5h0M360.5 124.1h0M360.7 125.9h0M356.4 126.8h0M342.9 116.8h0M330.4 124.9h0M351.4 116.3h0M352.6 129.0h0M344.4 116.6h0M345.7 114.4h0M342.7 134.7h0M362.2 125.8h0M345.9 131.3h0M349.0 137.5h0M340.3 116.2h0M326.9 120.3h0M350.1 129.1h0M354.3 130.8h0M346.8 129.8h0M350.1 127.5h0M337.0 116.9h0M338.7 118.8h0M338.9 113.8h0M338.9 115.6h0M342.9 118.1h0M340.8 118.0h0M355.4 133.0h0M346.6 117.5h0M344.9 122.0h0M358.1 128.7h0M340.0 114.7h0M353.9 128.1h0M348.3 127.6h0M343.6 116.2h0M353.6 128.6h0M346.1 130.9h0M353.5 128.2h0M357.5 125.6h0M359.7 125.8h0M336.6 131.7h0M350.2 115.7h0M340.4 120.2h0M333.1 119.4h0M362.5 126.6h0M348.0 128.8h0M359.1 128.1h0M327.9 114.6h0M344.1 118.6h0M348.5 116.2h0M347.4 131.4h0M348.7 118.0h0M342.4 129.5h0M342.0 119.3h0M345.3 120.1h0M338.6 114.3h0M353.1 128.2h0M327.1 128.2h0M340.7 115.3h0M354.1 126.3h0M337.5 115.8h0M336.4 117.6h0M349.0 131.2h0M349.8 126.8h0M340.6 114.5h0M339.6 119.0h0M363.0 122.9h0M328.6 127.8h0M331.9 132.6h0M348.2 130.1h0M358.7 127.8h0M338.3 117.7h0M352.5 130.6h0M348.1 118.8h0M360.3 123.4h0M348.5 117.7h0M328.4 126.8h0M334.5 114.5h0M355.2 128.0h0M353.6 114.4h0M352.0 129.3h0M344.6 120.5h0M358.9 127.6h0M352.9 128.1h0M358.4 127.6h0M341.7 115.7h0M343.0 131.6h0M337.5 120.3h0M360.0 125.1h0M331.1 121.4h0M345.9 115.1h0M347.3 133.4h0M364.5 124.7h0M353.6 129.2h0M356.1 129.3h0" stroke="#111" stroke-opacity="0.6" stroke-width="0.8" stroke-linecap="square" fill="none"/>
<path d="M345.0 118.8h0M336.7 122.3h0M355.5 132.9h0M327.6 131.8h0M351.6 128.4h0M349.6 129.6h0M358.2 135.3h0M336.6 126.6h0M333.3 123.3h0M349.2 130.3h0M354.0 125.0h0M344.8 120.4h0M359.7 125.6h0M348.7 123.8h0M365.6 124.8h0M343.6 118.8h0M330.5 134.4h0M341.1 118.8h0M338.7 126.5h0M341.9 128.1h0M363.6 125.2h0M353.5 119.4h0M328.9 118.2h0M363.1 121.6h0M343.6 118.0h0M348.7 123.2h0M347.5 120.8h0M337.8 120.7h0M357.4 134.4h0M332.5 137.1h0M342.7 107.7h0M357.0 128.2h0M347.1 118.3h0M365.4 107.0h0M356.6 130.9h0M351.9 120.0h0M349.6 127.0h0M346.7 114.6h0M353.7 120.3h0M343.4 128.5h0M364.0 122.4h0M339.7 135.3h0M367.4 126.3h0M334.4 127.5h0M355.8 122.3h0M340.2 131.0h0M347.3 119.6h0M338.8 124.4h0M363.4 124.4h0M358.8 121.3h0M358.9 123.8h0M347.8 120.4h0M346.0 119.8h0M339.1 127.4h0M360.1 120.3h0M361.1 125.1h0M330.1 135.9h0M354.9 114.2h0M344.4 115.6h0M348.1 118.3h0M332.1 117.4h0M356.5 120.7h0M373.0 127.7h0M345.2 123.8h0M349.8 123.0h0M351.5 128.2h0M353.4 133.3h0M335.9 115.2h0M361.3 117.7h0M343.2 125.4h0M367.5 108.7h0M350.1 131.4h0M355.8 114.9h0M350.9 125.0h0" stroke="#111" stroke-opacity="0.42" stroke-width="0.85" stroke-linecap="square" fill="none"/>
<path d="M358.1 125.2h0M358.3 122.4h0M354.9 124.4h0M352.7 127.1h0M366.8 119.9h0M342.1 125.3h0M347.1 126.2h0M349.7 130.7h0M363.6 124.1h0M347.5 134.2h0M362.2 118.0h0M362.2 128.8h0M364.3 110.1h0M344.0 122.1h0M362.8 115.9h0M358.1 117.0h0M342.0 120.7h0M350.7 108.3h0M349.9 121.5h0M358.7 130.8h0M357.0 127.4h0M361.2 126.5h0M348.4 113.7h0M361.4 129.5h0M351.5 121.1h0M366.5 142.3h0M347.9 117.5h0M372.1 122.2h0M352.6 132.8h0M348.8 126.5h0M359.3 126.8h0M331.8 125.0h0M351.4 132.8h0M331.4 107.8h0M359.4 110.0h0M359.2 127.5h0M326.2 130.2h0M361.2 124.6h0M336.8 123.4h0M348.5 128.5h0M361.9 108.7h0M356.5 126.9h0M336.3 118.2h0M349.0 128.4h0M378.5 118.3h0M347.9 131.2h0M353.4 121.1h0M352.5 120.1h0M352.6 119.8h0M339.3 116.3h0M352.5 129.9h0M343.5 122.1h0M363.1 122.0h0M353.8 123.2h0M348.9 109.5h0M347.4 110.0h0M350.9 130.7h0M348.5 122.3h0M353.1 143.5h0M341.0 114.2h0M345.9 126.4h0M338.9 121.7h0M356.6 122.5h0M341.5 119.1h0M339.4 125.2h0M330.9 120.4h0M331.6 124.0h0M352.8 120.9h0M359.4 118.3h0M344.8 122.2h0M355.3 120.4h0M355.5 120.1h0M365.5 136.1h0" stroke="#111" stroke-opacity="0.42" stroke-width="0.85" stroke-linecap="square" fill="none"/>
</g>
<rect x="325.5" y="106.7" width="43.90" height="30.50" fill="none" stroke="#333" stroke-width="0.7"/>
<path d="M335.5 106.7V137.2M325.5 123.6H369.4" stroke="#333" stroke-width="0.6"/>
<text transform="translate(322.7 135.7) rotate(-90)" font-size="4.1" fill="#555" text-anchor="middle">10<tspan font-size="2.9" dy="-1.2">0</tspan></text>
<path d="M324.3 135.7H325.5" stroke="#666" stroke-width="0.4"/>
<text transform="translate(322.7 128.6) rotate(-90)" font-size="4.1" fill="#555" text-anchor="middle">10<tspan font-size="2.9" dy="-1.2">1</tspan></text>
<path d="M324.3 128.6H325.5" stroke="#666" stroke-width="0.4"/>
<text transform="translate(322.7 121.5) rotate(-90)" font-size="4.1" fill="#555" text-anchor="middle">10<tspan font-size="2.9" dy="-1.2">2</tspan></text>
<path d="M324.3 121.5H325.5" stroke="#666" stroke-width="0.4"/>
<text transform="translate(322.7 114.4) rotate(-90)" font-size="4.1" fill="#555" text-anchor="middle">10<tspan font-size="2.9" dy="-1.2">3</tspan></text>
<path d="M324.3 114.4H325.5" stroke="#666" stroke-width="0.4"/>
<text transform="translate(322.7 107.3) rotate(-90)" font-size="4.1" fill="#555" text-anchor="middle">10<tspan font-size="2.9" dy="-1.2">4</tspan></text>
<path d="M324.3 107.3H325.5" stroke="#666" stroke-width="0.4"/>
<text x="326.7" y="141.7" font-size="3.6" fill="#333" text-anchor="middle">0</text>
<text x="368.1" y="141.7" font-size="3.6" fill="#333" text-anchor="middle">1000</text>
<clipPath id="c22"><rect x="386.8" y="106.7" width="44.00" height="30.50"/></clipPath>
<g clip-path="url(#c22)">
<ellipse cx="404.5" cy="116.4" rx="8.67" ry="5.04" transform="rotate(-4 404.5 116.4)" fill="#000" fill-opacity="1" filter="url(#bl)"/>
<ellipse cx="416" cy="116" rx="4.25" ry="2.40" transform="rotate(0 416 116)" fill="#000" fill-opacity="0.3" filter="url(#bl)"/>
<ellipse cx="392.5" cy="127" rx="3.57" ry="1.60" transform="rotate(-60 392.5 127)" fill="#000" fill-opacity="0.95" filter="url(#bl)"/>
<ellipse cx="410.5" cy="128.3" rx="8.50" ry="2.00" transform="rotate(-8 410.5 128.3)" fill="#000" fill-opacity="0.45" filter="url(#bl)"/>
<path d="M398.4 119.7h0M398.3 114.3h0M397.9 129.4h0M413.5 127.8h0M405.9 115.7h0M395.0 124.8h0M404.9 116.4h0M417.4 112.7h0M418.3 127.5h0M412.8 131.2h0M390.8 127.3h0M409.0 128.2h0M414.0 112.2h0M405.8 118.4h0M395.9 114.2h0M399.7 113.7h0M407.2 114.1h0M413.7 126.1h0M397.9 116.3h0M399.4 122.8h0M409.6 119.9h0M406.0 127.4h0M407.4 129.3h0M411.9 115.8h0M404.4 111.4h0M401.5 108.4h0M401.4 117.5h0M414.1 126.4h0M401.8 129.4h0M392.8 127.8h0M410.0 118.3h0M416.3 128.0h0M390.8 112.4h0M405.0 114.0h0M394.4 127.3h0M406.2 124.9h0M402.1 113.7h0M412.3 120.0h0M403.8 113.9h0M417.5 114.8h0M411.6 126.3h0M400.0 113.8h0M413.4 115.4h0M412.4 115.6h0M406.7 119.1h0M403.6 117.6h0M408.5 112.4h0M397.4 120.4h0M405.0 116.8h0M409.3 118.8h0M418.2 128.9h0M408.6 122.4h0M408.5 114.5h0M422.5 129.0h0M399.5 118.7h0M412.2 129.4h0M400.8 114.3h0M405.6 119.4h0M404.4 127.0h0M407.3 116.7h0M404.0 109.3h0M416.0 115.8h0M412.7 127.0h0M412.6 118.0h0M393.7 123.2h0M406.3 130.1h0M411.5 119.0h0M406.0 115.5h0M405.0 118.8h0M409.2 110.5h0M406.6 119.3h0M407.0 113.6h0M410.8 111.8h0M407.0 116.1h0M411.9 124.9h0M392.0 127.6h0M391.6 128.2h0M403.2 113.1h0M406.5 116.5h0M392.4 127.6h0M401.0 114.3h0M400.3 131.2h0M409.4 119.8h0M403.7 112.4h0M413.2 127.0h0M393.0 125.1h0M392.7 126.1h0M392.0 128.5h0M394.9 128.7h0M405.9 112.0h0M404.9 121.6h0M401.9 110.3h0M407.4 115.5h0M396.9 117.2h0M404.6 127.7h0M396.3 114.5h0M415.5 119.0h0M415.3 114.8h0M398.9 117.9h0M405.3 111.0h0M413.6 109.7h0M417.0 125.6h0M402.2 116.3h0M404.7 112.1h0M409.4 110.5h0M403.9 106.7h0M398.8 118.5h0M410.1 129.2h0M392.2 126.0h0M407.3 129.3h0M412.2 121.7h0M415.1 130.5h0M407.9 112.5h0M405.4 120.9h0M399.3 119.0h0M405.4 115.1h0M400.4 119.9h0M413.8 116.7h0M408.5 129.4h0M417.9 115.1h0M399.2 116.7h0M415.0 116.9h0M402.7 114.6h0M401.4 116.3h0M405.7 115.5h0M405.4 121.7h0M418.4 129.4h0M406.8 113.9h0M404.5 127.6h0M394.0 125.7h0M399.1 118.7h0M413.4 126.8h0M403.4 112.4h0M392.8 126.3h0M403.1 121.5h0M408.0 117.6h0M407.3 119.0h0M404.9 115.4h0M407.4 125.0h0M391.4 128.2h0M415.0 116.9h0M412.2 127.1h0M407.3 117.7h0M402.8 115.0h0M393.3 126.3h0M403.4 112.8h0M411.9 111.6h0M393.1 125.0h0M404.5 111.6h0M410.9 111.2h0M401.0 119.7h0M404.7 129.2h0M400.8 118.8h0M401.5 118.2h0M415.4 114.8h0M406.4 123.9h0M393.5 114.4h0M411.0 125.4h0M410.5 127.6h0M402.0 119.4h0M398.5 119.4h0M402.2 116.5h0M408.8 110.8h0M414.7 116.9h0M407.1 130.2h0M415.6 115.0h0M415.5 113.1h0M397.7 113.0h0M407.9 113.0h0M416.6 130.4h0M404.7 118.3h0M405.4 117.5h0M415.9 129.1h0M416.0 127.4h0M409.1 113.3h0M399.3 110.2h0M407.5 128.3h0M408.6 113.0h0M406.8 125.4h0M413.5 110.9h0M411.7 116.4h0M407.2 120.2h0M401.2 113.8h0M414.4 117.6h0M395.2 126.3h0M403.9 129.9h0M406.2 118.0h0M405.4 106.1h0M402.1 120.3h0M393.4 125.6h0M398.1 106.0h0M406.3 116.5h0M413.0 117.6h0M416.6 128.0h0" stroke="#111" stroke-opacity="0.6" stroke-width="0.8" stroke-linecap="square" fill="none"/>
<path d="M412.2 128.4h0M412.1 119.7h0M407.1 114.1h0M409.7 126.4h0M406.0 127.1h0M403.8 130.8h0M414.6 127.6h0M419.4 125.8h0M420.0 117.4h0M406.9 117.7h0M402.0 113.8h0M413.1 114.6h0M407.1 130.1h0M403.6 126.4h0M408.4 121.6h0M395.9 115.4h0M407.6 112.8h0M411.7 129.9h0M419.5 117.1h0M397.0 118.8h0M421.2 129.3h0M412.1 107.2h0M416.8 127.7h0M414.5 126.0h0M409.2 129.2h0M411.5 130.2h0M411.3 125.5h0M409.9 125.4h0M398.5 115.6h0M406.8 111.5h0M400.3 116.9h0M410.7 128.3h0M411.1 117.3h0M405.7 117.2h0M406.5 114.6h0M410.1 118.2h0M401.9 118.2h0M415.5 127.4h0M405.2 117.0h0M391.0 127.5h0M417.4 117.8h0M416.4 109.2h0M397.9 119.6h0M393.7 114.6h0M399.5 119.4h0M400.9 119.9h0M411.3 114.8h0M411.3 128.1h0M402.4 116.3h0M413.3 127.2h0M398.3 121.3h0M399.6 115.3h0M413.8 116.1h0M407.0 131.5h0M417.8 126.8h0M407.8 112.7h0M410.2 127.4h0M408.0 128.6h0M397.0 118.3h0M411.5 117.4h0M414.7 115.0h0M400.5 111.4h0M402.8 114.8h0M415.0 116.5h0M418.2 128.8h0M411.5 122.9h0M413.2 128.4h0M419.6 114.8h0M413.7 114.2h0M402.8 118.1h0M420.3 117.2h0M412.4 127.8h0M399.6 111.8h0M404.6 110.9h0M404.2 114.2h0M411.8 131.0h0M399.1 122.3h0M407.3 130.1h0M412.2 110.5h0M407.4 115.5h0M409.3 120.2h0M418.6 127.8h0M403.2 115.4h0M399.9 115.0h0M398.9 115.2h0M403.8 110.7h0M415.3 118.2h0M414.1 128.9h0M401.4 118.2h0M407.7 126.6h0M406.7 115.4h0M401.7 114.1h0M416.8 127.6h0M407.5 129.8h0M396.4 132.7h0M409.5 114.9h0M396.7 124.3h0M403.6 117.8h0M410.2 116.7h0M409.5 131.3h0M407.9 117.1h0M406.9 114.9h0M413.9 126.9h0M411.4 127.9h0M406.8 128.7h0M404.3 112.1h0M398.9 116.1h0M398.7 106.8h0M413.3 119.0h0M407.2 127.7h0M411.3 129.1h0M419.5 115.9h0M403.2 129.6h0M411.7 126.4h0M400.3 112.3h0M403.5 112.7h0M411.6 118.2h0M413.1 126.7h0M408.0 121.9h0M411.9 114.7h0M410.3 128.6h0M401.7 117.2h0M401.2 130.4h0M404.9 117.3h0M403.1 119.6h0M408.3 131.3h0M413.2 126.9h0M413.5 115.1h0M405.9 111.6h0M402.7 123.8h0M392.9 112.4h0M409.8 128.5h0M395.0 115.0h0M404.0 105.5h0M406.4 130.2h0M417.1 112.7h0M399.8 112.5h0M411.7 129.7h0M415.5 114.3h0M413.7 117.1h0M410.2 117.5h0M407.7 127.4h0M423.2 127.4h0M393.3 124.6h0M411.1 119.7h0M410.2 127.0h0M413.1 129.0h0M395.9 113.2h0M400.3 109.2h0M407.8 121.7h0M392.1 127.6h0M406.7 127.5h0M417.9 116.6h0M401.3 112.6h0M401.6 118.8h0M415.8 112.2h0M402.7 114.6h0M391.4 127.4h0M404.4 112.7h0M400.7 131.2h0M393.2 124.9h0M391.3 124.9h0M414.1 115.4h0M406.2 111.4h0M406.8 117.7h0M403.8 108.6h0M406.6 116.4h0M410.0 129.4h0M405.5 118.0h0M401.8 110.3h0M411.1 119.4h0M406.8 121.6h0M400.2 116.0h0M403.0 113.3h0M400.4 118.1h0M392.6 127.2h0M405.5 116.1h0M400.1 119.4h0M400.7 108.7h0M412.3 117.0h0M398.0 117.8h0M407.2 121.6h0M397.7 117.0h0M408.7 112.9h0M407.9 114.3h0M414.0 111.8h0M400.3 128.4h0M406.5 111.0h0M400.0 113.9h0M408.3 116.4h0M411.3 107.7h0M406.3 129.2h0M410.2 110.8h0" stroke="#111" stroke-opacity="0.6" stroke-width="0.8" stroke-linecap="square" fill="none"/>
<path d="M409.4 116.4h0M413.5 114.9h0M410.5 117.4h0M410.0 129.7h0M405.3 130.5h0M406.9 117.7h0M405.8 114.1h0M392.3 127.2h0M409.4 113.4h0M408.6 131.9h0M391.0 128.6h0M399.2 127.3h0M391.5 128.2h0M393.7 125.2h0M410.0 130.1h0M410.5 126.3h0M403.6 118.5h0M409.8 127.9h0M397.9 115.0h0M394.1 113.4h0M403.3 117.6h0M412.6 115.8h0M400.6 106.1h0M401.9 110.3h0M394.1 110.6h0M402.7 119.0h0M410.9 119.4h0M401.2 119.3h0M403.0 116.0h0M415.1 127.0h0M401.9 115.2h0M413.9 124.8h0M412.7 110.5h0M413.1 126.0h0M402.3 125.4h0M405.5 114.4h0M407.8 122.9h0M402.1 129.8h0M412.5 114.3h0M415.1 128.5h0M411.4 119.1h0M404.0 130.0h0M405.4 117.4h0M392.1 129.7h0M405.1 130.2h0M416.8 117.0h0M409.8 112.2h0M402.6 111.8h0M413.3 126.2h0M395.0 123.4h0M419.4 124.7h0M404.1 116.5h0M389.3 128.2h0M411.0 127.8h0M403.6 132.7h0M409.8 130.5h0M416.3 119.7h0M415.7 122.2h0M400.4 116.5h0M393.3 116.8h0M404.0 106.3h0M411.7 113.7h0M409.5 128.5h0M409.3 128.6h0M404.1 114.0h0M400.2 122.6h0M402.6 117.4h0M398.5 114.1h0M398.3 113.6h0M419.0 116.1h0M413.8 128.8h0M405.5 117.8h0M404.2 117.6h0M399.5 115.4h0M416.5 116.9h0M405.4 110.9h0M416.7 125.9h0M411.5 112.8h0M405.6 108.5h0M403.3 114.5h0M408.5 130.8h0M401.2 119.5h0M411.7 126.1h0M404.8 114.0h0M411.3 115.4h0M415.3 129.1h0M412.2 130.5h0M400.8 115.5h0M403.5 108.7h0M417.7 126.5h0M398.4 123.4h0M404.1 117.7h0M410.8 117.0h0M415.5 115.5h0M416.8 129.6h0M411.4 126.6h0M398.7 116.3h0M391.1 130.5h0M411.2 117.8h0M403.5 130.2h0M402.2 129.1h0M401.4 119.2h0M403.8 109.0h0M406.3 128.1h0M405.9 119.9h0M402.1 129.9h0M414.2 114.5h0M401.5 114.7h0M396.2 117.9h0M393.4 127.4h0M395.5 113.2h0M412.0 117.2h0M406.8 111.0h0M407.3 129.0h0M412.2 113.8h0M414.2 127.2h0M407.6 131.7h0M417.1 117.0h0M401.0 119.1h0M401.4 129.7h0M396.8 111.8h0M394.0 124.8h0M397.8 118.2h0M405.7 109.9h0M394.8 118.2h0M400.4 130.3h0M419.4 127.2h0M393.5 113.0h0M401.6 116.6h0M389.6 130.2h0M406.1 109.4h0M412.0 128.3h0M412.1 126.8h0M418.5 117.9h0M408.1 122.4h0M411.9 112.4h0M417.3 116.3h0M410.7 129.7h0M401.6 120.5h0M402.3 129.0h0M407.9 117.4h0M408.3 112.2h0M406.1 110.3h0M407.6 116.7h0M401.2 111.1h0M413.6 123.2h0M405.5 116.5h0M405.2 121.3h0M399.5 132.7h0M407.0 118.1h0M407.9 128.7h0M421.4 126.4h0M407.8 127.5h0M400.7 118.6h0M401.1 112.7h0M410.8 114.0h0M410.0 127.1h0M415.6 116.6h0M409.6 108.0h0M413.3 126.5h0M405.4 127.6h0M400.8 124.7h0M396.7 118.7h0M409.3 129.8h0M411.7 128.8h0M406.8 116.9h0M418.3 125.2h0M418.5 127.2h0M392.3 126.5h0M410.4 115.4h0M409.1 117.7h0M408.8 131.0h0M408.1 117.1h0M404.6 121.8h0M409.4 117.5h0M415.4 128.6h0M405.4 127.0h0M395.3 123.6h0M397.4 119.8h0M403.6 118.6h0M398.6 117.7h0M412.3 128.4h0M402.1 121.3h0M404.6 115.5h0M413.5 120.6h0M404.1 119.8h0M395.0 113.7h0M410.1 126.2h0M409.5 117.2h0M399.1 109.4h0M400.0 115.6h0M409.1 121.7h0M416.2 127.4h0" stroke="#111" stroke-opacity="0.6" stroke-width="0.8" stroke-linecap="square" fill="none"/>
<path d="M409.7 112.7h0M404.8 127.2h0M406.0 121.6h0M395.2 113.8h0M427.9 130.4h0M422.4 121.1h0M410.2 112.9h0M411.5 117.3h0M409.2 120.0h0M391.7 133.7h0M400.7 115.8h0M429.9 119.4h0M419.8 129.2h0M406.4 124.6h0M390.5 124.5h0M411.8 121.0h0M391.9 108.4h0M406.3 121.2h0M398.5 117.8h0M423.6 128.7h0M425.7 120.0h0M416.9 125.5h0M424.7 126.7h0M408.2 118.1h0M403.3 130.2h0M419.7 119.5h0M414.1 119.3h0M408.6 124.8h0M397.8 110.4h0M413.2 118.7h0M413.6 121.4h0M411.3 126.9h0M400.8 127.0h0M414.6 124.7h0M422.6 120.1h0M411.9 115.2h0M405.9 108.7h0M408.5 130.7h0M408.0 128.1h0M408.8 128.5h0M405.8 118.4h0M414.3 125.9h0" stroke="#111" stroke-opacity="0.42" stroke-width="0.85" stroke-linecap="square" fill="none"/>
<path d="M409.2 129.3h0M413.3 133.5h0M414.5 112.1h0M403.7 124.9h0M412.4 119.7h0M407.9 124.1h0M413.4 109.9h0M401.2 124.4h0M408.3 133.6h0M420.2 118.4h0M420.0 116.1h0M422.6 130.8h0M391.1 111.1h0M410.0 113.6h0M413.2 125.5h0M408.2 116.5h0M402.9 132.0h0M402.2 125.9h0M406.5 114.3h0M409.3 119.5h0M419.5 115.7h0M406.8 112.0h0M413.4 126.4h0M408.6 115.7h0M389.2 116.1h0M400.9 117.1h0M425.7 123.7h0M410.2 117.0h0M410.4 133.4h0M410.7 125.3h0M403.1 127.4h0M416.1 124.1h0M428.7 106.9h0M408.5 116.6h0M398.8 129.8h0M416.5 118.3h0M409.8 121.1h0M399.8 129.9h0M407.3 121.6h0M421.2 126.3h0M393.5 124.6h0M402.4 130.5h0" stroke="#111" stroke-opacity="0.42" stroke-width="0.85" stroke-linecap="square" fill="none"/>
</g>
<rect x="386.8" y="106.7" width="44.00" height="30.50" fill="none" stroke="#333" stroke-width="0.7"/>
<path d="M397.3 106.7V137.2M386.8 123.3H430.8" stroke="#333" stroke-width="0.6"/>
<text transform="translate(384.0 135.7) rotate(-90)" font-size="4.1" fill="#555" text-anchor="middle">10<tspan font-size="2.9" dy="-1.2">0</tspan></text>
<path d="M385.6 135.7H386.8" stroke="#666" stroke-width="0.4"/>
<text transform="translate(384.0 128.6) rotate(-90)" font-size="4.1" fill="#555" text-anchor="middle">10<tspan font-size="2.9" dy="-1.2">1</tspan></text>
<path d="M385.6 128.6H386.8" stroke="#666" stroke-width="0.4"/>
<text transform="translate(384.0 121.5) rotate(-90)" font-size="4.1" fill="#555" text-anchor="middle">10<tspan font-size="2.9" dy="-1.2">2</tspan></text>
<path d="M385.6 121.5H386.8" stroke="#666" stroke-width="0.4"/>
<text transform="translate(384.0 114.4) rotate(-90)" font-size="4.1" fill="#555" text-anchor="middle">10<tspan font-size="2.9" dy="-1.2">3</tspan></text>
<path d="M385.6 114.4H386.8" stroke="#666" stroke-width="0.4"/>
<text transform="translate(384.0 107.3) rotate(-90)" font-size="4.1" fill="#555" text-anchor="middle">10<tspan font-size="2.9" dy="-1.2">4</tspan></text>
<path d="M385.6 107.3H386.8" stroke="#666" stroke-width="0.4"/>
<text x="388.0" y="141.7" font-size="3.6" fill="#333" text-anchor="middle">0</text>
<text x="429.5" y="141.7" font-size="3.6" fill="#333" text-anchor="middle">1000</text>
<clipPath id="c23"><rect x="451.6" y="106.7" width="43.40" height="30.50"/></clipPath>
<g clip-path="url(#c23)">
<ellipse cx="469" cy="116.5" rx="9.78" ry="4.00" transform="rotate(-7 469 116.5)" fill="#000" fill-opacity="1" filter="url(#bl)"/>
<ellipse cx="463" cy="120.5" rx="2.55" ry="1.44" transform="rotate(0 463 120.5)" fill="#000" fill-opacity="0.8" filter="url(#bl)"/>
<ellipse cx="481" cy="115" rx="3.40" ry="2.40" transform="rotate(0 481 115)" fill="#000" fill-opacity="0.2" filter="url(#bl)"/>
<ellipse cx="456" cy="127" rx="4.25" ry="2.08" transform="rotate(-65 456 127)" fill="#000" fill-opacity="1" filter="url(#bl)"/>
<path d="M462.6 111.2h0M460.0 121.1h0M475.6 118.2h0M466.6 121.0h0M456.1 120.9h0M476.7 114.3h0M477.3 119.8h0M454.1 128.7h0M481.1 117.6h0M470.3 113.0h0M460.7 118.6h0M483.4 115.5h0M475.0 116.9h0M482.4 116.7h0M466.1 118.0h0M453.4 123.5h0M471.9 114.2h0M473.8 117.7h0M457.9 127.3h0M466.2 123.9h0M481.4 117.3h0M473.7 115.2h0M469.7 117.4h0M471.5 115.3h0M453.3 124.6h0M455.6 131.8h0M458.3 117.7h0M468.6 114.6h0M457.1 125.4h0M486.8 115.7h0M458.5 122.1h0M470.4 114.4h0M472.7 118.8h0M468.6 112.9h0M469.3 113.2h0M462.8 119.3h0M470.3 116.3h0M454.9 124.5h0M459.5 119.1h0M470.0 117.9h0M465.6 111.9h0M463.7 117.4h0M456.0 129.0h0M469.9 118.1h0M463.6 121.4h0M464.1 114.4h0M465.1 116.8h0M468.6 117.0h0M463.6 116.5h0M458.7 121.8h0M466.4 116.7h0M472.6 113.4h0M461.8 116.5h0M471.6 117.3h0M454.9 127.2h0M455.6 120.3h0M455.4 129.0h0M482.8 118.9h0M469.8 117.6h0M453.8 130.7h0M482.2 115.7h0M457.9 113.8h0M467.1 120.3h0M469.3 118.0h0M452.6 128.6h0M455.7 128.8h0M455.0 126.7h0M471.5 118.6h0M473.3 114.7h0M459.2 121.6h0M456.3 126.6h0M479.7 117.4h0M468.8 118.0h0M464.1 117.3h0M470.1 116.8h0M470.3 118.4h0M464.7 116.7h0M465.9 120.7h0M473.6 117.8h0M453.5 128.7h0M476.0 118.4h0M464.0 119.9h0M480.4 115.2h0M454.8 129.6h0M456.0 125.5h0M478.0 114.2h0M481.4 113.4h0M478.6 114.9h0M471.3 116.9h0M465.0 116.6h0M476.5 114.5h0M468.8 119.4h0M476.2 119.0h0M473.3 113.3h0M466.3 120.2h0M461.8 118.4h0M470.0 113.6h0M460.3 122.5h0M465.3 119.5h0M462.8 118.2h0M461.0 117.8h0M468.3 114.6h0M456.9 129.1h0M470.5 115.5h0M469.4 116.4h0M462.2 114.5h0M472.6 109.8h0M458.3 118.6h0M469.4 120.2h0M465.9 116.9h0M469.6 116.7h0M478.4 113.9h0M464.1 120.3h0M482.9 111.4h0M467.5 117.6h0M459.5 117.5h0M465.1 121.3h0M453.7 129.2h0M475.0 117.9h0M469.4 114.3h0M450.8 125.7h0M452.3 111.6h0M466.2 109.6h0M464.0 115.4h0M467.4 116.0h0M468.4 115.8h0M464.2 118.8h0M482.2 117.6h0M455.5 126.7h0M482.2 116.8h0M465.4 117.3h0M466.4 115.9h0M466.3 121.2h0M477.3 121.6h0M473.5 119.2h0M479.1 115.3h0M469.3 118.2h0" stroke="#111" stroke-opacity="0.6" stroke-width="0.8" stroke-linecap="square" fill="none"/>
<path d="M461.7 117.2h0M471.7 116.2h0M481.5 115.9h0M458.7 124.0h0M455.9 125.3h0M473.6 114.4h0M465.0 117.1h0M473.2 115.8h0M474.5 117.1h0M457.8 118.4h0M467.2 116.2h0M467.5 117.7h0M470.8 123.5h0M465.8 114.2h0M463.0 119.7h0M470.7 118.2h0M464.7 121.4h0M465.5 116.8h0M480.0 121.6h0M461.7 123.8h0M467.5 118.3h0M468.5 114.8h0M473.0 119.5h0M453.1 129.3h0M476.4 111.3h0M468.7 116.2h0M458.3 124.5h0M474.6 113.9h0M461.6 122.4h0M463.1 119.9h0M454.3 129.6h0M481.2 115.4h0M471.2 115.7h0M455.3 125.0h0M479.9 116.9h0M471.8 115.9h0M475.1 109.7h0M483.2 114.9h0M480.5 114.8h0M480.6 116.4h0M467.8 113.0h0M461.7 118.7h0M478.8 115.4h0M455.3 124.0h0M468.3 117.3h0M454.2 127.2h0M460.6 114.6h0M466.6 120.2h0M465.0 121.1h0M483.7 112.0h0M475.7 117.5h0M463.4 119.9h0M470.3 120.6h0M466.6 117.0h0M454.2 129.5h0M466.4 122.2h0M467.1 117.0h0M456.5 124.1h0M472.7 112.3h0M470.8 117.6h0M466.5 116.2h0M464.9 118.4h0M469.0 117.5h0M459.9 113.8h0M466.6 117.2h0M482.6 113.0h0M472.7 117.3h0M463.3 120.2h0M473.4 116.4h0M463.5 121.1h0M454.8 129.9h0M455.2 126.5h0M467.7 123.6h0M462.9 120.8h0M453.2 125.9h0M452.7 131.9h0M450.2 122.6h0M462.7 114.0h0M470.0 114.7h0M472.4 121.6h0M466.1 114.0h0M472.3 115.4h0M461.1 122.3h0M468.9 117.9h0M455.4 125.5h0M481.2 113.6h0M458.6 118.6h0M473.6 119.3h0M463.7 118.4h0M461.8 120.0h0M466.8 119.6h0M465.3 111.9h0M481.1 115.7h0M465.0 114.7h0M467.9 116.7h0M471.5 120.4h0M467.7 115.7h0M463.6 121.9h0M466.7 114.3h0M460.2 115.6h0M468.3 116.2h0M472.4 109.4h0M455.8 120.2h0M471.3 114.0h0M466.7 119.3h0M455.3 125.1h0M473.0 110.6h0M465.6 114.3h0M472.5 119.3h0M473.7 108.2h0M479.5 113.2h0M456.9 126.5h0M457.4 122.0h0M471.0 120.4h0M470.5 113.3h0M470.4 119.2h0M477.9 112.7h0M454.9 129.8h0M462.9 120.3h0M464.0 114.6h0M458.4 123.3h0M474.9 109.4h0M462.5 115.5h0M467.5 119.4h0M462.6 115.3h0M470.2 121.2h0M462.1 117.6h0M477.1 114.7h0M475.2 117.5h0M468.1 116.4h0M465.4 120.8h0M482.1 114.8h0M456.6 123.2h0M462.6 113.7h0M456.0 118.8h0M462.5 119.5h0M477.5 119.0h0" stroke="#111" stroke-opacity="0.6" stroke-width="0.8" stroke-linecap="square" fill="none"/>
<path d="M455.7 125.0h0M468.2 118.6h0M469.1 112.4h0M463.4 117.5h0M476.5 116.0h0M464.3 117.3h0M467.7 114.6h0M469.8 113.8h0M468.5 113.3h0M471.5 117.4h0M467.7 121.9h0M468.6 115.5h0M474.1 117.1h0M468.9 116.0h0M469.6 120.3h0M455.8 127.6h0M468.6 120.2h0M462.8 121.7h0M474.8 115.1h0M468.9 117.4h0M480.8 113.5h0M464.4 115.6h0M474.6 112.3h0M458.4 124.1h0M481.4 110.6h0M465.6 114.0h0M482.6 114.3h0M474.0 115.4h0M463.8 119.8h0M461.8 119.6h0M472.1 120.7h0M466.6 110.9h0M469.8 113.1h0M480.5 112.8h0M471.7 110.5h0M457.5 117.5h0M475.2 114.1h0M476.3 116.2h0M469.4 120.9h0M473.3 114.6h0M460.1 114.0h0M457.6 125.0h0M454.8 128.3h0M481.4 117.3h0M463.7 120.7h0M455.2 115.0h0M464.7 115.0h0M471.2 115.5h0M484.1 113.7h0M468.7 112.1h0M462.9 115.3h0M481.3 113.8h0M472.3 115.4h0M468.5 123.3h0M461.7 116.7h0M473.4 122.8h0M457.7 124.1h0M482.4 113.8h0M461.9 114.6h0M468.6 115.9h0M461.9 109.4h0M464.8 120.6h0M464.9 116.1h0M473.6 115.8h0M455.0 116.9h0M470.3 118.7h0M462.2 121.0h0M457.0 125.2h0M463.6 116.5h0M471.6 117.0h0M466.1 118.1h0M481.3 116.3h0M476.9 112.1h0M460.4 118.9h0M471.1 114.2h0M455.9 123.4h0M475.7 114.7h0M468.4 118.3h0M459.2 123.2h0M458.2 117.7h0M467.5 120.5h0M457.0 126.5h0M467.3 115.1h0M475.1 112.2h0M478.7 117.8h0M459.2 117.8h0M477.6 115.9h0M473.4 114.6h0M468.7 114.3h0M453.7 129.1h0M474.8 111.4h0M459.9 118.9h0M473.9 112.8h0M468.9 110.3h0M455.5 126.0h0M461.8 120.6h0M464.8 118.4h0M474.1 112.1h0M464.3 119.6h0M470.9 114.8h0M474.4 118.9h0M455.2 129.3h0M470.5 115.5h0M464.9 115.8h0M479.8 115.1h0M464.3 120.1h0M454.0 131.4h0M471.1 120.2h0M468.4 112.2h0M463.1 120.8h0M475.7 120.0h0M480.6 113.8h0M475.8 115.9h0M463.9 119.5h0M454.8 127.5h0M456.5 129.1h0M480.1 112.7h0M465.6 124.8h0M472.7 118.5h0M477.7 116.5h0M461.2 115.0h0M469.3 115.4h0M472.8 115.9h0M461.1 118.5h0M461.4 113.3h0M461.5 115.7h0M467.4 113.7h0M466.5 120.9h0M475.1 112.3h0M474.7 117.6h0M469.7 119.3h0M470.5 120.8h0M471.3 119.9h0M459.5 118.5h0M466.8 117.4h0M480.0 113.9h0" stroke="#111" stroke-opacity="0.6" stroke-width="0.8" stroke-linecap="square" fill="none"/>
<path d="M458.3 127.3h0M478.3 125.9h0M477.3 128.8h0M474.3 128.8h0M469.4 132.5h0M467.5 125.9h0M465.6 126.7h0M468.6 120.8h0M479.9 127.8h0M475.4 124.4h0M459.2 132.9h0M482.3 130.4h0M471.2 126.4h0M479.8 128.7h0M475.2 129.5h0M473.8 128.6h0M479.2 125.4h0M482.4 128.4h0M479.3 127.0h0M455.0 125.6h0M456.8 137.1h0M463.9 122.8h0M471.5 127.5h0M473.2 127.7h0" stroke="#111" stroke-opacity="0.42" stroke-width="0.85" stroke-linecap="square" fill="none"/>
<path d="M484.8 126.6h0M479.0 127.4h0M465.4 122.3h0M457.9 126.9h0M475.0 127.2h0M478.3 127.6h0M469.7 128.0h0M489.1 126.7h0M476.2 110.2h0M484.5 130.1h0M469.3 123.8h0M492.8 112.5h0M464.5 128.3h0M482.2 128.9h0M478.1 128.9h0M466.9 125.6h0M475.2 127.2h0M479.8 126.3h0M482.5 128.7h0M468.9 125.0h0M476.9 128.4h0M461.8 128.5h0M487.6 127.9h0M483.4 127.9h0" stroke="#111" stroke-opacity="0.42" stroke-width="0.85" stroke-linecap="square" fill="none"/>
</g>
<rect x="451.6" y="106.7" width="43.40" height="30.50" fill="none" stroke="#333" stroke-width="0.7"/>
<path d="M460.8 106.7V137.2M451.6 122.9H495.0" stroke="#333" stroke-width="0.6"/>
<text transform="translate(448.8 135.7) rotate(-90)" font-size="4.1" fill="#555" text-anchor="middle">10<tspan font-size="2.9" dy="-1.2">0</tspan></text>
<path d="M450.4 135.7H451.6" stroke="#666" stroke-width="0.4"/>
<text transform="translate(448.8 128.6) rotate(-90)" font-size="4.1" fill="#555" text-anchor="middle">10<tspan font-size="2.9" dy="-1.2">1</tspan></text>
<path d="M450.4 128.6H451.6" stroke="#666" stroke-width="0.4"/>
<text transform="translate(448.8 121.5) rotate(-90)" font-size="4.1" fill="#555" text-anchor="middle">10<tspan font-size="2.9" dy="-1.2">2</tspan></text>
<path d="M450.4 121.5H451.6" stroke="#666" stroke-width="0.4"/>
<text transform="translate(448.8 114.4) rotate(-90)" font-size="4.1" fill="#555" text-anchor="middle">10<tspan font-size="2.9" dy="-1.2">3</tspan></text>
<path d="M450.4 114.4H451.6" stroke="#666" stroke-width="0.4"/>
<text transform="translate(448.8 107.3) rotate(-90)" font-size="4.1" fill="#555" text-anchor="middle">10<tspan font-size="2.9" dy="-1.2">4</tspan></text>
<path d="M450.4 107.3H451.6" stroke="#666" stroke-width="0.4"/>
<text x="452.8" y="141.7" font-size="3.6" fill="#333" text-anchor="middle">0</text>
<text x="493.7" y="141.7" font-size="3.6" fill="#333" text-anchor="middle">1000</text>
<rect x="461.5" y="107.6" width="16.5" height="3.6" fill="#fff"/>
<text id="tC" x="2.62" y="168.30" font-size="10.8" font-weight="bold" fill="#111" stroke="#111" stroke-width="0.3" textLength="6.96" lengthAdjust="spacingAndGlyphs">C</text>
<path d="M20.3 174.70H119.6V240.4" stroke="#999" stroke-width="0.8" fill="none"/>
<path d="M20.3 174.40V240.4H119.6" stroke="#666" stroke-width="0.8" fill="none"/>
<path d="M18.7 240.40H20.3" stroke="#333" stroke-width="0.5"/>
<text id="c1y0" x="13.72" y="242.90" font-size="3.8" font-weight="normal" fill="#111" stroke="#111" stroke-width="0.15" textLength="2.85" lengthAdjust="spacingAndGlyphs">0</text>
<path d="M18.7 223.97H20.3" stroke="#333" stroke-width="0.5"/>
<text id="c1y25" x="12.23" y="226.50" font-size="3.8" font-weight="normal" fill="#111" stroke="#111" stroke-width="0.15" textLength="4.18" lengthAdjust="spacingAndGlyphs">25</text>
<path d="M18.7 207.55H20.3" stroke="#333" stroke-width="0.5"/>
<text id="c1y50" x="13.03" y="209.65" font-size="3.8" font-weight="normal" fill="#111" stroke="#111" stroke-width="0.15" textLength="3.82" lengthAdjust="spacingAndGlyphs">50</text>
<path d="M18.7 191.12H20.3" stroke="#333" stroke-width="0.5"/>
<text id="c1y75" x="12.80" y="193.14" font-size="3.8" font-weight="normal" fill="#111" stroke="#111" stroke-width="0.15" textLength="4.23" lengthAdjust="spacingAndGlyphs">75</text>
<path d="M18.7 174.70H20.3" stroke="#333" stroke-width="0.5"/>
<text id="c1y100" x="8.81" y="177.10" font-size="3.8" font-weight="normal" fill="#111" stroke="#111" stroke-width="0.15" textLength="7.86" lengthAdjust="spacingAndGlyphs">100</text>
<path d="M20.30 240.4V241.9" stroke="#333" stroke-width="0.5"/>
<text id="c1x0" x="19.73" y="247.00" font-size="3.8" font-weight="normal" fill="#111" stroke="#111" stroke-width="0.15" textLength="2.10" lengthAdjust="spacingAndGlyphs">0</text>
<path d="M45.28 240.4V241.9" stroke="#333" stroke-width="0.5"/>
<text id="c1x250" x="41.19" y="246.80" font-size="3.8" font-weight="normal" fill="#111" stroke="#111" stroke-width="0.15" textLength="7.30" lengthAdjust="spacingAndGlyphs">250</text>
<path d="M70.25 240.4V241.9" stroke="#333" stroke-width="0.5"/>
<text id="c1x500" x="66.44" y="246.80" font-size="3.8" font-weight="normal" fill="#111" stroke="#111" stroke-width="0.15" textLength="7.28" lengthAdjust="spacingAndGlyphs">500</text>
<path d="M95.22 240.4V241.9" stroke="#333" stroke-width="0.5"/>
<text id="c1x750" x="90.68" y="246.80" font-size="3.8" font-weight="normal" fill="#111" stroke="#111" stroke-width="0.15" textLength="8.47" lengthAdjust="spacingAndGlyphs">750</text>
<path d="M120.20 240.4V241.9" stroke="#333" stroke-width="0.5"/>
<text id="c1x1000" x="115.37" y="247.30" font-size="3.8" font-weight="normal" fill="#111" stroke="#111" stroke-width="0.15" textLength="9.42" lengthAdjust="spacingAndGlyphs">1000</text>
<text id="c1xl" x="40.81" y="256.50" font-size="5.6" font-weight="bold" fill="#111" stroke="#111" stroke-width="0.22" textLength="65.41" lengthAdjust="spacingAndGlyphs">Gzm concentration (nM)</text>
<text id="c1yl" transform="translate(7.60 229.04) rotate(-90)" font-size="5.6" font-weight="bold" fill="#111" stroke="#111" stroke-width="0.22" textLength="43.33" lengthAdjust="spacingAndGlyphs">% 7-AAD<tspan font-size="3.6" dy="-2">lo</tspan><tspan dy="2"> at 1h</tspan></text>
<polyline points="20.30,182.58 25.30,187.18 30.29,195.72 70.25,235.47 120.20,240.40" fill="none" stroke="#000" stroke-width="1.15" stroke-dasharray="2.2 1.2"/>
<polyline points="20.30,182.58 25.30,189.81 30.29,224.63 70.25,236.79 120.20,240.40" fill="none" stroke="#000" stroke-width="1.2"/>
<path d="M19.00 181.58H21.60L20.30 183.88Z" fill="#fff" stroke="#000" stroke-width="0.5"/>
<path d="M24.00 186.18H26.60L25.30 188.48Z" fill="#fff" stroke="#000" stroke-width="0.5"/>
<path d="M28.99 194.72H31.59L30.29 197.02Z" fill="#fff" stroke="#000" stroke-width="0.5"/>
<path d="M68.95 234.47H71.55L70.25 236.77Z" fill="#fff" stroke="#000" stroke-width="0.5"/>
<path d="M118.90 239.40H121.50L120.20 241.70Z" fill="#fff" stroke="#000" stroke-width="0.5"/>
<circle cx="20.30" cy="182.58" r="1.45" fill="#fff" stroke="#000" stroke-width="0.65"/>
<circle cx="25.30" cy="189.81" r="1.45" fill="#fff" stroke="#000" stroke-width="0.65"/>
<circle cx="30.29" cy="224.63" r="1.45" fill="#fff" stroke="#000" stroke-width="0.65"/>
<circle cx="70.25" cy="236.79" r="1.45" fill="#fff" stroke="#000" stroke-width="0.65"/>
<circle cx="120.20" cy="240.40" r="1.45" fill="#fff" stroke="#000" stroke-width="0.65"/>
<rect x="18.80" y="179.11" width="3" height="3" fill="#fff" stroke="#000" stroke-width="0.7"/>
<path d="M18.70 183.88H21.90L20.30 180.88Z" fill="#000"/>
<text id="c1lg0" x="93.51" y="181.80" font-size="4.6" font-weight="bold" fill="#111" stroke="#111" stroke-width="0.05" textLength="20.89" lengthAdjust="spacingAndGlyphs">Untreated</text>
<rect x="84.0" y="178.2" width="2.6" height="2.6" fill="#fff" stroke="#000" stroke-width="0.8"/>
<text id="c1lg1" x="93.03" y="188.50" font-size="4.6" font-weight="bold" fill="#111" stroke="#111" stroke-width="0.05" textLength="7.01" lengthAdjust="spacingAndGlyphs">Pfn</text>
<path d="M83.7 188.3H86.9L85.3 185.5Z" fill="#000"/>
<text id="c1lg2" x="93.64" y="196.60" font-size="4.6" font-weight="bold" fill="#111" stroke="#111" stroke-width="0.05" textLength="22.75" lengthAdjust="spacingAndGlyphs">Pfn/rGzmB</text>
<path d="M79.9 194.4H90.7" stroke="#000" stroke-width="1"/><circle cx="85.3" cy="194.4" r="1.2" fill="#fff" stroke="#000" stroke-width="0.6"/>
<text id="c1lg3" x="92.54" y="203.80" font-size="4.6" font-weight="bold" fill="#111" stroke="#111" stroke-width="0.05" textLength="23.95" lengthAdjust="spacingAndGlyphs">Pfn/rGzmC</text>
<path d="M79.9 201.9H90.7" stroke="#000" stroke-width="1.1" stroke-dasharray="1.8 1"/><path d="M83.8 200.8H86.8L85.3 203.3Z" fill="#fff" stroke="#000" stroke-width="0.6"/>
<path d="M157.3 174.60H256.5V240.4" stroke="#999" stroke-width="0.8" fill="none"/>
<path d="M157.3 174.30V240.4H256.5" stroke="#666" stroke-width="0.8" fill="none"/>
<path d="M155.70000000000002 240.40H157.3" stroke="#333" stroke-width="0.5"/>
<text id="c2y0" x="150.72" y="242.30" font-size="3.8" font-weight="normal" fill="#111" stroke="#111" stroke-width="0.15" textLength="2.67" lengthAdjust="spacingAndGlyphs">0</text>
<path d="M155.70000000000002 223.95H157.3" stroke="#333" stroke-width="0.5"/>
<text id="c2y25" x="148.46" y="226.05" font-size="3.8" font-weight="normal" fill="#111" stroke="#111" stroke-width="0.15" textLength="4.36" lengthAdjust="spacingAndGlyphs">25</text>
<path d="M155.70000000000002 207.50H157.3" stroke="#333" stroke-width="0.5"/>
<text id="c2y50" x="148.75" y="209.60" font-size="3.8" font-weight="normal" fill="#111" stroke="#111" stroke-width="0.15" textLength="4.47" lengthAdjust="spacingAndGlyphs">50</text>
<path d="M155.70000000000002 191.05H157.3" stroke="#333" stroke-width="0.5"/>
<text id="c2y75" x="148.60" y="193.15" font-size="3.8" font-weight="normal" fill="#111" stroke="#111" stroke-width="0.15" textLength="3.92" lengthAdjust="spacingAndGlyphs">75</text>
<path d="M155.70000000000002 174.60H157.3" stroke="#333" stroke-width="0.5"/>
<text id="c2y100" x="145.39" y="176.90" font-size="3.8" font-weight="normal" fill="#111" stroke="#111" stroke-width="0.15" textLength="7.05" lengthAdjust="spacingAndGlyphs">100</text>
<path d="M157.30 240.4V241.9" stroke="#333" stroke-width="0.5"/>
<text id="c2x0" x="156.73" y="247.50" font-size="3.8" font-weight="normal" fill="#111" stroke="#111" stroke-width="0.15" textLength="2.10" lengthAdjust="spacingAndGlyphs">0</text>
<path d="M182.10 240.4V241.9" stroke="#333" stroke-width="0.5"/>
<text id="c2x250" x="178.32" y="247.90" font-size="3.8" font-weight="normal" fill="#111" stroke="#111" stroke-width="0.15" textLength="7.21" lengthAdjust="spacingAndGlyphs">250</text>
<path d="M206.90 240.4V241.9" stroke="#333" stroke-width="0.5"/>
<text id="c2x500" x="203.43" y="247.90" font-size="3.8" font-weight="normal" fill="#111" stroke="#111" stroke-width="0.15" textLength="7.22" lengthAdjust="spacingAndGlyphs">500</text>
<path d="M231.70 240.4V241.9" stroke="#333" stroke-width="0.5"/>
<text id="c2x750" x="227.49" y="247.90" font-size="3.8" font-weight="normal" fill="#111" stroke="#111" stroke-width="0.15" textLength="7.33" lengthAdjust="spacingAndGlyphs">750</text>
<path d="M256.50 240.4V241.9" stroke="#333" stroke-width="0.5"/>
<text id="c2x1000" x="251.48" y="247.90" font-size="3.8" font-weight="normal" fill="#111" stroke="#111" stroke-width="0.15" textLength="9.90" lengthAdjust="spacingAndGlyphs">1000</text>
<text id="c2xl" x="176.68" y="255.80" font-size="5.6" font-weight="bold" fill="#111" stroke="#111" stroke-width="0.22" textLength="65.60" lengthAdjust="spacingAndGlyphs">Gzm concentration (nM)</text>
<text id="c2yl" transform="translate(142.15 247.30) rotate(-90)" font-size="5.6" font-weight="bold" fill="#111" stroke="#111" stroke-width="0.22" textLength="70.64" lengthAdjust="spacingAndGlyphs">% clonogenic target cells</text>
<polyline points="157.30,197.63 162.26,233.16 167.22,234.48 206.90,239.54 256.50,240.40" fill="none" stroke="#000" stroke-width="1.15" stroke-dasharray="2.2 1.2"/>
<polyline points="157.30,197.63 162.26,233.82 167.22,238.43 206.90,239.74 256.50,240.40" fill="none" stroke="#000" stroke-width="1.2"/>
<path d="M156.00 196.63H158.60L157.30 198.93Z" fill="#fff" stroke="#000" stroke-width="0.5"/>
<path d="M160.96 232.16H163.56L162.26 234.46Z" fill="#fff" stroke="#000" stroke-width="0.5"/>
<path d="M165.92 233.48H168.52L167.22 235.78Z" fill="#fff" stroke="#000" stroke-width="0.5"/>
<path d="M205.60 238.54H208.20L206.90 240.84Z" fill="#fff" stroke="#000" stroke-width="0.5"/>
<path d="M255.20 239.40H257.80L256.50 241.70Z" fill="#fff" stroke="#000" stroke-width="0.5"/>
<circle cx="157.30" cy="197.63" r="1.45" fill="#fff" stroke="#000" stroke-width="0.65"/>
<circle cx="162.26" cy="233.82" r="1.45" fill="#fff" stroke="#000" stroke-width="0.65"/>
<circle cx="167.22" cy="238.43" r="1.45" fill="#fff" stroke="#000" stroke-width="0.65"/>
<circle cx="206.90" cy="239.74" r="1.45" fill="#fff" stroke="#000" stroke-width="0.65"/>
<circle cx="256.50" cy="240.40" r="1.45" fill="#fff" stroke="#000" stroke-width="0.65"/>
<rect x="155.80" y="195.80" width="3" height="3" fill="#fff" stroke="#000" stroke-width="0.7"/>
<path d="M155.70 192.35H158.90L157.30 189.35Z" fill="#000"/>
<text id="c2lg0" x="229.50" y="182.15" font-size="4.6" font-weight="bold" fill="#111" stroke="#111" stroke-width="0.05" textLength="21.96" lengthAdjust="spacingAndGlyphs">Untreated</text>
<rect x="220.3" y="178.7" width="2.6" height="2.6" fill="#fff" stroke="#000" stroke-width="0.8"/>
<text id="c2lg1" x="229.73" y="189.60" font-size="4.6" font-weight="bold" fill="#111" stroke="#111" stroke-width="0.05" textLength="6.42" lengthAdjust="spacingAndGlyphs">Pfn</text>
<path d="M220.0 189.2H223.2L221.6 186.4Z" fill="#000"/>
<text id="c2lg2" x="229.56" y="197.80" font-size="4.6" font-weight="bold" fill="#111" stroke="#111" stroke-width="0.05" textLength="23.83" lengthAdjust="spacingAndGlyphs">Pfn/rGzmB</text>
<path d="M216.2 195.6H227.0" stroke="#000" stroke-width="1"/><circle cx="221.6" cy="195.6" r="1.2" fill="#fff" stroke="#000" stroke-width="0.6"/>
<text id="c2lg3" x="229.62" y="205.70" font-size="4.6" font-weight="bold" fill="#111" stroke="#111" stroke-width="0.05" textLength="23.79" lengthAdjust="spacingAndGlyphs">Pfn/rGzmC</text>
<path d="M216.2 203.3H227.0" stroke="#000" stroke-width="1.1" stroke-dasharray="1.8 1"/><path d="M220.1 202.2H223.1L221.6 204.7Z" fill="#fff" stroke="#000" stroke-width="0.6"/>
</svg></body></html>
